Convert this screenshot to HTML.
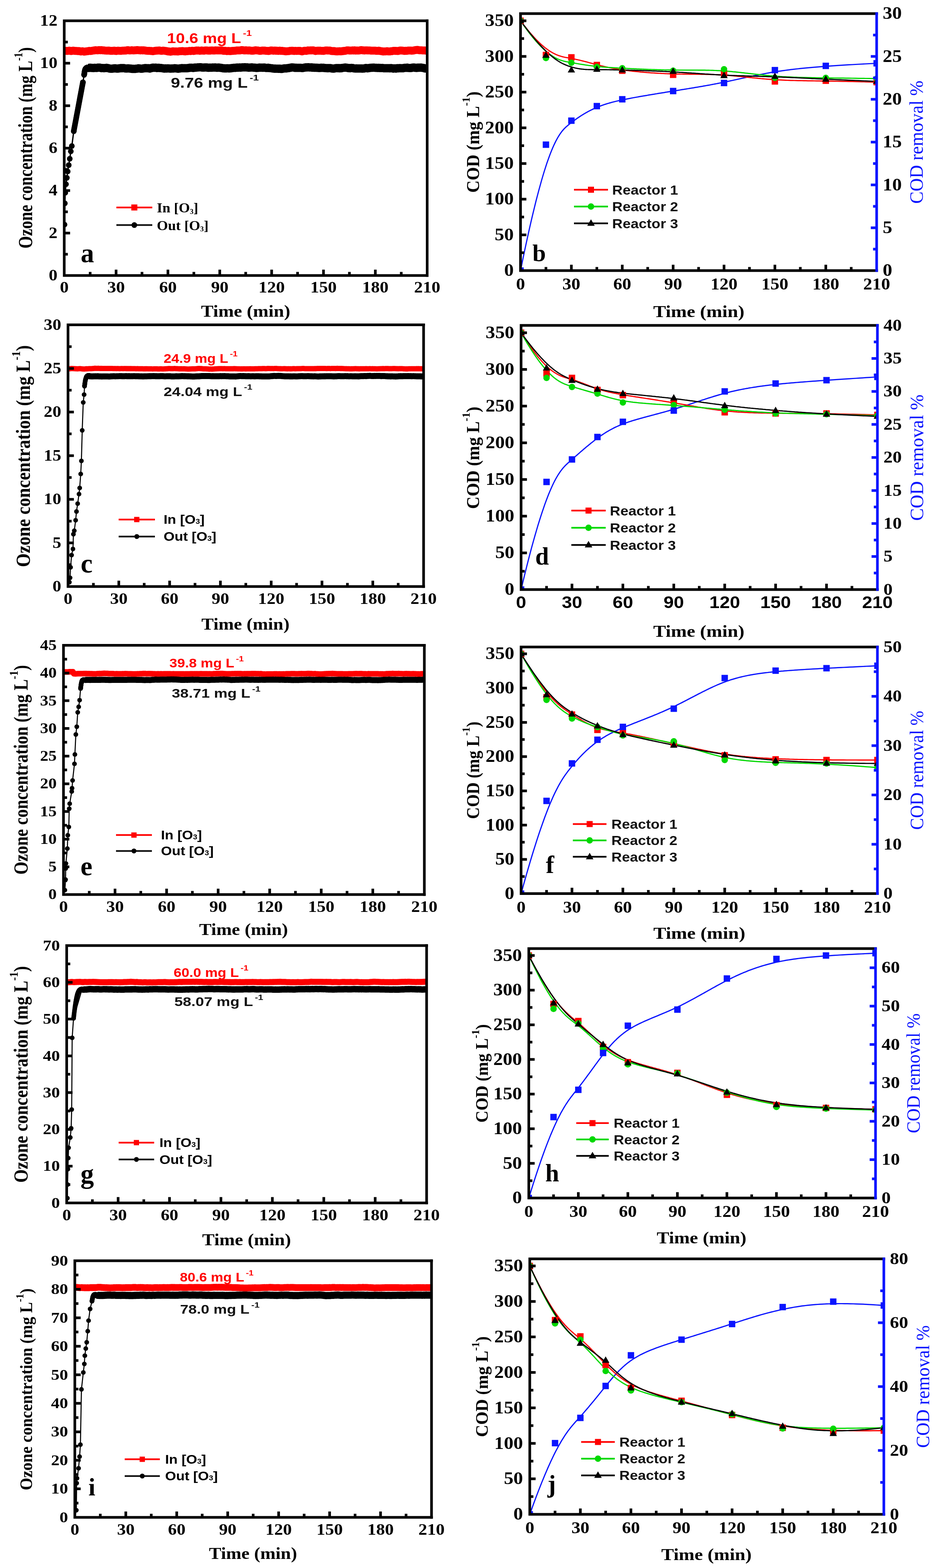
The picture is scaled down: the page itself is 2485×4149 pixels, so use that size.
<!DOCTYPE html>
<html><head><meta charset="utf-8"><title>Ozone concentration and COD removal</title>
<style>html,body{margin:0;padding:0;background:#fff;}svg{display:block;}</style></head>
<body><svg xmlns="http://www.w3.org/2000/svg" width="2485" height="4149" viewBox="0 0 2485 4149">
<rect x="0" y="0" width="2485" height="4149" fill="#fff"/>
<clipPath id="cpa"><rect x="170" y="55" width="960.5" height="674"/></clipPath><g clip-path="url(#cpa)">
<polyline points="170,134.2 172.3,134.3 174.6,134.6 176.9,134.7 179.1,134.7 181.4,134.3 183.7,133.9 186,134.4 188.3,135.1 190.6,134.7 192.9,133.9 195.2,134.3 197.4,134.5 199.7,134.8 202,134.8 204.3,135 206.6,135.2 208.9,135 211.2,135.6 213.5,136.2 215.7,136 218,135.6 220.3,135.9 222.6,136.7 224.9,136.3 227.2,136 229.5,135.8 231.7,135.6 234,135 236.3,134.6 238.6,134.9 240.9,134.8 243.2,134.4 245.5,134 247.8,133.6 250,133.5 252.3,132.8 254.6,132.9 256.9,133.1 259.2,133.2 261.5,132.6 263.8,132.7 266.1,133 268.3,132.6 270.6,132.9 272.9,133.3 275.2,133.2 277.5,133.7 279.8,133.9 282.1,134.1 284.3,134.1 286.6,133.8 288.9,133.9 291.2,134.3 293.5,134.6 295.8,134.4 298.1,134.4 300.4,134.1 302.6,133.9 304.9,134.6 307.2,134.9 309.5,134.4 311.8,134.1 314.1,134.2 316.4,134.4 318.6,134.6 320.9,134.5 323.2,134.1 325.5,134.1 327.8,134.1 330.1,133.7 332.4,133.9 334.7,133.5 336.9,132.7 339.2,132.8 341.5,133.3 343.8,133.6 346.1,133.4 348.4,132.8 350.7,133.2 353,133.4 355.2,133.3 357.5,133 359.8,133.1 362.1,132.6 364.4,132.6 366.7,133 369,133.1 371.2,133.4 373.5,132.9 375.8,132.9 378.1,133.5 380.4,133.1 382.7,133.4 385,133.8 387.3,134.2 389.5,134.4 391.8,134.6 394.1,134.5 396.4,134.6 398.7,134.9 401,134.8 403.3,135.4 405.6,135.4 407.8,134.8 410.1,134.5 412.4,134.3 414.7,133.9 417,134 419.3,133.7 421.6,133.6 423.8,134.1 426.1,134.5 428.4,134.5 430.7,134 433,134 435.3,134.4 437.6,134.6 439.9,135 442.1,135.6 444.4,136.2 446.7,135.9 449,136.5 451.3,136.9 453.6,136.3 455.9,136 458.1,135.7 460.4,135.9 462.7,136.1 465,135.9 467.3,136.1 469.6,136.2 471.9,136.2 474.2,135.5 476.4,135.5 478.7,135.5 481,135.2 483.3,135.1 485.6,135.5 487.9,135.8 490.2,136 492.5,135.4 494.7,135.6 497,135.4 499.3,135 501.6,134.6 503.9,135.2 506.2,134.8 508.5,134.3 510.7,134.4 513,134.9 515.3,134.3 517.6,134 519.9,133.6 522.2,134 524.5,133.6 526.8,134.1 529,134.4 531.3,134.1 533.6,133.5 535.9,134.1 538.2,134 540.5,134.2 542.8,133.6 545.1,133.5 547.3,133.5 549.6,133.8 551.9,134.1 554.2,133.8 556.5,133.9 558.8,133.4 561.1,133.4 563.3,133.7 565.6,133.8 567.9,133.8 570.2,133.2 572.5,133.4 574.8,133.6 577.1,133.6 579.4,133.6 581.6,133.4 583.9,133.6 586.2,133.2 588.5,133.8 590.8,134.5 593.1,134.4 595.4,134.3 597.7,134.6 599.9,135.2 602.2,135.1 604.5,134.7 606.8,135 609.1,135.2 611.4,135 613.7,134.8 615.9,134.5 618.2,134.4 620.5,134.3 622.8,134.3 625.1,133.8 627.4,133.4 629.7,133.4 632,133.4 634.2,133.6 636.5,133.2 638.8,132.5 641.1,132.6 643.4,132.8 645.7,133.4 648,133.5 650.2,132.9 652.5,133.3 654.8,133.4 657.1,133.7 659.4,133.3 661.7,133.7 664,134 666.3,134.2 668.5,134.3 670.8,134 673.1,133.8 675.4,133.1 677.7,133.1 680,133.4 682.3,133.5 684.6,134.1 686.8,134.6 689.1,134.6 691.4,134.2 693.7,133.8 696,133.7 698.3,133.9 700.6,133.8 702.8,134.3 705.1,134.6 707.4,134.5 709.7,134.9 712,134.8 714.3,134 716.6,133.6 718.9,133.5 721.1,133.8 723.4,134.3 725.7,133.9 728,133.7 730.3,134.4 732.6,134.1 734.9,134.6 737.2,134.7 739.4,134 741.7,134.2 744,134.7 746.3,134.4 748.6,134.8 750.9,135.1 753.2,135.2 755.4,135.7 757.7,135.7 760,135.6 762.3,135.4 764.6,135.2 766.9,134.5 769.2,134.4 771.5,134.2 773.7,134.2 776,134.6 778.3,134.9 780.6,134.5 782.9,134.6 785.2,134.8 787.5,134.6 789.8,134.4 792,134.7 794.3,134.6 796.6,135.2 798.9,135.9 801.2,135.4 803.5,134.7 805.8,134.3 808,134.3 810.3,134.7 812.6,134.2 814.9,133.3 817.2,133.7 819.5,133.4 821.8,133.3 824.1,133.5 826.3,133.3 828.6,133.1 830.9,133.7 833.2,134.4 835.5,135 837.8,134.3 840.1,134.1 842.4,134 844.6,134.3 846.9,134 849.2,134.3 851.5,134.6 853.8,134.5 856.1,134.7 858.4,134.2 860.6,133.7 862.9,133.5 865.2,133.4 867.5,133.8 869.8,133.7 872.1,133.7 874.4,134.1 876.7,134.9 878.9,135 881.2,135.2 883.5,135 885.8,135.2 888.1,135.9 890.4,136.1 892.7,136.1 894.9,135.7 897.2,135.8 899.5,135.5 901.8,135.9 904.1,135.7 906.4,135 908.7,135.2 911,134.4 913.2,134.7 915.5,134.1 917.8,133.3 920.1,133.2 922.4,133.2 924.7,133.7 927,133.7 929.3,133.7 931.5,133.6 933.8,133.2 936.1,133.8 938.4,133.1 940.7,133.9 943,133.7 945.3,133.6 947.5,133.8 949.8,133.7 952.1,133.3 954.4,132.7 956.7,132.6 959,133.2 961.3,133.1 963.6,133.7 965.8,133.2 968.1,133.4 970.4,133.2 972.7,133.5 975,133.4 977.3,133.4 979.6,133.7 981.9,134 984.1,133.9 986.4,134.1 988.7,133.9 991,134 993.3,133.9 995.6,134.5 997.9,134.5 1000.1,134.4 1002.4,133.9 1004.7,134.7 1007,135.1 1009.3,135.4 1011.6,135.8 1013.9,136.3 1016.2,136 1018.4,136 1020.7,135.9 1023,135.6 1025.3,135.5 1027.6,136 1029.9,135.9 1032.2,136 1034.5,135.5 1036.7,135.4 1039,134.9 1041.3,134.4 1043.6,134.4 1045.9,134.7 1048.2,134.6 1050.5,134.8 1052.7,135 1055,134.7 1057.3,133.9 1059.6,133.6 1061.9,133.8 1064.2,133.8 1066.5,134.1 1068.8,134.6 1071,134.8 1073.3,134.3 1075.6,134.5 1077.9,134.3 1080.2,133.7 1082.5,133.8 1084.8,133.7 1087,133.8 1089.3,134.2 1091.6,133.9 1093.9,133.8 1096.2,133.3 1098.5,132.6 1100.8,132.3 1103.1,132.2 1105.3,131.9 1107.6,132.4 1109.9,132.9 1112.2,133 1114.5,133.1 1116.8,133.2 1119.1,133.5 1121.4,133.5 1123.6,133.5 1125.9,133.7 1128.2,134 1130.5,134.6" fill="none" stroke="#ff0000" stroke-width="21" stroke-linejoin="round" stroke-linecap="butt"/>
<polyline points="170,729 170.7,594.2 171.6,538 172.7,510 174.6,487.5 176.9,470.6 179.1,453.8 181.9,436.9 184.6,420.1 187.4,400.4 190.1,386.4 195.2,347.1 219.4,217.9 223.1,195.4 232.2,178.6" fill="none" stroke="#000000" stroke-width="3.5" stroke-linejoin="round" stroke-linecap="round"/>
<circle cx="170.7" cy="594.2" r="7.5" fill="#000000"/>
<circle cx="171.6" cy="538" r="7.5" fill="#000000"/>
<circle cx="172.7" cy="510" r="7.5" fill="#000000"/>
<circle cx="174.6" cy="487.5" r="7.5" fill="#000000"/>
<circle cx="176.9" cy="470.6" r="7.5" fill="#000000"/>
<circle cx="179.1" cy="453.8" r="7.5" fill="#000000"/>
<circle cx="181.9" cy="436.9" r="7.5" fill="#000000"/>
<circle cx="184.6" cy="420.1" r="7.5" fill="#000000"/>
<circle cx="187.4" cy="400.4" r="7.5" fill="#000000"/>
<circle cx="190.1" cy="386.4" r="7.5" fill="#000000"/>
<circle cx="195.2" cy="347.1" r="7.5" fill="#000000"/>
<circle cx="219.4" cy="217.9" r="7.5" fill="#000000"/>
<circle cx="223.1" cy="195.4" r="7.5" fill="#000000"/>
<circle cx="195.2" cy="347.1" r="7.5" fill="#000000"/>
<circle cx="195.7" cy="344.1" r="7.5" fill="#000000"/>
<circle cx="196.3" cy="341.1" r="7.5" fill="#000000"/>
<circle cx="196.8" cy="338.1" r="7.5" fill="#000000"/>
<circle cx="197.4" cy="335" r="7.5" fill="#000000"/>
<circle cx="198" cy="332" r="7.5" fill="#000000"/>
<circle cx="198.5" cy="329" r="7.5" fill="#000000"/>
<circle cx="199.1" cy="326" r="7.5" fill="#000000"/>
<circle cx="199.7" cy="323" r="7.5" fill="#000000"/>
<circle cx="200.2" cy="320" r="7.5" fill="#000000"/>
<circle cx="200.8" cy="317" r="7.5" fill="#000000"/>
<circle cx="201.4" cy="314" r="7.5" fill="#000000"/>
<circle cx="201.9" cy="311" r="7.5" fill="#000000"/>
<circle cx="202.5" cy="308" r="7.5" fill="#000000"/>
<circle cx="203" cy="305" r="7.5" fill="#000000"/>
<circle cx="203.6" cy="302" r="7.5" fill="#000000"/>
<circle cx="204.2" cy="299" r="7.5" fill="#000000"/>
<circle cx="204.7" cy="296" r="7.5" fill="#000000"/>
<circle cx="205.3" cy="293" r="7.5" fill="#000000"/>
<circle cx="205.9" cy="290" r="7.5" fill="#000000"/>
<circle cx="206.4" cy="287" r="7.5" fill="#000000"/>
<circle cx="207" cy="284" r="7.5" fill="#000000"/>
<circle cx="207.6" cy="281" r="7.5" fill="#000000"/>
<circle cx="208.1" cy="278" r="7.5" fill="#000000"/>
<circle cx="208.7" cy="275" r="7.5" fill="#000000"/>
<circle cx="209.2" cy="272" r="7.5" fill="#000000"/>
<circle cx="209.8" cy="269" r="7.5" fill="#000000"/>
<circle cx="210.4" cy="266" r="7.5" fill="#000000"/>
<circle cx="210.9" cy="262.9" r="7.5" fill="#000000"/>
<circle cx="211.5" cy="259.9" r="7.5" fill="#000000"/>
<circle cx="212.1" cy="256.9" r="7.5" fill="#000000"/>
<circle cx="212.6" cy="253.9" r="7.5" fill="#000000"/>
<circle cx="213.2" cy="250.9" r="7.5" fill="#000000"/>
<circle cx="213.8" cy="247.9" r="7.5" fill="#000000"/>
<circle cx="214.3" cy="244.9" r="7.5" fill="#000000"/>
<circle cx="214.9" cy="241.9" r="7.5" fill="#000000"/>
<circle cx="215.5" cy="238.9" r="7.5" fill="#000000"/>
<circle cx="216" cy="235.9" r="7.5" fill="#000000"/>
<circle cx="216.6" cy="232.9" r="7.5" fill="#000000"/>
<circle cx="217.1" cy="229.9" r="7.5" fill="#000000"/>
<circle cx="217.7" cy="226.9" r="7.5" fill="#000000"/>
<circle cx="218.3" cy="223.9" r="7.5" fill="#000000"/>
<circle cx="218.8" cy="220.9" r="7.5" fill="#000000"/>
<circle cx="219.4" cy="217.9" r="7.5" fill="#000000"/>
<circle cx="222.6" cy="198.2" r="7.5" fill="#000000"/>
<circle cx="222.7" cy="197.4" r="7.5" fill="#000000"/>
<circle cx="222.9" cy="196.4" r="7.5" fill="#000000"/>
<circle cx="223.1" cy="195.1" r="7.5" fill="#000000"/>
<circle cx="223.3" cy="193.6" r="7.5" fill="#000000"/>
<circle cx="223.5" cy="192.1" r="7.5" fill="#000000"/>
<circle cx="223.8" cy="190.6" r="7.5" fill="#000000"/>
<circle cx="224" cy="189.1" r="7.5" fill="#000000"/>
<circle cx="224.3" cy="187.6" r="7.5" fill="#000000"/>
<circle cx="224.6" cy="186.4" r="7.5" fill="#000000"/>
<circle cx="224.9" cy="185.3" r="7.5" fill="#000000"/>
<circle cx="225.2" cy="184.4" r="7.5" fill="#000000"/>
<circle cx="225.5" cy="183.6" r="7.5" fill="#000000"/>
<circle cx="225.9" cy="182.9" r="7.5" fill="#000000"/>
<circle cx="226.3" cy="182.3" r="7.5" fill="#000000"/>
<circle cx="226.6" cy="181.8" r="7.5" fill="#000000"/>
<circle cx="227" cy="181.3" r="7.5" fill="#000000"/>
<circle cx="227.4" cy="180.8" r="7.5" fill="#000000"/>
<circle cx="227.8" cy="180.4" r="7.5" fill="#000000"/>
<circle cx="228.2" cy="180" r="7.5" fill="#000000"/>
<circle cx="228.5" cy="179.7" r="7.5" fill="#000000"/>
<circle cx="228.9" cy="179.4" r="7.5" fill="#000000"/>
<circle cx="229.3" cy="179.2" r="7.5" fill="#000000"/>
<circle cx="229.8" cy="179" r="7.5" fill="#000000"/>
<circle cx="230.2" cy="178.9" r="7.5" fill="#000000"/>
<circle cx="230.6" cy="178.8" r="7.5" fill="#000000"/>
<circle cx="231" cy="178.7" r="7.5" fill="#000000"/>
<circle cx="231.4" cy="178.7" r="7.5" fill="#000000"/>
<circle cx="231.7" cy="178.6" r="7.5" fill="#000000"/>
<circle cx="232" cy="178.6" r="7.5" fill="#000000"/>
<circle cx="232.2" cy="178.6" r="7.5" fill="#000000"/>
<polyline points="232.2,178.6 234,179.8 236.3,179.5 238.6,179.3 240.9,179.5 243.2,179.7 245.5,179.8 247.8,180.1 250,179.6 252.3,179.6 254.6,179.8 256.9,179.6 259.2,179 261.5,179 263.8,179.1 266.1,179.6 268.3,180.2 270.6,180 272.9,179.9 275.2,180.6 277.5,179.9 279.8,180.1 282.1,179.6 284.3,180 286.6,180.4 288.9,181.2 291.2,181.6 293.5,181.8 295.8,181.7 298.1,181.5 300.4,181.2 302.6,180.9 304.9,180.8 307.2,181.2 309.5,181.5 311.8,181.5 314.1,180.9 316.4,180.9 318.6,180.3 320.9,180.3 323.2,180.5 325.5,180.2 327.8,180.3 330.1,180.8 332.4,181.2 334.7,181.2 336.9,181.2 339.2,180.9 341.5,181.1 343.8,181.5 346.1,181.4 348.4,182 350.7,182.2 353,182.1 355.2,182.3 357.5,182.3 359.8,181.7 362.1,181.7 364.4,181.3 366.7,180.8 369,181.1 371.2,181.4 373.5,181.8 375.8,181.7 378.1,181.3 380.4,180.8 382.7,180.5 385,180.2 387.3,180.5 389.5,180.4 391.8,180.7 394.1,180.6 396.4,181.4 398.7,180.6 401,180 403.3,179.2 405.6,179.1 407.8,179.4 410.1,179.2 412.4,179.1 414.7,179.9 417,179.4 419.3,179.7 421.6,179.4 423.8,180.1 426.1,180 428.4,180.3 430.7,180.6 433,181.3 435.3,181.4 437.6,181 439.9,181.2 442.1,181.2 444.4,180.9 446.7,181.1 449,181.3 451.3,181.6 453.6,181.3 455.9,181.3 458.1,181.2 460.4,181 462.7,180.6 465,180.9 467.3,181.2 469.6,181.5 471.9,181.8 474.2,181.3 476.4,181 478.7,180.7 481,180.3 483.3,180.5 485.6,180.4 487.9,180.6 490.2,180.5 492.5,180.5 494.7,180.5 497,180.3 499.3,179.9 501.6,179.3 503.9,179.4 506.2,179.2 508.5,179.4 510.7,179.8 513,179.5 515.3,178.8 517.6,179 519.9,178.8 522.2,178.6 524.5,178.2 526.8,178.2 529,178.1 531.3,178.1 533.6,178.6 535.9,178.8 538.2,178.8 540.5,178.7 542.8,178.4 545.1,178.5 547.3,178.5 549.6,179.1 551.9,179.3 554.2,179 556.5,179 558.8,179 561.1,179 563.3,178.6 565.6,178.8 567.9,178.6 570.2,178.6 572.5,179 574.8,179.3 577.1,178.8 579.4,178.8 581.6,179.3 583.9,179.4 586.2,179.8 588.5,180.2 590.8,180.7 593.1,180.7 595.4,181 597.7,181.1 599.9,180.7 602.2,180.7 604.5,180.9 606.8,180.9 609.1,180.8 611.4,180.5 613.7,180.3 615.9,179.9 618.2,179.6 620.5,179.5 622.8,179.5 625.1,179.2 627.4,178.7 629.7,179.1 632,178.9 634.2,178.4 636.5,178.9 638.8,178.7 641.1,178.3 643.4,178.3 645.7,178.2 648,178.1 650.2,178.2 652.5,178.4 654.8,178.3 657.1,179 659.4,178.9 661.7,178.8 664,178.7 666.3,178.3 668.5,178.7 670.8,178.9 673.1,179 675.4,179.2 677.7,179.6 680,179.7 682.3,179.4 684.6,179.3 686.8,178.8 689.1,178.9 691.4,178.9 693.7,179 696,179.2 698.3,178.7 700.6,179 702.8,179.5 705.1,179.7 707.4,179.7 709.7,179.3 712,180 714.3,180.1 716.6,180.4 718.9,180.6 721.1,181.1 723.4,181.4 725.7,181.7 728,181.5 730.3,181.7 732.6,181.8 734.9,181.8 737.2,182 739.4,181.8 741.7,181.8 744,182.4 746.3,182.2 748.6,181.7 750.9,181.2 753.2,181 755.4,181.1 757.7,181 760,180.5 762.3,180.3 764.6,180 766.9,179.4 769.2,179.2 771.5,178.5 773.7,178.4 776,178.6 778.3,178.9 780.6,179.4 782.9,179.3 785.2,179.5 787.5,179.5 789.8,179.6 792,179.5 794.3,179.6 796.6,179.6 798.9,180 801.2,180 803.5,179.3 805.8,179 808,178.5 810.3,178.2 812.6,178.6 814.9,177.9 817.2,178.2 819.5,178.5 821.8,178.4 824.1,178.3 826.3,179 828.6,178.8 830.9,179.2 833.2,179.1 835.5,179.3 837.8,179.3 840.1,179.5 842.4,179.6 844.6,179.9 846.9,179.7 849.2,179.2 851.5,179.3 853.8,179.6 856.1,179.3 858.4,180 860.6,180.1 862.9,180.2 865.2,180.3 867.5,180.5 869.8,180.2 872.1,180.3 874.4,180.2 876.7,180.8 878.9,181.3 881.2,181.4 883.5,181.4 885.8,180.9 888.1,180.5 890.4,180.3 892.7,180.3 894.9,180.5 897.2,180.2 899.5,180.7 901.8,180.3 904.1,180.4 906.4,179.6 908.7,179.4 911,179.1 913.2,178.7 915.5,179.1 917.8,179.3 920.1,179.7 922.4,180.2 924.7,180 927,180.5 929.3,179.8 931.5,180 933.8,180.1 936.1,180.9 938.4,181.1 940.7,181.3 943,181.1 945.3,181.2 947.5,181.3 949.8,181.3 952.1,181.3 954.4,181.3 956.7,181.2 959,181.6 961.3,181.4 963.6,181.2 965.8,180.6 968.1,180.1 970.4,180.2 972.7,180.7 975,180.3 977.3,180 979.6,179.5 981.9,179.4 984.1,179.2 986.4,179.2 988.7,178.9 991,179.2 993.3,179.4 995.6,179.4 997.9,179.7 1000.1,179.7 1002.4,179.6 1004.7,179.9 1007,179.8 1009.3,180.1 1011.6,179.8 1013.9,180.2 1016.2,180.5 1018.4,180.4 1020.7,180.6 1023,180.4 1025.3,180.4 1027.6,180.5 1029.9,180.5 1032.2,180.7 1034.5,180.3 1036.7,180.5 1039,180.9 1041.3,181.4 1043.6,181 1045.9,180.9 1048.2,181.4 1050.5,180.6 1052.7,180.6 1055,180.7 1057.3,180.3 1059.6,180.3 1061.9,180.6 1064.2,180.6 1066.5,180.5 1068.8,179.9 1071,179.5 1073.3,179.4 1075.6,179.5 1077.9,179 1080.2,179.7 1082.5,179.9 1084.8,180.1 1087,179.8 1089.3,179.7 1091.6,178.9 1093.9,178.8 1096.2,178.7 1098.5,179.3 1100.8,179.6 1103.1,179.7 1105.3,178.9 1107.6,179.2 1109.9,179 1112.2,178.9 1114.5,178.8 1116.8,179.4 1119.1,179.4 1121.4,180.1 1123.6,180.8 1125.9,181.2 1128.2,180.9 1130.5,180.4" fill="none" stroke="#000000" stroke-width="22" stroke-linejoin="round" stroke-linecap="butt"/>
</g>
<path d="M1130.5 55 L170 55 L170 729 L1130.5 729" fill="none" stroke="#000" stroke-width="7" stroke-linecap="square" stroke-linejoin="miter"/>
<path d="M1130.5 55 L1130.5 729" fill="none" stroke="#000000" stroke-width="7" stroke-linecap="square"/>
<path d="M238.6 729 V719.5 M307.2 729 V713.5 M375.8 729 V719.5 M444.4 729 V713.5 M513 729 V719.5 M581.6 729 V713.5 M650.2 729 V719.5 M718.9 729 V713.5 M787.5 729 V719.5 M856.1 729 V713.5 M924.7 729 V719.5 M993.3 729 V713.5 M1061.9 729 V719.5" stroke="#000" stroke-width="7" fill="none"/>
<text transform="translate(170 774) scale(1.0800 1)" x="0" y="0" font-family="'Liberation Serif', 'Times New Roman', serif" font-size="43" font-weight="bold" text-anchor="middle" fill="#000000">0</text>
<text transform="translate(307.2 774) scale(1.0800 1)" x="0" y="0" font-family="'Liberation Serif', 'Times New Roman', serif" font-size="43" font-weight="bold" text-anchor="middle" fill="#000000">30</text>
<text transform="translate(444.4 774) scale(1.0800 1)" x="0" y="0" font-family="'Liberation Serif', 'Times New Roman', serif" font-size="43" font-weight="bold" text-anchor="middle" fill="#000000">60</text>
<text transform="translate(581.6 774) scale(1.0800 1)" x="0" y="0" font-family="'Liberation Serif', 'Times New Roman', serif" font-size="43" font-weight="bold" text-anchor="middle" fill="#000000">90</text>
<text transform="translate(718.9 774) scale(1.0800 1)" x="0" y="0" font-family="'Liberation Serif', 'Times New Roman', serif" font-size="43" font-weight="bold" text-anchor="middle" fill="#000000">120</text>
<text transform="translate(856.1 774) scale(1.0800 1)" x="0" y="0" font-family="'Liberation Serif', 'Times New Roman', serif" font-size="43" font-weight="bold" text-anchor="middle" fill="#000000">150</text>
<text transform="translate(993.3 774) scale(1.0800 1)" x="0" y="0" font-family="'Liberation Serif', 'Times New Roman', serif" font-size="43" font-weight="bold" text-anchor="middle" fill="#000000">180</text>
<text transform="translate(1130.5 774) scale(1.0800 1)" x="0" y="0" font-family="'Liberation Serif', 'Times New Roman', serif" font-size="43" font-weight="bold" text-anchor="middle" fill="#000000">210</text>
<path d="M170 672.8 H179.5 M170 616.7 H185.5 M170 560.5 H179.5 M170 504.3 H185.5 M170 448.2 H179.5 M170 392 H185.5 M170 335.8 H179.5 M170 279.7 H185.5 M170 223.5 H179.5 M170 167.3 H185.5 M170 111.2 H179.5" stroke="#000" stroke-width="7" fill="none"/>
<text transform="translate(152 742) scale(1.1000 1)" x="0" y="0" font-family="'Liberation Serif', 'Times New Roman', serif" font-size="42" font-weight="bold" text-anchor="end" fill="#000000">0</text>
<text transform="translate(152 629.7) scale(1.1000 1)" x="0" y="0" font-family="'Liberation Serif', 'Times New Roman', serif" font-size="42" font-weight="bold" text-anchor="end" fill="#000000">2</text>
<text transform="translate(152 517.4) scale(1.1000 1)" x="0" y="0" font-family="'Liberation Serif', 'Times New Roman', serif" font-size="42" font-weight="bold" text-anchor="end" fill="#000000">4</text>
<text transform="translate(152 405) scale(1.1000 1)" x="0" y="0" font-family="'Liberation Serif', 'Times New Roman', serif" font-size="42" font-weight="bold" text-anchor="end" fill="#000000">6</text>
<text transform="translate(152 292.7) scale(1.1000 1)" x="0" y="0" font-family="'Liberation Serif', 'Times New Roman', serif" font-size="42" font-weight="bold" text-anchor="end" fill="#000000">8</text>
<text transform="translate(152 180.4) scale(1.1000 1)" x="0" y="0" font-family="'Liberation Serif', 'Times New Roman', serif" font-size="42" font-weight="bold" text-anchor="end" fill="#000000">10</text>
<text transform="translate(152 68) scale(1.1000 1)" x="0" y="0" font-family="'Liberation Serif', 'Times New Roman', serif" font-size="42" font-weight="bold" text-anchor="end" fill="#000000">12</text>
<text transform="translate(85 391.2) rotate(-90) scale(0.8166 1)" x="0" y="0" font-family="'Liberation Serif', 'Times New Roman', serif" font-size="52" font-weight="bold" text-anchor="middle" fill="#000000">Ozone concentration (mg L<tspan font-size="32.2" dy="-26">-1</tspan><tspan dy="26">)</tspan></text>
<text transform="translate(650.1 837.5) scale(1.1089 1)" x="0" y="0" font-family="'Liberation Serif', 'Times New Roman', serif" font-size="44.5" font-weight="bold" text-anchor="middle" fill="#000000">Time (min)</text>
<text transform="translate(442 113.5) scale(1.1484 1)" x="0" y="0" font-family="'Liberation Sans', Arial, sans-serif" font-size="37" font-weight="bold" text-anchor="start" fill="#ff0000">10.6 mg L<tspan font-size="22.9" dx="4.4" dy="-18.5">-1</tspan></text>
<text transform="translate(452 231.5) scale(1.1923 1)" x="0" y="0" font-family="'Liberation Sans', Arial, sans-serif" font-size="37" font-weight="bold" text-anchor="start" fill="#111">9.76 mg L<tspan font-size="22.9" dx="4.4" dy="-18.5">-1</tspan></text>
<polyline points="308,549 403,549" fill="none" stroke="#ff0000" stroke-width="4.5" stroke-linejoin="round" stroke-linecap="butt"/>
<rect x="347.5" y="541" width="16" height="16" fill="#ff0000"/>
<polyline points="308,595.6 403,595.6" fill="none" stroke="#111" stroke-width="4.5" stroke-linejoin="round" stroke-linecap="butt"/>
<circle cx="355.5" cy="595.6" r="7.5" fill="#000000"/>
<text transform="translate(415 562) scale(1.0539 1)" x="0" y="0" font-family="'Liberation Serif', serif" font-size="36" font-weight="bold" text-anchor="start" fill="#000000">In [O<tspan font-size="18" dy="3.6">3</tspan><tspan dy="-3.6">]</tspan></text>
<text transform="translate(415 608.6) scale(1.0539 1)" x="0" y="0" font-family="'Liberation Serif', serif" font-size="36" font-weight="bold" text-anchor="start" fill="#000000">Out [O<tspan font-size="18" dy="3.6">3</tspan><tspan dy="-3.6">]</tspan></text>
<text x="213.5" y="694" font-family="'Liberation Serif', 'Times New Roman', serif" font-size="71" font-weight="bold" text-anchor="start" fill="#000000">a</text>
<clipPath id="cpc"><rect x="180" y="859.5" width="941" height="692.5"/></clipPath><g clip-path="url(#cpc)">
<polyline points="180,975.4 182.2,975.6 184.5,975.7 186.7,975.4 189,975.1 191.2,975.2 193.4,975.3 195.7,975.4 197.9,975.5 200.2,975.7 202.4,975.8 204.6,975.9 206.9,975.8 209.1,975.6 211.4,975.6 213.6,975.6 215.8,975.9 218.1,976.2 220.3,976.3 222.6,976.4 224.8,976.3 227.1,976 229.3,975.8 231.5,975.9 233.8,975.7 236,975.5 238.3,975.6 240.5,975.4 242.7,975.4 245,975.2 247.2,975.1 249.5,974.8 251.7,974.5 253.9,974.7 256.2,974.7 258.4,974.7 260.7,974.6 262.9,974.8 265.1,974.9 267.4,974.8 269.6,974.9 271.9,974.9 274.1,975.1 276.3,974.9 278.6,974.9 280.8,975.1 283.1,974.9 285.3,974.9 287.5,974.9 289.8,974.9 292,975 294.3,975 296.5,975.1 298.7,975.2 301,975.2 303.2,975.2 305.5,975.2 307.7,975.4 309.9,975.3 312.2,975.2 314.4,975.4 316.7,975.4 318.9,975.4 321.1,975.2 323.4,975.3 325.6,975.4 327.9,975.3 330.1,975.3 332.4,975.2 334.6,975.5 336.8,975.3 339.1,975.4 341.3,975.3 343.6,975.4 345.8,975.3 348,975.5 350.3,975.5 352.5,975.5 354.8,975.5 357,975.4 359.2,975.7 361.5,975.7 363.7,975.4 366,975.7 368.2,975.8 370.4,975.8 372.7,975.8 374.9,975.8 377.2,975.8 379.4,975.9 381.6,975.9 383.9,975.8 386.1,976 388.4,975.7 390.6,975.9 392.8,976 395.1,976 397.3,976 399.6,976 401.8,976.1 404,976.3 406.3,976.1 408.5,976.1 410.8,976.1 413,976 415.2,976 417.5,976.3 419.7,976.2 422,976.3 424.2,976 426.5,976 428.7,976.2 430.9,976.3 433.2,976.2 435.4,976.1 437.7,976 439.9,975.7 442.1,975.8 444.4,975.5 446.6,975.3 448.9,975.3 451.1,975.4 453.3,975.4 455.6,975.4 457.8,975.4 460.1,975.3 462.3,975.1 464.5,975.4 466.8,975.4 469,975.6 471.3,975.7 473.5,975.9 475.7,975.8 478,975.9 480.2,975.8 482.5,975.9 484.7,976 486.9,975.8 489.2,975.9 491.4,976.2 493.7,976.3 495.9,976.4 498.1,976.5 500.4,976.5 502.6,976.3 504.9,976.3 507.1,976.1 509.4,976 511.6,976 513.8,975.9 516.1,976 518.3,975.8 520.6,975.6 522.8,975.3 525,975.1 527.3,975.1 529.5,975.2 531.8,975.2 534,975.5 536.2,975.8 538.5,976 540.7,976.1 543,976 545.2,976 547.4,976.2 549.7,976.3 551.9,976.5 554.2,976.7 556.4,976.6 558.6,976.6 560.9,976.7 563.1,976.4 565.4,976.4 567.6,976.2 569.8,975.9 572.1,975.9 574.3,975.8 576.6,975.7 578.8,975.5 581,975.6 583.3,975.5 585.5,975.5 587.8,975.6 590,975.7 592.2,975.6 594.5,975.6 596.7,975.7 599,975.7 601.2,975.8 603.5,975.8 605.7,975.7 607.9,975.7 610.2,975.8 612.4,975.7 614.7,975.8 616.9,975.8 619.1,975.5 621.4,975.5 623.6,975.7 625.9,975.7 628.1,975.9 630.3,975.9 632.6,975.9 634.8,976.1 637.1,976.2 639.3,976.1 641.5,976.2 643.8,975.9 646,976 648.3,976 650.5,976.2 652.7,976 655,976 657.2,976 659.5,975.9 661.7,975.8 663.9,976 666.2,976 668.4,976.1 670.7,975.9 672.9,976 675.1,975.7 677.4,975.7 679.6,975.8 681.9,975.7 684.1,975.6 686.3,975.5 688.6,975.6 690.8,975.6 693.1,975.5 695.3,975.2 697.5,975.2 699.8,975.3 702,975.4 704.3,975.4 706.5,975.3 708.8,975 711,974.9 713.2,975.1 715.5,975.3 717.7,975.3 720,975.3 722.2,975.3 724.4,975.4 726.7,975.1 728.9,975.1 731.2,975 733.4,975.3 735.6,975.5 737.9,975.4 740.1,975.7 742.4,975.6 744.6,975.7 746.8,975.8 749.1,975.6 751.3,975.4 753.6,975.4 755.8,975.7 758,975.8 760.3,976 762.5,975.8 764.8,975.7 767,975.9 769.2,975.8 771.5,975.9 773.7,975.7 776,975.4 778.2,975.4 780.4,975.8 782.7,975.8 784.9,975.6 787.2,975.6 789.4,975.4 791.6,975.5 793.9,975.4 796.1,975.5 798.4,975.3 800.6,975.1 802.9,975 805.1,975.3 807.3,975.4 809.6,975.5 811.8,975.4 814.1,975.4 816.3,975.4 818.5,975.5 820.8,975.5 823,975.6 825.3,975.5 827.5,975.5 829.7,975.6 832,975.6 834.2,975.3 836.5,975.4 838.7,975.1 840.9,975.1 843.2,975.1 845.4,974.9 847.7,975 849.9,974.9 852.1,974.9 854.4,975 856.6,974.9 858.9,975 861.1,975.1 863.3,975.3 865.6,975.2 867.8,975.1 870.1,975.1 872.3,975.1 874.5,975.4 876.8,975.1 879,975.1 881.3,975 883.5,975 885.8,975 888,975.2 890.2,974.9 892.5,974.8 894.7,975 897,975 899.2,975 901.4,975.3 903.7,975 905.9,975.3 908.2,975.3 910.4,975.4 912.6,975.6 914.9,975.7 917.1,975.6 919.4,975.8 921.6,975.7 923.8,975.8 926.1,976 928.3,976.1 930.6,975.8 932.8,975.9 935,975.7 937.3,975.7 939.5,975.6 941.8,975.6 944,975.7 946.2,975.7 948.5,975.8 950.7,976.1 953,975.8 955.2,975.8 957.4,975.7 959.7,975.7 961.9,975.8 964.2,975.8 966.4,975.7 968.6,975.6 970.9,975.7 973.1,975.8 975.4,975.8 977.6,975.6 979.9,975.6 982.1,975.8 984.3,975.7 986.6,975.6 988.8,975.8 991.1,975.7 993.3,975.8 995.5,975.9 997.8,975.9 1000,975.9 1002.3,975.7 1004.5,975.7 1006.7,975.6 1009,975.4 1011.2,975.4 1013.5,975.3 1015.7,975.5 1017.9,975.4 1020.2,975.3 1022.4,975.3 1024.7,975.3 1026.9,975.3 1029.1,975.4 1031.4,975.4 1033.6,975.4 1035.9,975.4 1038.1,975.4 1040.3,975.2 1042.6,975.2 1044.8,975.2 1047.1,975.4 1049.3,975.5 1051.5,975.6 1053.8,975.7 1056,975.6 1058.3,975.6 1060.5,975.6 1062.7,975.6 1065,975.6 1067.2,975.8 1069.5,976.1 1071.7,976.1 1074,976.2 1076.2,976.1 1078.4,976.2 1080.7,975.9 1082.9,975.7 1085.2,975.9 1087.4,975.7 1089.6,975.7 1091.9,975.7 1094.1,975.8 1096.4,975.8 1098.6,975.8 1100.8,975.7 1103.1,975.6 1105.3,975.7 1107.6,975.5 1109.8,975.7 1112,975.7 1114.3,975.7 1116.5,975.8 1118.8,975.8 1121,975.8" fill="none" stroke="#ff0000" stroke-width="14" stroke-linejoin="round" stroke-linecap="butt"/>
<polyline points="180,1552 183.6,1540.5 185.4,1528.9 186.7,1501.2 189.4,1468.9 193,1452.7 194.3,1413.5 196.6,1404.3 200.2,1376.6 202.4,1353.5 205.5,1332.7 209.1,1307.3 210.9,1291.2 213.6,1254.2 215.4,1219.6 217.6,1138.8 220.3,1064.9 222.6,1044.2 223.7,1021.8 236.5,993.4" fill="none" stroke="#000000" stroke-width="2.8" stroke-linejoin="round" stroke-linecap="round"/>
<circle cx="183.6" cy="1540.5" r="6.2" fill="#000000"/>
<circle cx="185.4" cy="1528.9" r="6.2" fill="#000000"/>
<circle cx="186.7" cy="1501.2" r="6.2" fill="#000000"/>
<circle cx="189.4" cy="1468.9" r="6.2" fill="#000000"/>
<circle cx="193" cy="1452.7" r="6.2" fill="#000000"/>
<circle cx="194.3" cy="1413.5" r="6.2" fill="#000000"/>
<circle cx="196.6" cy="1404.3" r="6.2" fill="#000000"/>
<circle cx="200.2" cy="1376.6" r="6.2" fill="#000000"/>
<circle cx="202.4" cy="1353.5" r="6.2" fill="#000000"/>
<circle cx="205.5" cy="1332.7" r="6.2" fill="#000000"/>
<circle cx="209.1" cy="1307.3" r="6.2" fill="#000000"/>
<circle cx="210.9" cy="1291.2" r="6.2" fill="#000000"/>
<circle cx="213.6" cy="1254.2" r="6.2" fill="#000000"/>
<circle cx="215.4" cy="1219.6" r="6.2" fill="#000000"/>
<circle cx="217.6" cy="1138.8" r="6.2" fill="#000000"/>
<circle cx="220.3" cy="1064.9" r="6.2" fill="#000000"/>
<circle cx="222.6" cy="1044.2" r="6.2" fill="#000000"/>
<circle cx="223.7" cy="1021.8" r="6.2" fill="#000000"/>
<circle cx="223.7" cy="1021.8" r="6.2" fill="#000000"/>
<circle cx="223.8" cy="1020.9" r="6.2" fill="#000000"/>
<circle cx="224" cy="1019.7" r="6.2" fill="#000000"/>
<circle cx="224.1" cy="1018.4" r="6.2" fill="#000000"/>
<circle cx="224.3" cy="1016.8" r="6.2" fill="#000000"/>
<circle cx="224.5" cy="1015.2" r="6.2" fill="#000000"/>
<circle cx="224.7" cy="1013.4" r="6.2" fill="#000000"/>
<circle cx="225" cy="1011.7" r="6.2" fill="#000000"/>
<circle cx="225.2" cy="1010.1" r="6.2" fill="#000000"/>
<circle cx="225.5" cy="1008.6" r="6.2" fill="#000000"/>
<circle cx="225.7" cy="1007.2" r="6.2" fill="#000000"/>
<circle cx="226" cy="1006" r="6.2" fill="#000000"/>
<circle cx="226.2" cy="1004.8" r="6.2" fill="#000000"/>
<circle cx="226.5" cy="1003.6" r="6.2" fill="#000000"/>
<circle cx="226.8" cy="1002.4" r="6.2" fill="#000000"/>
<circle cx="227.1" cy="1001.3" r="6.2" fill="#000000"/>
<circle cx="227.5" cy="1000.3" r="6.2" fill="#000000"/>
<circle cx="227.8" cy="999.3" r="6.2" fill="#000000"/>
<circle cx="228.1" cy="998.4" r="6.2" fill="#000000"/>
<circle cx="228.5" cy="997.6" r="6.2" fill="#000000"/>
<circle cx="228.8" cy="996.8" r="6.2" fill="#000000"/>
<circle cx="229.2" cy="996.2" r="6.2" fill="#000000"/>
<circle cx="229.6" cy="995.7" r="6.2" fill="#000000"/>
<circle cx="230" cy="995.2" r="6.2" fill="#000000"/>
<circle cx="230.4" cy="994.8" r="6.2" fill="#000000"/>
<circle cx="230.8" cy="994.5" r="6.2" fill="#000000"/>
<circle cx="231.3" cy="994.2" r="6.2" fill="#000000"/>
<circle cx="231.7" cy="993.9" r="6.2" fill="#000000"/>
<circle cx="232.1" cy="993.7" r="6.2" fill="#000000"/>
<circle cx="232.5" cy="993.6" r="6.2" fill="#000000"/>
<circle cx="232.9" cy="993.4" r="6.2" fill="#000000"/>
<circle cx="233.3" cy="993.2" r="6.2" fill="#000000"/>
<circle cx="233.7" cy="993.2" r="6.2" fill="#000000"/>
<circle cx="234.1" cy="993.1" r="6.2" fill="#000000"/>
<circle cx="234.5" cy="993.1" r="6.2" fill="#000000"/>
<circle cx="234.9" cy="993.2" r="6.2" fill="#000000"/>
<circle cx="235.3" cy="993.2" r="6.2" fill="#000000"/>
<circle cx="235.7" cy="993.3" r="6.2" fill="#000000"/>
<circle cx="236" cy="993.3" r="6.2" fill="#000000"/>
<circle cx="236.2" cy="993.4" r="6.2" fill="#000000"/>
<circle cx="236.5" cy="993.4" r="6.2" fill="#000000"/>
<polyline points="236.5,993.4 238.3,995.7 240.5,995.7 242.7,996 245,996 247.2,995.7 249.5,995.8 251.7,995.6 253.9,995.7 256.2,995.8 258.4,995.5 260.7,995.8 262.9,996.1 265.1,996.1 267.4,996 269.6,996.2 271.9,996.1 274.1,996.1 276.3,996.1 278.6,996 280.8,996.1 283.1,995.9 285.3,996.1 287.5,996.2 289.8,996.2 292,996 294.3,995.7 296.5,995.8 298.7,995.6 301,995.5 303.2,995.6 305.5,995.8 307.7,995.6 309.9,995.4 312.2,995.6 314.4,995.4 316.7,995.2 318.9,995.2 321.1,995.2 323.4,995.5 325.6,995.4 327.9,995.4 330.1,995.4 332.4,995.2 334.6,995.2 336.8,995.5 339.1,995.5 341.3,995.3 343.6,995.4 345.8,995.6 348,995.4 350.3,995.4 352.5,995.4 354.8,995.2 357,995.4 359.2,995.4 361.5,995.6 363.7,995.5 366,995.5 368.2,995.8 370.4,995.7 372.7,995.9 374.9,995.7 377.2,996.1 379.4,996 381.6,995.7 383.9,995.8 386.1,995.7 388.4,995.8 390.6,995.6 392.8,995.6 395.1,995.6 397.3,995.3 399.6,995.4 401.8,995.3 404,995.3 406.3,995.1 408.5,995.2 410.8,995.4 413,995.3 415.2,995.4 417.5,995.5 419.7,995.4 422,995.5 424.2,995.3 426.5,995.3 428.7,995.2 430.9,995.3 433.2,995.6 435.4,995.7 437.7,995.8 439.9,995.6 442.1,995.6 444.4,995.5 446.6,995.5 448.9,995.6 451.1,995.6 453.3,996 455.6,996.1 457.8,996.1 460.1,996.1 462.3,995.9 464.5,995.7 466.8,995.6 469,995.7 471.3,995.7 473.5,995.8 475.7,995.6 478,995.5 480.2,995.2 482.5,995.1 484.7,995.3 486.9,995.5 489.2,995.3 491.4,995.4 493.7,995.4 495.9,995.7 498.1,995.5 500.4,995.8 502.6,995.8 504.9,996 507.1,996.1 509.4,996.3 511.6,996.3 513.8,996.3 516.1,996.1 518.3,996 520.6,995.8 522.8,995.7 525,995.7 527.3,995.7 529.5,995.4 531.8,995.2 534,995.1 536.2,995.1 538.5,995 540.7,995.1 543,994.9 545.2,994.9 547.4,995.1 549.7,995.1 551.9,995.1 554.2,995.1 556.4,995.2 558.6,995.4 560.9,995.4 563.1,995.3 565.4,995.5 567.6,995.6 569.8,995.5 572.1,995.4 574.3,995.5 576.6,995.4 578.8,995.4 581,995.4 583.3,995.1 585.5,995.4 587.8,995.3 590,995.3 592.2,995.2 594.5,995.1 596.7,995.3 599,995.4 601.2,995.5 603.5,995.5 605.7,995.8 607.9,995.9 610.2,995.9 612.4,996.1 614.7,996.1 616.9,996 619.1,996.1 621.4,996.1 623.6,996.2 625.9,995.9 628.1,995.7 630.3,995.6 632.6,995.3 634.8,995.1 637.1,995.1 639.3,995.2 641.5,995.3 643.8,995 646,995.2 648.3,995.3 650.5,995.5 652.7,995.5 655,995.5 657.2,995.3 659.5,995.6 661.7,995.6 663.9,995.8 666.2,995.6 668.4,995.6 670.7,995.5 672.9,995.7 675.1,995.7 677.4,995.5 679.6,995.5 681.9,995.4 684.1,995.4 686.3,995.7 688.6,995.8 690.8,995.8 693.1,996 695.3,996.1 697.5,995.9 699.8,995.9 702,995.9 704.3,996 706.5,996.1 708.8,996 711,995.9 713.2,995.9 715.5,995.6 717.7,995.3 720,995.3 722.2,995 724.4,994.7 726.7,994.7 728.9,994.9 731.2,994.9 733.4,994.8 735.6,994.7 737.9,994.6 740.1,994.8 742.4,994.8 744.6,995 746.8,995.2 749.1,995.4 751.3,995.6 753.6,995.7 755.8,995.8 758,995.7 760.3,995.8 762.5,995.7 764.8,995.8 767,995.9 769.2,995.8 771.5,996.1 773.7,996 776,995.8 778.2,995.8 780.4,995.8 782.7,995.9 784.9,995.9 787.2,995.9 789.4,995.7 791.6,995.5 793.9,995.4 796.1,995.3 798.4,995.3 800.6,995.3 802.9,995.5 805.1,995.6 807.3,995.5 809.6,995.4 811.8,995.4 814.1,995.2 816.3,995.3 818.5,995.5 820.8,995.6 823,995.7 825.3,995.6 827.5,995.8 829.7,995.9 832,995.6 834.2,995.7 836.5,995.9 838.7,996.1 840.9,996.2 843.2,996.2 845.4,996 847.7,995.8 849.9,995.9 852.1,995.7 854.4,995.7 856.6,995.7 858.9,995.5 861.1,995.7 863.3,995.6 865.6,995.5 867.8,995.5 870.1,995.4 872.3,995.5 874.5,995.5 876.8,995.6 879,995.7 881.3,995.8 883.5,996 885.8,995.8 888,995.8 890.2,995.7 892.5,995.4 894.7,995.3 897,995.3 899.2,995.3 901.4,995.4 903.7,995.5 905.9,995.6 908.2,995.5 910.4,995.4 912.6,995.3 914.9,995.3 917.1,995.4 919.4,995.3 921.6,995.6 923.8,995.8 926.1,995.6 928.3,995.5 930.6,995.6 932.8,995.8 935,995.8 937.3,995.7 939.5,995.6 941.8,995.7 944,995.8 946.2,995.8 948.5,996 950.7,995.7 953,995.4 955.2,995.3 957.4,995.3 959.7,995.2 961.9,995.2 964.2,995 966.4,995 968.6,995.2 970.9,995 973.1,994.8 975.4,994.8 977.6,994.6 979.9,994.6 982.1,994.9 984.3,995.1 986.6,995.1 988.8,995 991.1,994.7 993.3,994.9 995.5,994.8 997.8,994.7 1000,994.7 1002.3,994.8 1004.5,994.7 1006.7,994.9 1009,995.2 1011.2,995 1013.5,994.9 1015.7,995.1 1017.9,995.1 1020.2,995.3 1022.4,995.4 1024.7,995.5 1026.9,995.8 1029.1,995.8 1031.4,995.8 1033.6,996 1035.9,995.7 1038.1,995.7 1040.3,995.9 1042.6,996.1 1044.8,996 1047.1,996.2 1049.3,996 1051.5,995.9 1053.8,995.8 1056,995.5 1058.3,995.4 1060.5,995.3 1062.7,995.4 1065,995.6 1067.2,995.3 1069.5,995.2 1071.7,995.2 1074,995.2 1076.2,995.2 1078.4,995.2 1080.7,995.1 1082.9,995.3 1085.2,995.3 1087.4,995.3 1089.6,995.6 1091.9,995.4 1094.1,995.2 1096.4,995.4 1098.6,995.6 1100.8,995.6 1103.1,995.8 1105.3,995.6 1107.6,995.8 1109.8,995.7 1112,995.7 1114.3,996 1116.5,996.1 1118.8,996.1 1121,996.2" fill="none" stroke="#000000" stroke-width="16" stroke-linejoin="round" stroke-linecap="butt"/>
</g>
<path d="M1121 859.5 L180 859.5 L180 1552 L1121 1552" fill="none" stroke="#000" stroke-width="7" stroke-linecap="square" stroke-linejoin="miter"/>
<path d="M1121 859.5 L1121 1552" fill="none" stroke="#000000" stroke-width="7" stroke-linecap="square"/>
<path d="M247.2 1552 V1542.5 M314.4 1552 V1536.5 M381.6 1552 V1542.5 M448.9 1552 V1536.5 M516.1 1552 V1542.5 M583.3 1552 V1536.5 M650.5 1552 V1542.5 M717.7 1552 V1536.5 M784.9 1552 V1542.5 M852.1 1552 V1536.5 M919.4 1552 V1542.5 M986.6 1552 V1536.5 M1053.8 1552 V1542.5" stroke="#000" stroke-width="7" fill="none"/>
<text transform="translate(180 1598) scale(1.0800 1)" x="0" y="0" font-family="'Liberation Serif', 'Times New Roman', serif" font-size="43" font-weight="bold" text-anchor="middle" fill="#000000">0</text>
<text transform="translate(314.4 1598) scale(1.0800 1)" x="0" y="0" font-family="'Liberation Serif', 'Times New Roman', serif" font-size="43" font-weight="bold" text-anchor="middle" fill="#000000">30</text>
<text transform="translate(448.9 1598) scale(1.0800 1)" x="0" y="0" font-family="'Liberation Serif', 'Times New Roman', serif" font-size="43" font-weight="bold" text-anchor="middle" fill="#000000">60</text>
<text transform="translate(583.3 1598) scale(1.0800 1)" x="0" y="0" font-family="'Liberation Serif', 'Times New Roman', serif" font-size="43" font-weight="bold" text-anchor="middle" fill="#000000">90</text>
<text transform="translate(717.7 1598) scale(1.0800 1)" x="0" y="0" font-family="'Liberation Serif', 'Times New Roman', serif" font-size="43" font-weight="bold" text-anchor="middle" fill="#000000">120</text>
<text transform="translate(852.1 1598) scale(1.0800 1)" x="0" y="0" font-family="'Liberation Serif', 'Times New Roman', serif" font-size="43" font-weight="bold" text-anchor="middle" fill="#000000">150</text>
<text transform="translate(986.6 1598) scale(1.0800 1)" x="0" y="0" font-family="'Liberation Serif', 'Times New Roman', serif" font-size="43" font-weight="bold" text-anchor="middle" fill="#000000">180</text>
<text transform="translate(1121 1598) scale(1.0800 1)" x="0" y="0" font-family="'Liberation Serif', 'Times New Roman', serif" font-size="43" font-weight="bold" text-anchor="middle" fill="#000000">210</text>
<path d="M180 1494.3 H189.5 M180 1436.6 H195.5 M180 1378.9 H189.5 M180 1321.2 H195.5 M180 1263.5 H189.5 M180 1205.8 H195.5 M180 1148 H189.5 M180 1090.3 H195.5 M180 1032.6 H189.5 M180 974.9 H195.5 M180 917.2 H189.5" stroke="#000" stroke-width="7" fill="none"/>
<text transform="translate(162 1565) scale(1.1000 1)" x="0" y="0" font-family="'Liberation Serif', 'Times New Roman', serif" font-size="42" font-weight="bold" text-anchor="end" fill="#000000">0</text>
<text transform="translate(162 1449.6) scale(1.1000 1)" x="0" y="0" font-family="'Liberation Serif', 'Times New Roman', serif" font-size="42" font-weight="bold" text-anchor="end" fill="#000000">5</text>
<text transform="translate(162 1334.2) scale(1.1000 1)" x="0" y="0" font-family="'Liberation Serif', 'Times New Roman', serif" font-size="42" font-weight="bold" text-anchor="end" fill="#000000">10</text>
<text transform="translate(162 1218.8) scale(1.1000 1)" x="0" y="0" font-family="'Liberation Serif', 'Times New Roman', serif" font-size="42" font-weight="bold" text-anchor="end" fill="#000000">15</text>
<text transform="translate(162 1103.4) scale(1.1000 1)" x="0" y="0" font-family="'Liberation Serif', 'Times New Roman', serif" font-size="42" font-weight="bold" text-anchor="end" fill="#000000">20</text>
<text transform="translate(162 987.9) scale(1.1000 1)" x="0" y="0" font-family="'Liberation Serif', 'Times New Roman', serif" font-size="42" font-weight="bold" text-anchor="end" fill="#000000">25</text>
<text transform="translate(162 872.5) scale(1.1000 1)" x="0" y="0" font-family="'Liberation Serif', 'Times New Roman', serif" font-size="42" font-weight="bold" text-anchor="end" fill="#000000">30</text>
<text transform="translate(79 1207) rotate(-90) scale(0.9002 1)" x="0" y="0" font-family="'Liberation Serif', 'Times New Roman', serif" font-size="52" font-weight="bold" text-anchor="middle" fill="#000000">Ozone concentration (mg L<tspan font-size="32.2" dy="-26">-1</tspan><tspan dy="26">)</tspan></text>
<text transform="translate(649.6 1665.5) scale(1.0946 1)" x="0" y="0" font-family="'Liberation Serif', 'Times New Roman', serif" font-size="44.5" font-weight="bold" text-anchor="middle" fill="#000000">Time (min)</text>
<text transform="translate(433 959.5) scale(1.1234 1)" x="0" y="0" font-family="'Liberation Sans', Arial, sans-serif" font-size="33" font-weight="bold" text-anchor="start" fill="#ff0000">24.9 mg L<tspan font-size="20.5" dx="4" dy="-16.5">-1</tspan></text>
<text transform="translate(433 1047.5) scale(1.2194 1)" x="0" y="0" font-family="'Liberation Sans', Arial, sans-serif" font-size="33" font-weight="bold" text-anchor="start" fill="#111">24.04 mg L<tspan font-size="20.5" dx="4" dy="-16.5">-1</tspan></text>
<polyline points="314,1374.7 410,1374.7" fill="none" stroke="#ff0000" stroke-width="4.5" stroke-linejoin="round" stroke-linecap="butt"/>
<rect x="355" y="1367.7" width="14" height="14" fill="#ff0000"/>
<polyline points="314,1419.7 410,1419.7" fill="none" stroke="#111" stroke-width="4.5" stroke-linejoin="round" stroke-linecap="butt"/>
<circle cx="362" cy="1419.7" r="6.5" fill="#000000"/>
<text transform="translate(433 1386.4) scale(1.1448 1)" x="0" y="0" font-family="'Liberation Sans', Arial, sans-serif" font-size="32.5" font-weight="bold" text-anchor="start" fill="#000000">In [O<tspan font-size="17.9" dy="0">3</tspan><tspan dy="-0">]</tspan></text>
<text transform="translate(433 1431.4) scale(1.1448 1)" x="0" y="0" font-family="'Liberation Sans', Arial, sans-serif" font-size="32.5" font-weight="bold" text-anchor="start" fill="#000000">Out [O<tspan font-size="17.9" dy="0">3</tspan><tspan dy="-0">]</tspan></text>
<text x="213.5" y="1515" font-family="'Liberation Serif', 'Times New Roman', serif" font-size="71" font-weight="bold" text-anchor="start" fill="#000000">c</text>
<clipPath id="cpe"><rect x="168" y="1707.6" width="955" height="659.4"/></clipPath><g clip-path="url(#cpe)">
<polyline points="168,1778.1 170.3,1778 172.5,1778 174.8,1778 177.1,1778 179.4,1777.9 181.6,1777.8 183.9,1777.5 186.2,1777.6 188.5,1777.7 190.7,1777.5 193,1777.6 195.3,1782.7 197.6,1782.9 199.8,1782.8 202.1,1782.9 204.4,1782.7 206.7,1782.6 208.9,1782.6 211.2,1782.5 213.5,1782.6 215.8,1782.6 218,1782.4 220.3,1782.4 222.6,1782.3 224.8,1782.4 227.1,1782.3 229.4,1782.5 231.7,1782.4 233.9,1782.5 236.2,1782.6 238.5,1782.7 240.8,1782.8 243,1782.8 245.3,1783 247.6,1782.9 249.9,1783.1 252.1,1783.1 254.4,1782.9 256.7,1782.6 259,1782.4 261.2,1782.4 263.5,1782.3 265.8,1782.4 268,1782.3 270.3,1782.1 272.6,1781.9 274.9,1781.8 277.1,1781.8 279.4,1781.9 281.7,1782 284,1782 286.2,1782.2 288.5,1782.5 290.8,1782.5 293.1,1782.4 295.3,1782.4 297.6,1782.5 299.9,1782.6 302.2,1782.9 304.4,1783 306.7,1783 309,1782.8 311.2,1783 313.5,1783 315.8,1783.1 318.1,1782.9 320.3,1783 322.6,1783.1 324.9,1782.8 327.2,1782.9 329.4,1782.7 331.7,1782.6 334,1782.7 336.3,1782.8 338.5,1783 340.8,1783 343.1,1783.1 345.4,1782.9 347.6,1783.1 349.9,1783.2 352.2,1783.2 354.5,1783.4 356.7,1783.2 359,1783.3 361.3,1783.2 363.5,1783.1 365.8,1783.1 368.1,1782.9 370.4,1782.8 372.6,1782.7 374.9,1782.7 377.2,1782.5 379.5,1782.3 381.7,1782.5 384,1782.3 386.3,1782.6 388.6,1782.8 390.8,1782.6 393.1,1782.6 395.4,1782.5 397.7,1782.8 399.9,1782.8 402.2,1782.8 404.5,1783 406.8,1783.1 409,1783.1 411.3,1783.2 413.6,1783.2 415.8,1783.2 418.1,1783 420.4,1783.2 422.7,1783.2 424.9,1783.1 427.2,1783.1 429.5,1783.2 431.8,1783.2 434,1782.9 436.3,1783 438.6,1783.1 440.9,1782.9 443.1,1783 445.4,1783 447.7,1783.1 450,1783.1 452.2,1783.2 454.5,1783.3 456.8,1783.2 459,1783 461.3,1783.2 463.6,1783.3 465.9,1783.2 468.1,1783.2 470.4,1783.3 472.7,1783.2 475,1783.2 477.2,1783.3 479.5,1783.2 481.8,1783.2 484.1,1783.3 486.3,1783.3 488.6,1783.4 490.9,1783.2 493.2,1783.2 495.4,1783.2 497.7,1783.2 500,1783.2 502.2,1783.2 504.5,1783 506.8,1782.9 509.1,1783 511.3,1783.2 513.6,1783 515.9,1783.1 518.2,1782.9 520.4,1782.9 522.7,1783 525,1783.2 527.3,1783 529.5,1782.9 531.8,1782.8 534.1,1783 536.4,1783.1 538.6,1783.1 540.9,1782.9 543.2,1783 545.5,1782.9 547.7,1783 550,1783.2 552.3,1783.1 554.5,1782.9 556.8,1783.1 559.1,1783.3 561.4,1783.3 563.6,1783.1 565.9,1782.8 568.2,1782.8 570.5,1782.7 572.7,1782.5 575,1782.5 577.3,1782.4 579.6,1782.3 581.8,1782.2 584.1,1782.3 586.4,1782.3 588.7,1782.2 590.9,1782.4 593.2,1782.7 595.5,1782.8 597.8,1782.9 600,1782.9 602.3,1783.2 604.6,1783 606.8,1783 609.1,1783 611.4,1782.9 613.7,1782.8 615.9,1782.7 618.2,1782.8 620.5,1782.6 622.8,1782.6 625,1782.7 627.3,1782.5 629.6,1782.6 631.9,1782.5 634.1,1782.5 636.4,1782.5 638.7,1782.7 641,1782.9 643.2,1782.9 645.5,1783 647.8,1782.7 650,1782.9 652.3,1782.8 654.6,1782.8 656.9,1782.7 659.1,1782.8 661.4,1782.7 663.7,1782.7 666,1782.6 668.2,1782.5 670.5,1782.6 672.8,1782.6 675.1,1782.5 677.3,1782.8 679.6,1782.8 681.9,1782.8 684.2,1782.8 686.4,1782.9 688.7,1782.8 691,1782.8 693.2,1783.1 695.5,1783.4 697.8,1783.6 700.1,1783.6 702.3,1783.8 704.6,1783.7 706.9,1783.4 709.2,1783.5 711.4,1783.4 713.7,1783.5 716,1783.5 718.3,1783.6 720.5,1783.6 722.8,1783.4 725.1,1783.3 727.4,1783.3 729.6,1783.2 731.9,1783.2 734.2,1783.4 736.5,1783.4 738.7,1783.3 741,1783.4 743.3,1783.5 745.5,1783.5 747.8,1783.4 750.1,1783.3 752.4,1783.4 754.6,1783.3 756.9,1783.1 759.2,1783.1 761.5,1783 763.7,1783 766,1783 768.3,1783 770.6,1782.8 772.8,1782.7 775.1,1782.7 777.4,1782.8 779.7,1782.8 781.9,1782.9 784.2,1783 786.5,1783.1 788.8,1782.9 791,1782.8 793.3,1782.8 795.6,1782.7 797.8,1782.6 800.1,1782.7 802.4,1782.7 804.7,1782.8 806.9,1782.7 809.2,1782.7 811.5,1782.4 813.8,1782.3 816,1782.2 818.3,1782.3 820.6,1782.4 822.9,1782.5 825.1,1782.6 827.4,1782.9 829.7,1782.9 832,1782.8 834.2,1782.8 836.5,1783.1 838.8,1783.3 841,1783.3 843.3,1783.5 845.6,1783.7 847.9,1783.6 850.1,1783.8 852.4,1783.5 854.7,1783.5 857,1783.2 859.2,1783 861.5,1783 863.8,1782.8 866.1,1782.8 868.3,1782.6 870.6,1782.7 872.9,1782.5 875.2,1782.5 877.4,1782.5 879.7,1782.2 882,1782.5 884.2,1782.6 886.5,1782.7 888.8,1782.8 891.1,1782.9 893.3,1783.1 895.6,1783 897.9,1783.1 900.2,1783 902.4,1783.1 904.7,1783 907,1783.1 909.3,1783.3 911.5,1783.2 913.8,1783.3 916.1,1783.3 918.4,1783.2 920.6,1783.2 922.9,1783 925.2,1783 927.5,1783 929.7,1783 932,1782.9 934.3,1782.9 936.5,1782.8 938.8,1782.7 941.1,1782.6 943.4,1782.5 945.6,1782.7 947.9,1782.8 950.2,1782.6 952.5,1782.7 954.7,1782.6 957,1782.6 959.3,1782.8 961.6,1782.9 963.8,1783 966.1,1783 968.4,1783.1 970.7,1783.3 972.9,1783.1 975.2,1782.8 977.5,1783 979.8,1783 982,1783.1 984.3,1782.9 986.6,1783 988.8,1783 991.1,1783 993.4,1783 995.7,1783.1 997.9,1783.1 1000.2,1783.1 1002.5,1783.2 1004.8,1783.4 1007,1783.2 1009.3,1783.4 1011.6,1783.2 1013.9,1783.4 1016.1,1783.4 1018.4,1783.3 1020.7,1783.1 1023,1782.8 1025.2,1782.8 1027.5,1782.7 1029.8,1782.6 1032,1782.4 1034.3,1782.4 1036.6,1782.4 1038.9,1782.1 1041.1,1782.3 1043.4,1782.4 1045.7,1782.5 1048,1782.4 1050.2,1782.5 1052.5,1782.4 1054.8,1782.3 1057.1,1782.4 1059.3,1782.6 1061.6,1782.8 1063.9,1782.8 1066.2,1782.9 1068.4,1782.9 1070.7,1782.7 1073,1782.7 1075.2,1782.5 1077.5,1782.7 1079.8,1782.7 1082.1,1782.8 1084.3,1783.1 1086.6,1783.1 1088.9,1782.9 1091.2,1782.9 1093.4,1782.8 1095.7,1782.9 1098,1783 1100.3,1783.3 1102.5,1783.2 1104.8,1783.4 1107.1,1783.3 1109.4,1783.4 1111.6,1783.4 1113.9,1783.1 1116.2,1783 1118.5,1783.1 1120.7,1783.2 1123,1783.2" fill="none" stroke="#ff0000" stroke-width="15" stroke-linejoin="round" stroke-linecap="butt"/>
<polyline points="168,2367 171.6,2355.3 173.5,2327.4 173.9,2298.1 174.4,2284.9 178.2,2245.4 179.4,2210.2 182.1,2188.2 183.2,2139.9 184.4,2126.7 189.8,2094.4 190.7,2085.7 192.1,2065.1 197.1,2021.2 198.2,1996.3 200.7,1943.5 203.2,1923 205.7,1884.9 208.2,1870.3 210.7,1852.7 213.2,1821.9 223.5,1798.5" fill="none" stroke="#000000" stroke-width="2.8" stroke-linejoin="round" stroke-linecap="round"/>
<circle cx="171.6" cy="2355.3" r="6.2" fill="#000000"/>
<circle cx="173.5" cy="2327.4" r="6.2" fill="#000000"/>
<circle cx="173.9" cy="2298.1" r="6.2" fill="#000000"/>
<circle cx="174.4" cy="2284.9" r="6.2" fill="#000000"/>
<circle cx="178.2" cy="2245.4" r="6.2" fill="#000000"/>
<circle cx="179.4" cy="2210.2" r="6.2" fill="#000000"/>
<circle cx="182.1" cy="2188.2" r="6.2" fill="#000000"/>
<circle cx="183.2" cy="2139.9" r="6.2" fill="#000000"/>
<circle cx="184.4" cy="2126.7" r="6.2" fill="#000000"/>
<circle cx="189.8" cy="2094.4" r="6.2" fill="#000000"/>
<circle cx="190.7" cy="2085.7" r="6.2" fill="#000000"/>
<circle cx="192.1" cy="2065.1" r="6.2" fill="#000000"/>
<circle cx="197.1" cy="2021.2" r="6.2" fill="#000000"/>
<circle cx="198.2" cy="1996.3" r="6.2" fill="#000000"/>
<circle cx="200.7" cy="1943.5" r="6.2" fill="#000000"/>
<circle cx="203.2" cy="1923" r="6.2" fill="#000000"/>
<circle cx="205.7" cy="1884.9" r="6.2" fill="#000000"/>
<circle cx="208.2" cy="1870.3" r="6.2" fill="#000000"/>
<circle cx="210.7" cy="1852.7" r="6.2" fill="#000000"/>
<circle cx="213.2" cy="1821.9" r="6.2" fill="#000000"/>
<circle cx="213.2" cy="1821.9" r="6.2" fill="#000000"/>
<circle cx="213.3" cy="1821.2" r="6.2" fill="#000000"/>
<circle cx="213.5" cy="1820.3" r="6.2" fill="#000000"/>
<circle cx="213.6" cy="1819.1" r="6.2" fill="#000000"/>
<circle cx="213.7" cy="1817.9" r="6.2" fill="#000000"/>
<circle cx="213.9" cy="1816.6" r="6.2" fill="#000000"/>
<circle cx="214.1" cy="1815.2" r="6.2" fill="#000000"/>
<circle cx="214.3" cy="1813.8" r="6.2" fill="#000000"/>
<circle cx="214.5" cy="1812.5" r="6.2" fill="#000000"/>
<circle cx="214.6" cy="1811.3" r="6.2" fill="#000000"/>
<circle cx="214.8" cy="1810.2" r="6.2" fill="#000000"/>
<circle cx="215" cy="1809.1" r="6.2" fill="#000000"/>
<circle cx="215.2" cy="1808.1" r="6.2" fill="#000000"/>
<circle cx="215.4" cy="1807.1" r="6.2" fill="#000000"/>
<circle cx="215.7" cy="1806.2" r="6.2" fill="#000000"/>
<circle cx="215.9" cy="1805.2" r="6.2" fill="#000000"/>
<circle cx="216.1" cy="1804.3" r="6.2" fill="#000000"/>
<circle cx="216.3" cy="1803.5" r="6.2" fill="#000000"/>
<circle cx="216.6" cy="1802.7" r="6.2" fill="#000000"/>
<circle cx="216.8" cy="1802" r="6.2" fill="#000000"/>
<circle cx="217.1" cy="1801.4" r="6.2" fill="#000000"/>
<circle cx="217.4" cy="1800.8" r="6.2" fill="#000000"/>
<circle cx="217.7" cy="1800.4" r="6.2" fill="#000000"/>
<circle cx="218" cy="1800" r="6.2" fill="#000000"/>
<circle cx="218.3" cy="1799.6" r="6.2" fill="#000000"/>
<circle cx="218.6" cy="1799.4" r="6.2" fill="#000000"/>
<circle cx="219" cy="1799.1" r="6.2" fill="#000000"/>
<circle cx="219.3" cy="1798.9" r="6.2" fill="#000000"/>
<circle cx="219.6" cy="1798.8" r="6.2" fill="#000000"/>
<circle cx="220" cy="1798.6" r="6.2" fill="#000000"/>
<circle cx="220.3" cy="1798.5" r="6.2" fill="#000000"/>
<circle cx="220.6" cy="1798.3" r="6.2" fill="#000000"/>
<circle cx="221" cy="1798.3" r="6.2" fill="#000000"/>
<circle cx="221.4" cy="1798.2" r="6.2" fill="#000000"/>
<circle cx="221.7" cy="1798.2" r="6.2" fill="#000000"/>
<circle cx="222.1" cy="1798.3" r="6.2" fill="#000000"/>
<circle cx="222.4" cy="1798.3" r="6.2" fill="#000000"/>
<circle cx="222.8" cy="1798.4" r="6.2" fill="#000000"/>
<circle cx="223" cy="1798.4" r="6.2" fill="#000000"/>
<circle cx="223.3" cy="1798.4" r="6.2" fill="#000000"/>
<circle cx="223.5" cy="1798.5" r="6.2" fill="#000000"/>
<polyline points="223.5,1798.5 224.8,1799 227.1,1799.2 229.4,1799.1 231.7,1799 233.9,1799 236.2,1798.9 238.5,1799.2 240.8,1799.1 243,1799 245.3,1799 247.6,1799 249.9,1798.9 252.1,1799 254.4,1798.8 256.7,1798.9 259,1799 261.2,1799 263.5,1798.8 265.8,1798.9 268,1798.8 270.3,1798.7 272.6,1798.7 274.9,1798.8 277.1,1798.8 279.4,1799 281.7,1799 284,1799 286.2,1799 288.5,1799.2 290.8,1799.1 293.1,1799.3 295.3,1799.1 297.6,1798.9 299.9,1798.9 302.2,1799 304.4,1799.1 306.7,1799.1 309,1799.1 311.2,1799 313.5,1799.1 315.8,1799 318.1,1799.1 320.3,1799.1 322.6,1798.9 324.9,1799 327.2,1799 329.4,1799 331.7,1799.1 334,1799 336.3,1798.9 338.5,1798.7 340.8,1798.7 343.1,1798.8 345.4,1798.8 347.6,1798.6 349.9,1798.7 352.2,1798.7 354.5,1798.7 356.7,1798.8 359,1798.8 361.3,1798.9 363.5,1798.9 365.8,1798.9 368.1,1798.9 370.4,1799.1 372.6,1799.1 374.9,1799.1 377.2,1799.2 379.5,1799.3 381.7,1799.4 384,1799.5 386.3,1799.3 388.6,1799.3 390.8,1799.2 393.1,1799.2 395.4,1799.4 397.7,1799.4 399.9,1799.2 402.2,1798.8 404.5,1798.8 406.8,1798.7 409,1798.5 411.3,1798.2 413.6,1798.3 415.8,1798.6 418.1,1798.5 420.4,1798.4 422.7,1798.4 424.9,1798.3 427.2,1798.2 429.5,1798.3 431.8,1798.3 434,1798.2 436.3,1798.2 438.6,1798.2 440.9,1798.2 443.1,1798 445.4,1798 447.7,1797.9 450,1797.9 452.2,1797.8 454.5,1797.7 456.8,1797.9 459,1797.8 461.3,1798 463.6,1798.1 465.9,1798 468.1,1798.2 470.4,1798.3 472.7,1798.6 475,1798.6 477.2,1798.8 479.5,1799 481.8,1799 484.1,1799 486.3,1799 488.6,1799 490.9,1798.8 493.2,1798.8 495.4,1799 497.7,1798.8 500,1798.7 502.2,1798.7 504.5,1798.6 506.8,1798.5 509.1,1798.3 511.3,1798.6 513.6,1798.7 515.9,1798.5 518.2,1798.5 520.4,1798.5 522.7,1798.6 525,1798.6 527.3,1798.8 529.5,1799 531.8,1799 534.1,1799 536.4,1798.9 538.6,1798.9 540.9,1798.9 543.2,1798.9 545.5,1799 547.7,1799.1 550,1799.3 552.3,1799.1 554.5,1799.2 556.8,1798.9 559.1,1798.8 561.4,1798.7 563.6,1798.7 565.9,1798.8 568.2,1798.8 570.5,1798.6 572.7,1798.6 575,1798.6 577.3,1798.6 579.6,1798.3 581.8,1798.1 584.1,1798 586.4,1798.2 588.7,1798.1 590.9,1798 593.2,1798.1 595.5,1798.2 597.8,1798.3 600,1798.3 602.3,1798.4 604.6,1798.4 606.8,1798.6 609.1,1798.9 611.4,1799.2 613.7,1799.2 615.9,1798.9 618.2,1799.1 620.5,1799.1 622.8,1798.8 625,1798.8 627.3,1798.7 629.6,1798.8 631.9,1798.7 634.1,1798.5 636.4,1798.6 638.7,1798.6 641,1798.3 643.2,1798.4 645.5,1798.5 647.8,1798.3 650,1798.3 652.3,1798.3 654.6,1798.3 656.9,1798.5 659.1,1798.4 661.4,1798.7 663.7,1798.8 666,1798.5 668.2,1798.4 670.5,1798.5 672.8,1798.7 675.1,1798.8 677.3,1798.8 679.6,1798.8 681.9,1798.8 684.2,1798.9 686.4,1798.6 688.7,1798.7 691,1798.6 693.2,1798.6 695.5,1798.7 697.8,1798.7 700.1,1798.9 702.3,1798.7 704.6,1798.5 706.9,1798.5 709.2,1798.5 711.4,1798.5 713.7,1798.5 716,1798.5 718.3,1798.4 720.5,1798.4 722.8,1798.3 725.1,1798.4 727.4,1798.4 729.6,1798.3 731.9,1798.6 734.2,1798.5 736.5,1798.6 738.7,1798.7 741,1798.8 743.3,1798.5 745.5,1798.6 747.8,1798.7 750.1,1798.7 752.4,1798.9 754.6,1799 756.9,1799 759.2,1798.8 761.5,1798.8 763.7,1799.1 766,1798.9 768.3,1799 770.6,1799.2 772.8,1799.2 775.1,1799.4 777.4,1799.3 779.7,1799.3 781.9,1799.2 784.2,1799.2 786.5,1799.2 788.8,1799.4 791,1799.2 793.3,1799.1 795.6,1799 797.8,1798.8 800.1,1798.9 802.4,1798.9 804.7,1798.7 806.9,1798.8 809.2,1798.7 811.5,1798.5 813.8,1798.5 816,1798.5 818.3,1798.3 820.6,1798.5 822.9,1798.6 825.1,1798.7 827.4,1798.9 829.7,1798.8 832,1798.9 834.2,1798.8 836.5,1798.8 838.8,1798.7 841,1798.8 843.3,1798.7 845.6,1798.6 847.9,1798.9 850.1,1798.9 852.4,1798.7 854.7,1798.7 857,1798.7 859.2,1798.6 861.5,1798.7 863.8,1798.8 866.1,1798.8 868.3,1799 870.6,1799.1 872.9,1799 875.2,1799.1 877.4,1798.8 879.7,1798.7 882,1798.9 884.2,1798.8 886.5,1798.9 888.8,1798.8 891.1,1798.9 893.3,1798.7 895.6,1798.6 897.9,1798.6 900.2,1798.5 902.4,1798.5 904.7,1798.5 907,1798.7 909.3,1798.8 911.5,1798.5 913.8,1798.7 916.1,1798.7 918.4,1798.7 920.6,1798.6 922.9,1798.8 925.2,1798.9 927.5,1799 929.7,1799.2 932,1799.5 934.3,1799.6 936.5,1799.4 938.8,1799.1 941.1,1799.4 943.4,1799.3 945.6,1799.4 947.9,1799.5 950.2,1799.4 952.5,1799.4 954.7,1799.2 957,1799.1 959.3,1799.1 961.6,1798.9 963.8,1798.8 966.1,1798.9 968.4,1799.3 970.7,1799.1 972.9,1799.1 975.2,1798.8 977.5,1798.8 979.8,1799 982,1799.2 984.3,1799.4 986.6,1799.4 988.8,1799.4 991.1,1799.5 993.4,1799.5 995.7,1799.6 997.9,1799.5 1000.2,1799.7 1002.5,1799.6 1004.8,1799.6 1007,1799.4 1009.3,1799.3 1011.6,1799.2 1013.9,1799 1016.1,1799 1018.4,1798.8 1020.7,1798.6 1023,1798.6 1025.2,1798.4 1027.5,1798.3 1029.8,1798.1 1032,1798.3 1034.3,1798.4 1036.6,1798.5 1038.9,1798.5 1041.1,1798.5 1043.4,1798.6 1045.7,1798.5 1048,1798.6 1050.2,1798.8 1052.5,1798.7 1054.8,1798.9 1057.1,1798.9 1059.3,1799 1061.6,1798.9 1063.9,1798.9 1066.2,1798.8 1068.4,1798.6 1070.7,1798.7 1073,1798.7 1075.2,1798.7 1077.5,1798.7 1079.8,1798.6 1082.1,1798.8 1084.3,1798.7 1086.6,1798.8 1088.9,1798.7 1091.2,1798.8 1093.4,1798.7 1095.7,1798.8 1098,1798.8 1100.3,1798.8 1102.5,1798.9 1104.8,1798.9 1107.1,1798.8 1109.4,1798.7 1111.6,1798.8 1113.9,1798.8 1116.2,1798.7 1118.5,1798.4 1120.7,1798.4 1123,1798.5" fill="none" stroke="#000000" stroke-width="16" stroke-linejoin="round" stroke-linecap="butt"/>
</g>
<path d="M1123 1707.6 L168 1707.6 L168 2367 L1123 2367" fill="none" stroke="#000" stroke-width="7" stroke-linecap="square" stroke-linejoin="miter"/>
<path d="M1123 1707.6 L1123 2367" fill="none" stroke="#000000" stroke-width="7" stroke-linecap="square"/>
<path d="M236.2 2367 V2357.5 M304.4 2367 V2351.5 M372.6 2367 V2357.5 M440.9 2367 V2351.5 M509.1 2367 V2357.5 M577.3 2367 V2351.5 M645.5 2367 V2357.5 M713.7 2367 V2351.5 M781.9 2367 V2357.5 M850.1 2367 V2351.5 M918.4 2367 V2357.5 M986.6 2367 V2351.5 M1054.8 2367 V2357.5" stroke="#000" stroke-width="7" fill="none"/>
<text transform="translate(168 2413) scale(1.0800 1)" x="0" y="0" font-family="'Liberation Serif', 'Times New Roman', serif" font-size="43" font-weight="bold" text-anchor="middle" fill="#000000">0</text>
<text transform="translate(304.4 2413) scale(1.0800 1)" x="0" y="0" font-family="'Liberation Serif', 'Times New Roman', serif" font-size="43" font-weight="bold" text-anchor="middle" fill="#000000">30</text>
<text transform="translate(440.9 2413) scale(1.0800 1)" x="0" y="0" font-family="'Liberation Serif', 'Times New Roman', serif" font-size="43" font-weight="bold" text-anchor="middle" fill="#000000">60</text>
<text transform="translate(577.3 2413) scale(1.0800 1)" x="0" y="0" font-family="'Liberation Serif', 'Times New Roman', serif" font-size="43" font-weight="bold" text-anchor="middle" fill="#000000">90</text>
<text transform="translate(713.7 2413) scale(1.0800 1)" x="0" y="0" font-family="'Liberation Serif', 'Times New Roman', serif" font-size="43" font-weight="bold" text-anchor="middle" fill="#000000">120</text>
<text transform="translate(850.1 2413) scale(1.0800 1)" x="0" y="0" font-family="'Liberation Serif', 'Times New Roman', serif" font-size="43" font-weight="bold" text-anchor="middle" fill="#000000">150</text>
<text transform="translate(986.6 2413) scale(1.0800 1)" x="0" y="0" font-family="'Liberation Serif', 'Times New Roman', serif" font-size="43" font-weight="bold" text-anchor="middle" fill="#000000">180</text>
<text transform="translate(1123 2413) scale(1.0800 1)" x="0" y="0" font-family="'Liberation Serif', 'Times New Roman', serif" font-size="43" font-weight="bold" text-anchor="middle" fill="#000000">210</text>
<path d="M168 2330.4 H177.5 M168 2293.7 H183.5 M168 2257.1 H177.5 M168 2220.5 H183.5 M168 2183.8 H177.5 M168 2147.2 H183.5 M168 2110.6 H177.5 M168 2073.9 H183.5 M168 2037.3 H177.5 M168 2000.7 H183.5 M168 1964 H177.5 M168 1927.4 H183.5 M168 1890.8 H177.5 M168 1854.1 H183.5 M168 1817.5 H177.5 M168 1780.9 H183.5 M168 1744.2 H177.5" stroke="#000" stroke-width="7" fill="none"/>
<text transform="translate(150 2379.4) scale(1.1000 1)" x="0" y="0" font-family="'Liberation Serif', 'Times New Roman', serif" font-size="40" font-weight="bold" text-anchor="end" fill="#000000">0</text>
<text transform="translate(150 2306.1) scale(1.1000 1)" x="0" y="0" font-family="'Liberation Serif', 'Times New Roman', serif" font-size="40" font-weight="bold" text-anchor="end" fill="#000000">5</text>
<text transform="translate(150 2232.9) scale(1.1000 1)" x="0" y="0" font-family="'Liberation Serif', 'Times New Roman', serif" font-size="40" font-weight="bold" text-anchor="end" fill="#000000">10</text>
<text transform="translate(150 2159.6) scale(1.1000 1)" x="0" y="0" font-family="'Liberation Serif', 'Times New Roman', serif" font-size="40" font-weight="bold" text-anchor="end" fill="#000000">15</text>
<text transform="translate(150 2086.3) scale(1.1000 1)" x="0" y="0" font-family="'Liberation Serif', 'Times New Roman', serif" font-size="40" font-weight="bold" text-anchor="end" fill="#000000">20</text>
<text transform="translate(150 2013.1) scale(1.1000 1)" x="0" y="0" font-family="'Liberation Serif', 'Times New Roman', serif" font-size="40" font-weight="bold" text-anchor="end" fill="#000000">25</text>
<text transform="translate(150 1939.8) scale(1.1000 1)" x="0" y="0" font-family="'Liberation Serif', 'Times New Roman', serif" font-size="40" font-weight="bold" text-anchor="end" fill="#000000">30</text>
<text transform="translate(150 1866.5) scale(1.1000 1)" x="0" y="0" font-family="'Liberation Serif', 'Times New Roman', serif" font-size="40" font-weight="bold" text-anchor="end" fill="#000000">35</text>
<text transform="translate(150 1793.3) scale(1.1000 1)" x="0" y="0" font-family="'Liberation Serif', 'Times New Roman', serif" font-size="40" font-weight="bold" text-anchor="end" fill="#000000">40</text>
<text transform="translate(150 1720) scale(1.1000 1)" x="0" y="0" font-family="'Liberation Serif', 'Times New Roman', serif" font-size="40" font-weight="bold" text-anchor="end" fill="#000000">45</text>
<text transform="translate(73 2037) rotate(-90) scale(0.8501 1)" x="0" y="0" font-family="'Liberation Serif', 'Times New Roman', serif" font-size="52" font-weight="bold" text-anchor="middle" fill="#000000">Ozone concentration (mg L<tspan font-size="32.2" dy="-26">-1</tspan><tspan dy="26">)</tspan></text>
<text transform="translate(644.5 2473.5) scale(1.1046 1)" x="0" y="0" font-family="'Liberation Serif', 'Times New Roman', serif" font-size="44.5" font-weight="bold" text-anchor="middle" fill="#000000">Time (min)</text>
<text transform="translate(448.3 1766.4) scale(1.1286 1)" x="0" y="0" font-family="'Liberation Sans', Arial, sans-serif" font-size="33" font-weight="bold" text-anchor="start" fill="#ff0000">39.8 mg L<tspan font-size="20.5" dx="4" dy="-16.5">-1</tspan></text>
<text transform="translate(454.4 1846.2) scale(1.2194 1)" x="0" y="0" font-family="'Liberation Sans', Arial, sans-serif" font-size="33" font-weight="bold" text-anchor="start" fill="#111">38.71 mg L<tspan font-size="20.5" dx="4" dy="-16.5">-1</tspan></text>
<polyline points="307,2209.6 402,2209.6" fill="none" stroke="#ff0000" stroke-width="4.5" stroke-linejoin="round" stroke-linecap="butt"/>
<rect x="347.5" y="2202.6" width="14" height="14" fill="#ff0000"/>
<polyline points="307,2251.7 402,2251.7" fill="none" stroke="#111" stroke-width="4.5" stroke-linejoin="round" stroke-linecap="butt"/>
<circle cx="354.5" cy="2251.7" r="6.5" fill="#000000"/>
<text transform="translate(426 2221.3) scale(1.1448 1)" x="0" y="0" font-family="'Liberation Sans', Arial, sans-serif" font-size="32.5" font-weight="bold" text-anchor="start" fill="#000000">In [O<tspan font-size="17.9" dy="0">3</tspan><tspan dy="-0">]</tspan></text>
<text transform="translate(426 2263.4) scale(1.1448 1)" x="0" y="0" font-family="'Liberation Sans', Arial, sans-serif" font-size="32.5" font-weight="bold" text-anchor="start" fill="#000000">Out [O<tspan font-size="17.9" dy="0">3</tspan><tspan dy="-0">]</tspan></text>
<text x="213" y="2315.5" font-family="'Liberation Serif', 'Times New Roman', serif" font-size="71" font-weight="bold" text-anchor="start" fill="#000000">e</text>
<clipPath id="cpg"><rect x="176.5" y="2502" width="952.5" height="681"/></clipPath><g clip-path="url(#cpg)">
<polyline points="176.5,2599.1 178.8,2599.1 181,2599.1 183.3,2598.9 185.6,2598.7 187.8,2598.4 190.1,2598.3 192.4,2598.6 194.6,2598.7 196.9,2598.8 199.2,2598.6 201.4,2598.5 203.7,2598.3 206,2598.3 208.2,2598.2 210.5,2598 212.8,2598.1 215.1,2598.4 217.3,2598.5 219.6,2598.7 221.9,2598.5 224.1,2598.3 226.4,2598.3 228.7,2598.4 230.9,2598.4 233.2,2598.5 235.5,2598.3 237.7,2598.2 240,2598.2 242.3,2598.3 244.5,2598.1 246.8,2598.1 249.1,2598.1 251.3,2598.3 253.6,2598.3 255.9,2598.5 258.1,2598.6 260.4,2598.7 262.7,2598.8 264.9,2598.9 267.2,2599 269.5,2599.1 271.8,2598.9 274,2599 276.3,2599 278.6,2599 280.8,2598.9 283.1,2599.1 285.4,2599 287.6,2598.7 289.9,2598.8 292.2,2598.8 294.4,2598.6 296.7,2598.8 299,2598.8 301.2,2599.1 303.5,2598.9 305.8,2598.8 308,2598.8 310.3,2598.9 312.6,2599 314.8,2598.9 317.1,2599.2 319.4,2599 321.6,2598.9 323.9,2598.9 326.2,2598.7 328.4,2598.4 330.7,2598.5 333,2598.6 335.2,2598.5 337.5,2598.3 339.8,2598.3 342.1,2598.1 344.3,2598 346.6,2597.8 348.9,2597.9 351.1,2598.1 353.4,2598.3 355.7,2598.5 357.9,2598.7 360.2,2598.4 362.5,2598.3 364.7,2598.7 367,2598.9 369.3,2599 371.5,2599 373.8,2599.1 376.1,2599.3 378.3,2599.4 380.6,2599.1 382.9,2599.1 385.1,2599.1 387.4,2599.2 389.7,2599.5 391.9,2599.5 394.2,2599.3 396.5,2599.3 398.8,2599.3 401,2599.4 403.3,2599.5 405.6,2599.2 407.8,2599.2 410.1,2599.4 412.4,2599.3 414.6,2599.2 416.9,2598.9 419.2,2598.7 421.4,2598.7 423.7,2598.8 426,2598.8 428.2,2598.7 430.5,2598.8 432.8,2598.6 435,2598.6 437.3,2598.5 439.6,2598.7 441.8,2598.9 444.1,2598.9 446.4,2599.2 448.6,2599.2 450.9,2599 453.2,2599.1 455.4,2599.1 457.7,2599 460,2598.9 462.2,2598.8 464.5,2599 466.8,2598.8 469.1,2598.6 471.3,2598.4 473.6,2598.3 475.9,2598.2 478.1,2598.2 480.4,2598.5 482.7,2598.2 484.9,2597.9 487.2,2597.9 489.5,2598 491.7,2598.1 494,2598 496.3,2598.1 498.5,2598 500.8,2598.1 503.1,2598.1 505.3,2598.1 507.6,2598 509.9,2597.8 512.1,2597.8 514.4,2598 516.7,2598 518.9,2597.8 521.2,2597.8 523.5,2598 525.8,2598 528,2598.2 530.3,2598 532.6,2598 534.8,2598.2 537.1,2598.3 539.4,2598.4 541.6,2598.5 543.9,2598.3 546.2,2598.3 548.4,2598.5 550.7,2598.8 553,2598.5 555.2,2598.8 557.5,2598.5 559.8,2598.8 562,2598.7 564.3,2598.5 566.6,2598.3 568.8,2598.3 571.1,2598.2 573.4,2598.4 575.6,2598.5 577.9,2598.4 580.2,2598.1 582.4,2598.2 584.7,2598 587,2598.1 589.2,2598.2 591.5,2598.4 593.8,2598.5 596.1,2598.6 598.3,2598.5 600.6,2598.6 602.9,2598.6 605.1,2598.7 607.4,2598.6 609.7,2598.7 611.9,2599 614.2,2598.8 616.5,2598.7 618.7,2598.7 621,2598.6 623.3,2598.6 625.5,2598.5 627.8,2598.7 630.1,2598.8 632.3,2598.7 634.6,2598.5 636.9,2598.7 639.1,2598.9 641.4,2598.7 643.7,2598.7 645.9,2598.8 648.2,2598.6 650.5,2598.5 652.8,2598.4 655,2598.7 657.3,2598.5 659.6,2598.5 661.8,2598.5 664.1,2598.6 666.4,2598.5 668.6,2598.2 670.9,2598.4 673.2,2598.4 675.4,2598.5 677.7,2598.6 680,2598.7 682.2,2598.9 684.5,2598.7 686.8,2598.7 689,2598.5 691.3,2598.6 693.6,2598.8 695.8,2598.8 698.1,2598.9 700.4,2598.7 702.6,2598.8 704.9,2598.8 707.2,2598.8 709.4,2598.7 711.7,2598.7 714,2598.6 716.2,2598.6 718.5,2598.6 720.8,2598.4 723.1,2598.3 725.3,2598.4 727.6,2598.2 729.9,2598.3 732.1,2598.2 734.4,2598.1 736.7,2597.9 738.9,2597.9 741.2,2597.8 743.5,2597.9 745.7,2598.2 748,2598.2 750.3,2598.3 752.5,2598.3 754.8,2598.3 757.1,2598.6 759.3,2598.7 761.6,2598.7 763.9,2598.8 766.1,2598.8 768.4,2598.9 770.7,2598.9 772.9,2598.9 775.2,2598.8 777.5,2599 779.8,2599 782,2598.9 784.3,2598.9 786.6,2598.7 788.8,2598.6 791.1,2598.8 793.4,2598.9 795.6,2599.1 797.9,2599 800.2,2598.9 802.4,2598.7 804.7,2598.7 807,2598.4 809.2,2598.5 811.5,2598.6 813.8,2598.5 816,2598.5 818.3,2598.3 820.6,2598.1 822.8,2597.8 825.1,2597.8 827.4,2597.9 829.6,2598 831.9,2598 834.2,2598 836.4,2598.1 838.7,2598 841,2597.9 843.2,2597.9 845.5,2597.9 847.8,2597.9 850.1,2598 852.3,2598.2 854.6,2598.1 856.9,2598.3 859.1,2598.3 861.4,2598.2 863.7,2598.1 865.9,2598.2 868.2,2598.2 870.5,2598.2 872.7,2598.3 875,2598.3 877.3,2598.6 879.5,2598.8 881.8,2598.7 884.1,2598.6 886.3,2598.5 888.6,2598.6 890.9,2598.6 893.1,2598.7 895.4,2598.8 897.7,2598.9 899.9,2598.8 902.2,2598.6 904.5,2598.4 906.8,2598.2 909,2598.2 911.3,2598.3 913.6,2598.5 915.8,2598.6 918.1,2598.4 920.4,2598.4 922.6,2598.4 924.9,2598.4 927.2,2598.3 929.4,2598.5 931.7,2598.6 934,2598.8 936.2,2598.7 938.5,2598.6 940.8,2598.5 943,2598.2 945.3,2598.2 947.6,2598.4 949.8,2598.6 952.1,2598.8 954.4,2598.9 956.6,2598.8 958.9,2598.9 961.2,2599.2 963.4,2598.9 965.7,2599.1 968,2599 970.2,2599 972.5,2599 974.8,2598.9 977.1,2598.8 979.3,2598.5 981.6,2598.3 983.9,2598.2 986.1,2598 988.4,2597.8 990.7,2597.7 992.9,2597.8 995.2,2597.9 997.5,2597.9 999.7,2598 1002,2598.2 1004.3,2598.3 1006.5,2598.4 1008.8,2598.6 1011.1,2598.7 1013.3,2598.6 1015.6,2598.6 1017.9,2598.7 1020.1,2598.8 1022.4,2598.8 1024.7,2598.8 1026.9,2598.8 1029.2,2599 1031.5,2598.7 1033.8,2598.7 1036,2598.9 1038.3,2598.7 1040.6,2598.6 1042.8,2598.7 1045.1,2598.8 1047.4,2598.8 1049.6,2598.7 1051.9,2598.8 1054.2,2598.5 1056.4,2598.5 1058.7,2598.2 1061,2598.2 1063.2,2598 1065.5,2597.9 1067.8,2597.9 1070,2597.9 1072.3,2597.8 1074.6,2597.9 1076.8,2597.9 1079.1,2597.8 1081.4,2597.8 1083.6,2597.8 1085.9,2597.9 1088.2,2597.9 1090.4,2598.2 1092.7,2598.3 1095,2598.3 1097.2,2598.3 1099.5,2598.4 1101.8,2598.5 1104.1,2598.2 1106.3,2598.2 1108.6,2598.4 1110.9,2598.2 1113.1,2598.2 1115.4,2598.2 1117.7,2598.1 1119.9,2597.9 1122.2,2597.8 1124.5,2597.7 1126.7,2597.8 1129,2597.7" fill="none" stroke="#ff0000" stroke-width="16" stroke-linejoin="round" stroke-linecap="butt"/>
<polyline points="176.5,3183 178.3,3170.4 178.8,3134.4 179.7,3093.5 180.6,3064.3 181.5,3037.1 186,3009.8 188.3,2985.5 189.7,2935.9 191,2746.2 194.6,2694.6 217.3,2616.8" fill="none" stroke="#000000" stroke-width="2.8" stroke-linejoin="round" stroke-linecap="round"/>
<circle cx="178.3" cy="3170.4" r="6.2" fill="#000000"/>
<circle cx="178.8" cy="3134.4" r="6.2" fill="#000000"/>
<circle cx="179.7" cy="3093.5" r="6.2" fill="#000000"/>
<circle cx="180.6" cy="3064.3" r="6.2" fill="#000000"/>
<circle cx="181.5" cy="3037.1" r="6.2" fill="#000000"/>
<circle cx="186" cy="3009.8" r="6.2" fill="#000000"/>
<circle cx="188.3" cy="2985.5" r="6.2" fill="#000000"/>
<circle cx="189.7" cy="2935.9" r="6.2" fill="#000000"/>
<circle cx="191" cy="2746.2" r="6.2" fill="#000000"/>
<circle cx="194.6" cy="2694.6" r="6.2" fill="#000000"/>
<circle cx="194.6" cy="2694.6" r="6.2" fill="#000000"/>
<circle cx="194.9" cy="2692.5" r="6.2" fill="#000000"/>
<circle cx="195.3" cy="2689.7" r="6.2" fill="#000000"/>
<circle cx="195.7" cy="2686.4" r="6.2" fill="#000000"/>
<circle cx="196.1" cy="2682.6" r="6.2" fill="#000000"/>
<circle cx="196.6" cy="2678.6" r="6.2" fill="#000000"/>
<circle cx="197.1" cy="2674.5" r="6.2" fill="#000000"/>
<circle cx="197.7" cy="2670.4" r="6.2" fill="#000000"/>
<circle cx="198.2" cy="2666.5" r="6.2" fill="#000000"/>
<circle cx="198.7" cy="2662.8" r="6.2" fill="#000000"/>
<circle cx="199.2" cy="2659.6" r="6.2" fill="#000000"/>
<circle cx="199.6" cy="2656.7" r="6.2" fill="#000000"/>
<circle cx="200.1" cy="2653.9" r="6.2" fill="#000000"/>
<circle cx="200.5" cy="2651.2" r="6.2" fill="#000000"/>
<circle cx="201" cy="2648.5" r="6.2" fill="#000000"/>
<circle cx="201.4" cy="2646" r="6.2" fill="#000000"/>
<circle cx="201.9" cy="2643.7" r="6.2" fill="#000000"/>
<circle cx="202.4" cy="2641.4" r="6.2" fill="#000000"/>
<circle cx="202.8" cy="2639.2" r="6.2" fill="#000000"/>
<circle cx="203.3" cy="2637.2" r="6.2" fill="#000000"/>
<circle cx="203.7" cy="2635.3" r="6.2" fill="#000000"/>
<circle cx="204.2" cy="2633.5" r="6.2" fill="#000000"/>
<circle cx="204.6" cy="2631.9" r="6.2" fill="#000000"/>
<circle cx="205.1" cy="2630.4" r="6.2" fill="#000000"/>
<circle cx="205.5" cy="2629" r="6.2" fill="#000000"/>
<circle cx="206" cy="2627.7" r="6.2" fill="#000000"/>
<circle cx="206.4" cy="2626.6" r="6.2" fill="#000000"/>
<circle cx="206.9" cy="2625.5" r="6.2" fill="#000000"/>
<circle cx="207.3" cy="2624.5" r="6.2" fill="#000000"/>
<circle cx="207.8" cy="2623.5" r="6.2" fill="#000000"/>
<circle cx="208.2" cy="2622.6" r="6.2" fill="#000000"/>
<circle cx="208.7" cy="2621.8" r="6.2" fill="#000000"/>
<circle cx="209.2" cy="2621.1" r="6.2" fill="#000000"/>
<circle cx="209.6" cy="2620.5" r="6.2" fill="#000000"/>
<circle cx="210.1" cy="2619.9" r="6.2" fill="#000000"/>
<circle cx="210.5" cy="2619.5" r="6.2" fill="#000000"/>
<circle cx="211" cy="2619.1" r="6.2" fill="#000000"/>
<circle cx="211.4" cy="2618.7" r="6.2" fill="#000000"/>
<circle cx="211.9" cy="2618.4" r="6.2" fill="#000000"/>
<circle cx="212.3" cy="2618.1" r="6.2" fill="#000000"/>
<circle cx="212.8" cy="2617.8" r="6.2" fill="#000000"/>
<circle cx="213.3" cy="2617.5" r="6.2" fill="#000000"/>
<circle cx="213.8" cy="2617.3" r="6.2" fill="#000000"/>
<circle cx="214.3" cy="2617.2" r="6.2" fill="#000000"/>
<circle cx="214.8" cy="2617.1" r="6.2" fill="#000000"/>
<circle cx="215.3" cy="2617" r="6.2" fill="#000000"/>
<circle cx="215.8" cy="2616.9" r="6.2" fill="#000000"/>
<circle cx="216.3" cy="2616.9" r="6.2" fill="#000000"/>
<circle cx="216.7" cy="2616.9" r="6.2" fill="#000000"/>
<circle cx="217.1" cy="2616.8" r="6.2" fill="#000000"/>
<circle cx="217.3" cy="2616.8" r="6.2" fill="#000000"/>
<polyline points="217.3,2616.8 219.6,2618.4 221.9,2618.5 224.1,2618.3 226.4,2618.2 228.7,2618.3 230.9,2617.9 233.2,2617.7 235.5,2617.5 237.7,2617.3 240,2617.3 242.3,2617.4 244.5,2617.6 246.8,2617.7 249.1,2617.7 251.3,2617.7 253.6,2617.6 255.9,2617.7 258.1,2617.4 260.4,2617.5 262.7,2617.8 264.9,2618 267.2,2618 269.5,2617.9 271.8,2617.7 274,2617.6 276.3,2617.6 278.6,2617.7 280.8,2617.5 283.1,2617.7 285.4,2617.8 287.6,2618 289.9,2618 292.2,2617.7 294.4,2617.8 296.7,2618 299,2618.1 301.2,2618.4 303.5,2618.3 305.8,2618.3 308,2618.3 310.3,2618.4 312.6,2618.4 314.8,2618.2 317.1,2618.3 319.4,2618.4 321.6,2618.6 323.9,2618.5 326.2,2618.5 328.4,2618.4 330.7,2618.1 333,2618.1 335.2,2618.1 337.5,2618 339.8,2618.1 342.1,2618 344.3,2618 346.6,2617.8 348.9,2618 351.1,2617.7 353.4,2617.8 355.7,2617.7 357.9,2617.6 360.2,2617.8 362.5,2617.9 364.7,2618 367,2618.3 369.3,2618.2 371.5,2618.2 373.8,2618.3 376.1,2618.4 378.3,2618.3 380.6,2618.3 382.9,2618.2 385.1,2618.1 387.4,2618.1 389.7,2618.1 391.9,2618.2 394.2,2617.9 396.5,2617.6 398.8,2617.7 401,2617.8 403.3,2617.7 405.6,2617.5 407.8,2617.6 410.1,2617.6 412.4,2617.5 414.6,2617.5 416.9,2617.6 419.2,2617.7 421.4,2617.7 423.7,2617.7 426,2617.9 428.2,2617.7 430.5,2617.7 432.8,2617.7 435,2617.8 437.3,2617.7 439.6,2618 441.8,2618.1 444.1,2618.2 446.4,2618.3 448.6,2618.1 450.9,2617.9 453.2,2618 455.4,2618 457.7,2617.9 460,2617.9 462.2,2618.2 464.5,2618.3 466.8,2618.2 469.1,2618.3 471.3,2618.5 473.6,2618.4 475.9,2618.3 478.1,2618.4 480.4,2618.6 482.7,2618.5 484.9,2618.2 487.2,2618.3 489.5,2618.2 491.7,2618 494,2618 496.3,2618.1 498.5,2618.2 500.8,2617.9 503.1,2617.8 505.3,2617.7 507.6,2617.7 509.9,2617.6 512.1,2617.8 514.4,2617.8 516.7,2618 518.9,2617.9 521.2,2618 523.5,2617.9 525.8,2617.7 528,2617.4 530.3,2617.4 532.6,2617.4 534.8,2617.5 537.1,2617.2 539.4,2617.3 541.6,2617.2 543.9,2617.2 546.2,2617 548.4,2617.2 550.7,2616.9 553,2616.8 555.2,2616.9 557.5,2617 559.8,2617.1 562,2617.1 564.3,2617.2 566.6,2617.5 568.8,2617.4 571.1,2617.3 573.4,2617.3 575.6,2617.3 577.9,2617.3 580.2,2617.3 582.4,2617.4 584.7,2617.5 587,2617.4 589.2,2617.5 591.5,2617.5 593.8,2617.6 596.1,2617.5 598.3,2617.5 600.6,2617.8 602.9,2617.8 605.1,2617.9 607.4,2617.8 609.7,2617.8 611.9,2617.9 614.2,2618 616.5,2618.2 618.7,2618 621,2618.2 623.3,2618.1 625.5,2618 627.8,2618 630.1,2617.9 632.3,2617.9 634.6,2617.9 636.9,2617.9 639.1,2618.1 641.4,2618.1 643.7,2617.8 645.9,2617.6 648.2,2617.5 650.5,2617.5 652.8,2617.3 655,2617.5 657.3,2617.7 659.6,2617.7 661.8,2617.7 664.1,2617.5 666.4,2617.5 668.6,2617.3 670.9,2617.3 673.2,2617.5 675.4,2617.7 677.7,2617.9 680,2617.9 682.2,2618 684.5,2617.9 686.8,2617.8 689,2617.8 691.3,2617.8 693.6,2617.8 695.8,2617.9 698.1,2618.2 700.4,2618.2 702.6,2618 704.9,2618.2 707.2,2618 709.4,2617.9 711.7,2617.9 714,2617.9 716.2,2618 718.5,2618.1 720.8,2618.2 723.1,2618.5 725.3,2618.4 727.6,2618.4 729.9,2618.3 732.1,2618.6 734.4,2618.4 736.7,2618.5 738.9,2618.5 741.2,2618.3 743.5,2618.3 745.7,2618 748,2617.9 750.3,2617.9 752.5,2617.8 754.8,2618 757.1,2618.1 759.3,2618 761.6,2617.7 763.9,2617.9 766.1,2618 768.4,2618 770.7,2618 772.9,2618.1 775.2,2618.2 777.5,2618.2 779.8,2618.2 782,2618 784.3,2617.8 786.6,2617.8 788.8,2617.6 791.1,2617.6 793.4,2617.6 795.6,2617.6 797.9,2617.5 800.2,2617.4 802.4,2617.5 804.7,2617.5 807,2617.4 809.2,2617.3 811.5,2617.3 813.8,2617.4 816,2617.2 818.3,2617.5 820.6,2617.5 822.8,2617.2 825.1,2617.2 827.4,2617.1 829.6,2617.4 831.9,2617.2 834.2,2617.1 836.4,2617 838.7,2617.1 841,2617.2 843.2,2617.2 845.5,2617.1 847.8,2616.9 850.1,2617 852.3,2617.3 854.6,2617.3 856.9,2617.4 859.1,2617.2 861.4,2617.4 863.7,2617.7 865.9,2617.7 868.2,2617.9 870.5,2617.9 872.7,2617.9 875,2618.1 877.3,2618.1 879.5,2618.2 881.8,2618.2 884.1,2618.2 886.3,2618.1 888.6,2618.1 890.9,2618 893.1,2617.7 895.4,2617.8 897.7,2617.5 899.9,2617.8 902.2,2617.7 904.5,2617.7 906.8,2617.8 909,2617.7 911.3,2617.5 913.6,2617.5 915.8,2617.4 918.1,2617.5 920.4,2617.7 922.6,2617.8 924.9,2617.7 927.2,2617.7 929.4,2617.7 931.7,2617.5 934,2617.4 936.2,2617.3 938.5,2617.3 940.8,2617.5 943,2617.5 945.3,2617.6 947.6,2617.6 949.8,2617.7 952.1,2617.5 954.4,2617.6 956.6,2617.7 958.9,2617.5 961.2,2617.6 963.4,2617.8 965.7,2617.7 968,2617.9 970.2,2617.8 972.5,2617.8 974.8,2617.7 977.1,2617.6 979.3,2617.5 981.6,2617.7 983.9,2617.8 986.1,2617.8 988.4,2617.8 990.7,2617.7 992.9,2617.7 995.2,2617.8 997.5,2617.8 999.7,2617.7 1002,2617.6 1004.3,2617.8 1006.5,2617.9 1008.8,2618 1011.1,2618.1 1013.3,2618 1015.6,2617.9 1017.9,2618.1 1020.1,2618.3 1022.4,2618.2 1024.7,2618.3 1026.9,2618.1 1029.2,2618.3 1031.5,2618.4 1033.8,2618.4 1036,2618.6 1038.3,2618.4 1040.6,2618.3 1042.8,2618.3 1045.1,2618.4 1047.4,2618.3 1049.6,2618.4 1051.9,2618.5 1054.2,2618.3 1056.4,2618.4 1058.7,2618.2 1061,2618.1 1063.2,2618 1065.5,2617.8 1067.8,2617.9 1070,2617.8 1072.3,2617.6 1074.6,2617.5 1076.8,2617.5 1079.1,2617.5 1081.4,2617.3 1083.6,2617.4 1085.9,2617.3 1088.2,2617.2 1090.4,2617.4 1092.7,2617.5 1095,2617.6 1097.2,2617.5 1099.5,2617.8 1101.8,2617.8 1104.1,2617.9 1106.3,2617.8 1108.6,2617.8 1110.9,2618 1113.1,2617.8 1115.4,2618.2 1117.7,2618.4 1119.9,2618.2 1122.2,2618 1124.5,2617.9 1126.7,2617.9 1129,2617.8" fill="none" stroke="#000000" stroke-width="17" stroke-linejoin="round" stroke-linecap="butt"/>
</g>
<path d="M1129 2502 L176.5 2502 L176.5 3183 L1129 3183" fill="none" stroke="#000" stroke-width="7" stroke-linecap="square" stroke-linejoin="miter"/>
<path d="M1129 2502 L1129 3183" fill="none" stroke="#000000" stroke-width="7" stroke-linecap="square"/>
<path d="M244.5 3183 V3173.5 M312.6 3183 V3167.5 M380.6 3183 V3173.5 M448.6 3183 V3167.5 M516.7 3183 V3173.5 M584.7 3183 V3167.5 M652.8 3183 V3173.5 M720.8 3183 V3167.5 M788.8 3183 V3173.5 M856.9 3183 V3167.5 M924.9 3183 V3173.5 M992.9 3183 V3167.5 M1061 3183 V3173.5" stroke="#000" stroke-width="7" fill="none"/>
<text transform="translate(176.5 3229) scale(1.0800 1)" x="0" y="0" font-family="'Liberation Serif', 'Times New Roman', serif" font-size="43" font-weight="bold" text-anchor="middle" fill="#000000">0</text>
<text transform="translate(312.6 3229) scale(1.0800 1)" x="0" y="0" font-family="'Liberation Serif', 'Times New Roman', serif" font-size="43" font-weight="bold" text-anchor="middle" fill="#000000">30</text>
<text transform="translate(448.6 3229) scale(1.0800 1)" x="0" y="0" font-family="'Liberation Serif', 'Times New Roman', serif" font-size="43" font-weight="bold" text-anchor="middle" fill="#000000">60</text>
<text transform="translate(584.7 3229) scale(1.0800 1)" x="0" y="0" font-family="'Liberation Serif', 'Times New Roman', serif" font-size="43" font-weight="bold" text-anchor="middle" fill="#000000">90</text>
<text transform="translate(720.8 3229) scale(1.0800 1)" x="0" y="0" font-family="'Liberation Serif', 'Times New Roman', serif" font-size="43" font-weight="bold" text-anchor="middle" fill="#000000">120</text>
<text transform="translate(856.9 3229) scale(1.0800 1)" x="0" y="0" font-family="'Liberation Serif', 'Times New Roman', serif" font-size="43" font-weight="bold" text-anchor="middle" fill="#000000">150</text>
<text transform="translate(992.9 3229) scale(1.0800 1)" x="0" y="0" font-family="'Liberation Serif', 'Times New Roman', serif" font-size="43" font-weight="bold" text-anchor="middle" fill="#000000">180</text>
<text transform="translate(1129 3229) scale(1.0800 1)" x="0" y="0" font-family="'Liberation Serif', 'Times New Roman', serif" font-size="43" font-weight="bold" text-anchor="middle" fill="#000000">210</text>
<path d="M176.5 3134.4 H186 M176.5 3085.7 H192 M176.5 3037.1 H186 M176.5 2988.4 H192 M176.5 2939.8 H186 M176.5 2891.1 H192 M176.5 2842.5 H186 M176.5 2793.9 H192 M176.5 2745.2 H186 M176.5 2696.6 H192 M176.5 2647.9 H186 M176.5 2599.3 H192 M176.5 2550.6 H186" stroke="#000" stroke-width="7" fill="none"/>
<text transform="translate(158.5 3195.7) scale(1.1000 1)" x="0" y="0" font-family="'Liberation Serif', 'Times New Roman', serif" font-size="41" font-weight="bold" text-anchor="end" fill="#000000">0</text>
<text transform="translate(158.5 3098.4) scale(1.1000 1)" x="0" y="0" font-family="'Liberation Serif', 'Times New Roman', serif" font-size="41" font-weight="bold" text-anchor="end" fill="#000000">10</text>
<text transform="translate(158.5 3001.1) scale(1.1000 1)" x="0" y="0" font-family="'Liberation Serif', 'Times New Roman', serif" font-size="41" font-weight="bold" text-anchor="end" fill="#000000">20</text>
<text transform="translate(158.5 2903.9) scale(1.1000 1)" x="0" y="0" font-family="'Liberation Serif', 'Times New Roman', serif" font-size="41" font-weight="bold" text-anchor="end" fill="#000000">30</text>
<text transform="translate(158.5 2806.6) scale(1.1000 1)" x="0" y="0" font-family="'Liberation Serif', 'Times New Roman', serif" font-size="41" font-weight="bold" text-anchor="end" fill="#000000">40</text>
<text transform="translate(158.5 2709.3) scale(1.1000 1)" x="0" y="0" font-family="'Liberation Serif', 'Times New Roman', serif" font-size="41" font-weight="bold" text-anchor="end" fill="#000000">50</text>
<text transform="translate(158.5 2612) scale(1.1000 1)" x="0" y="0" font-family="'Liberation Serif', 'Times New Roman', serif" font-size="41" font-weight="bold" text-anchor="end" fill="#000000">60</text>
<text transform="translate(158.5 2514.7) scale(1.1000 1)" x="0" y="0" font-family="'Liberation Serif', 'Times New Roman', serif" font-size="41" font-weight="bold" text-anchor="end" fill="#000000">70</text>
<text transform="translate(73 2842.9) rotate(-90) scale(0.8792 1)" x="0" y="0" font-family="'Liberation Serif', 'Times New Roman', serif" font-size="52" font-weight="bold" text-anchor="middle" fill="#000000">Ozone concentration (mg L<tspan font-size="32.2" dy="-26">-1</tspan><tspan dy="26">)</tspan></text>
<text transform="translate(652.6 3294.5) scale(1.1041 1)" x="0" y="0" font-family="'Liberation Serif', 'Times New Roman', serif" font-size="44.5" font-weight="bold" text-anchor="middle" fill="#000000">Time (min)</text>
<text transform="translate(459.4 2584.5) scale(1.1358 1)" x="0" y="0" font-family="'Liberation Sans', Arial, sans-serif" font-size="33" font-weight="bold" text-anchor="start" fill="#ff0000">60.0 mg L<tspan font-size="20.5" dx="4" dy="-16.5">-1</tspan></text>
<text transform="translate(461.4 2662.3) scale(1.2206 1)" x="0" y="0" font-family="'Liberation Sans', Arial, sans-serif" font-size="33" font-weight="bold" text-anchor="start" fill="#111">58.07 mg L<tspan font-size="20.5" dx="4" dy="-16.5">-1</tspan></text>
<polyline points="314,3023.4 408,3023.4" fill="none" stroke="#ff0000" stroke-width="4.5" stroke-linejoin="round" stroke-linecap="butt"/>
<rect x="354" y="3016.4" width="14" height="14" fill="#ff0000"/>
<polyline points="314,3067.9 408,3067.9" fill="none" stroke="#111" stroke-width="4.5" stroke-linejoin="round" stroke-linecap="butt"/>
<circle cx="361" cy="3067.9" r="6.5" fill="#000000"/>
<text transform="translate(422 3035.1) scale(1.1448 1)" x="0" y="0" font-family="'Liberation Sans', Arial, sans-serif" font-size="32.5" font-weight="bold" text-anchor="start" fill="#000000">In [O<tspan font-size="17.9" dy="0">3</tspan><tspan dy="-0">]</tspan></text>
<text transform="translate(422 3079.6) scale(1.1448 1)" x="0" y="0" font-family="'Liberation Sans', Arial, sans-serif" font-size="32.5" font-weight="bold" text-anchor="start" fill="#000000">Out [O<tspan font-size="17.9" dy="0">3</tspan><tspan dy="-0">]</tspan></text>
<text x="213" y="3130.5" font-family="'Liberation Serif', 'Times New Roman', serif" font-size="71" font-weight="bold" text-anchor="start" fill="#000000">g</text>
<clipPath id="cpi"><rect x="198" y="3336" width="944" height="679"/></clipPath><g clip-path="url(#cpi)">
<polyline points="198,3406.4 200.2,3406.5 202.5,3406.6 204.7,3406.6 207,3407 209.2,3407.1 211.5,3407.4 213.7,3407.1 216,3406.9 218.2,3407.2 220.5,3407.2 222.7,3407.4 225,3407.3 227.2,3407.4 229.5,3407.5 231.7,3407.3 234,3407.5 236.2,3407.4 238.5,3407.1 240.7,3406.9 243,3407.2 245.2,3407.1 247.4,3407 249.7,3407 251.9,3407 254.2,3406.9 256.4,3406.7 258.7,3406.3 260.9,3406.3 263.2,3406.3 265.4,3406.2 267.7,3406.5 269.9,3406.8 272.2,3406.8 274.4,3407.1 276.7,3407.1 278.9,3407.3 281.2,3407.1 283.4,3407.3 285.7,3407.5 287.9,3407.5 290.2,3407.7 292.4,3407.7 294.6,3407.6 296.9,3407.4 299.1,3407.5 301.4,3407.1 303.6,3407.2 305.9,3407.2 308.1,3406.9 310.4,3407.1 312.6,3407 314.9,3407 317.1,3407 319.4,3407.2 321.6,3407.3 323.9,3407.4 326.1,3407.3 328.4,3407.3 330.6,3407.3 332.9,3407 335.1,3407 337.4,3407.1 339.6,3407 341.8,3407.1 344.1,3407 346.3,3407.1 348.6,3406.9 350.8,3406.6 353.1,3406.4 355.3,3406.7 357.6,3406.4 359.8,3406.7 362.1,3406.9 364.3,3407 366.6,3406.8 368.8,3406.8 371.1,3406.6 373.3,3406.7 375.6,3406.7 377.8,3406.8 380.1,3407 382.3,3407.3 384.6,3407.3 386.8,3407.3 389,3407 391.3,3407.1 393.5,3407.3 395.8,3407.3 398,3407.2 400.3,3407.4 402.5,3407.5 404.8,3407.4 407,3407.2 409.3,3407.1 411.5,3407 413.8,3407 416,3406.9 418.3,3407.3 420.5,3407.2 422.8,3406.9 425,3407.2 427.3,3407.1 429.5,3406.9 431.8,3406.8 434,3406.7 436.2,3407 438.5,3407 440.7,3407.1 443,3406.8 445.2,3407 447.5,3406.9 449.7,3406.7 452,3406.7 454.2,3406.4 456.5,3406.5 458.7,3406.7 461,3406.6 463.2,3406.7 465.5,3406.7 467.7,3406.7 470,3406.7 472.2,3406.8 474.5,3406.6 476.7,3406.4 479,3406.6 481.2,3406.7 483.4,3406.9 485.7,3407 487.9,3407.1 490.2,3407.1 492.4,3406.9 494.7,3406.9 496.9,3406.8 499.2,3406.6 501.4,3406.5 503.7,3406.6 505.9,3406.6 508.2,3406.7 510.4,3406.7 512.7,3406.7 514.9,3406.5 517.2,3406.4 519.4,3406.4 521.7,3406.6 523.9,3406.4 526.2,3406.4 528.4,3406.5 530.6,3406.7 532.9,3406.8 535.1,3407 537.4,3406.9 539.6,3406.9 541.9,3406.8 544.1,3406.7 546.4,3406.7 548.6,3406.8 550.9,3406.7 553.1,3406.8 555.4,3406.7 557.6,3406.8 559.9,3406.5 562.1,3406.4 564.4,3406.2 566.6,3406.1 568.9,3405.9 571.1,3406.1 573.4,3406.1 575.6,3406.3 577.8,3406.1 580.1,3406 582.3,3406.1 584.6,3406.2 586.8,3406 589.1,3406.1 591.3,3406.3 593.6,3406.3 595.8,3406.4 598.1,3406.5 600.3,3406.6 602.6,3406.5 604.8,3406.3 607.1,3406.4 609.3,3406.5 611.6,3406.6 613.8,3406.8 616.1,3406.9 618.3,3406.9 620.6,3406.9 622.8,3407 625,3406.9 627.3,3407.2 629.5,3407.1 631.8,3407.3 634,3407.5 636.3,3407.7 638.5,3407.8 640.8,3407.8 643,3407.8 645.3,3407.9 647.5,3408 649.8,3407.9 652,3408 654.3,3408 656.5,3407.9 658.8,3407.7 661,3407.8 663.3,3407.7 665.5,3407.7 667.8,3407.6 670,3407.6 672.2,3407.4 674.5,3407.3 676.7,3407.5 679,3407.4 681.2,3407.6 683.5,3407.6 685.7,3407.5 688,3407.6 690.2,3407.3 692.5,3407.2 694.7,3407.1 697,3407 699.2,3406.8 701.5,3407 703.7,3407 706,3406.8 708.2,3406.9 710.5,3406.6 712.7,3406.4 715,3406.3 717.2,3406.4 719.4,3406.4 721.7,3406.7 723.9,3406.8 726.2,3406.9 728.4,3406.9 730.7,3407 732.9,3406.8 735.2,3406.7 737.4,3406.8 739.7,3407 741.9,3407.2 744.2,3407.3 746.4,3407.1 748.7,3407.3 750.9,3407 753.2,3406.7 755.4,3406.7 757.7,3406.8 759.9,3406.5 762.2,3406.5 764.4,3406.7 766.6,3406.7 768.9,3406.5 771.1,3406.4 773.4,3406.5 775.6,3406.6 777.9,3406.7 780.1,3406.8 782.4,3407 784.6,3407.1 786.9,3406.9 789.1,3407 791.4,3407.1 793.6,3407.1 795.9,3407.1 798.1,3407.1 800.4,3407 802.6,3407 804.9,3407.1 807.1,3407.1 809.4,3407 811.6,3407 813.8,3406.9 816.1,3407 818.3,3407.1 820.6,3406.9 822.8,3406.8 825.1,3406.9 827.3,3406.9 829.6,3407.1 831.8,3407 834.1,3407 836.3,3406.9 838.6,3407.1 840.8,3407 843.1,3407.1 845.3,3407 847.6,3407 849.8,3407.2 852.1,3407.4 854.3,3407.3 856.6,3407.2 858.8,3407 861,3407 863.3,3407.1 865.5,3407 867.8,3407 870,3407 872.3,3406.8 874.5,3406.9 876.8,3406.9 879,3406.6 881.3,3406.6 883.5,3406.6 885.8,3406.6 888,3406.9 890.3,3406.9 892.5,3406.7 894.8,3406.9 897,3406.8 899.3,3406.7 901.5,3406.8 903.8,3406.9 906,3406.8 908.2,3406.8 910.5,3406.9 912.7,3406.9 915,3407 917.2,3406.9 919.5,3406.9 921.7,3407.1 924,3406.9 926.2,3406.9 928.5,3407.2 930.7,3407.2 933,3407 935.2,3407 937.5,3407.1 939.7,3407.2 942,3407.1 944.2,3406.9 946.5,3406.8 948.7,3406.6 951,3406.7 953.2,3406.6 955.4,3406.8 957.7,3406.6 959.9,3406.3 962.2,3406.4 964.4,3406.6 966.7,3406.7 968.9,3406.4 971.2,3406.6 973.4,3406.7 975.7,3406.9 977.9,3407.1 980.2,3406.9 982.4,3407.2 984.7,3407.2 986.9,3407.3 989.2,3407.6 991.4,3407.9 993.7,3407.7 995.9,3407.6 998.2,3407.6 1000.4,3407.6 1002.6,3407.6 1004.9,3407.7 1007.1,3407.5 1009.4,3407.6 1011.6,3407.3 1013.9,3407.2 1016.1,3407.3 1018.4,3407.1 1020.6,3407 1022.9,3407 1025.1,3407.1 1027.4,3407.1 1029.6,3406.9 1031.9,3406.9 1034.1,3406.9 1036.4,3406.9 1038.6,3407 1040.9,3407.1 1043.1,3407 1045.4,3407 1047.6,3407.1 1049.8,3407.1 1052.1,3407 1054.3,3407.1 1056.6,3407.2 1058.8,3407.2 1061.1,3407.4 1063.3,3407.2 1065.6,3407.4 1067.8,3407.4 1070.1,3407.5 1072.3,3407.6 1074.6,3407.3 1076.8,3407.2 1079.1,3407.2 1081.3,3407.2 1083.6,3407.3 1085.8,3407.3 1088.1,3407.5 1090.3,3407.5 1092.6,3407.4 1094.8,3407.2 1097,3407.1 1099.3,3407.3 1101.5,3407 1103.8,3407.1 1106,3407 1108.3,3407.1 1110.5,3407.1 1112.8,3407 1115,3407.2 1117.3,3407.1 1119.5,3406.9 1121.8,3407.1 1124,3407.2 1126.3,3407.3 1128.5,3407 1130.8,3407.1 1133,3407.1 1135.3,3407.2 1137.5,3407 1139.8,3407 1142,3406.9" fill="none" stroke="#ff0000" stroke-width="18" stroke-linejoin="round" stroke-linecap="butt"/>
<polyline points="198,4015 202,3996.1 202.9,3924.5 203.8,3911.6 207.9,3885.2 210.6,3854.3 212.8,3822.6 215.5,3676.3 220.5,3631.7 223.2,3609.1 224.5,3587.2 227,3568.4 229.5,3551.8 232.2,3522.3 234.4,3494.4 238.5,3463.5 243.4,3443.1 256.4,3425.8" fill="none" stroke="#000000" stroke-width="2.8" stroke-linejoin="round" stroke-linecap="round"/>
<circle cx="202" cy="3996.1" r="6.2" fill="#000000"/>
<circle cx="202.9" cy="3924.5" r="6.2" fill="#000000"/>
<circle cx="203.8" cy="3911.6" r="6.2" fill="#000000"/>
<circle cx="207.9" cy="3885.2" r="6.2" fill="#000000"/>
<circle cx="210.6" cy="3854.3" r="6.2" fill="#000000"/>
<circle cx="212.8" cy="3822.6" r="6.2" fill="#000000"/>
<circle cx="215.5" cy="3676.3" r="6.2" fill="#000000"/>
<circle cx="220.5" cy="3631.7" r="6.2" fill="#000000"/>
<circle cx="223.2" cy="3609.1" r="6.2" fill="#000000"/>
<circle cx="224.5" cy="3587.2" r="6.2" fill="#000000"/>
<circle cx="227" cy="3568.4" r="6.2" fill="#000000"/>
<circle cx="229.5" cy="3551.8" r="6.2" fill="#000000"/>
<circle cx="232.2" cy="3522.3" r="6.2" fill="#000000"/>
<circle cx="234.4" cy="3494.4" r="6.2" fill="#000000"/>
<circle cx="238.5" cy="3463.5" r="6.2" fill="#000000"/>
<circle cx="243.4" cy="3443.1" r="6.2" fill="#000000"/>
<circle cx="243.4" cy="3443.1" r="6.2" fill="#000000"/>
<circle cx="243.5" cy="3442.4" r="6.2" fill="#000000"/>
<circle cx="243.7" cy="3441.5" r="6.2" fill="#000000"/>
<circle cx="243.9" cy="3440.4" r="6.2" fill="#000000"/>
<circle cx="244.1" cy="3439.2" r="6.2" fill="#000000"/>
<circle cx="244.3" cy="3437.8" r="6.2" fill="#000000"/>
<circle cx="244.6" cy="3436.5" r="6.2" fill="#000000"/>
<circle cx="244.8" cy="3435.2" r="6.2" fill="#000000"/>
<circle cx="245.1" cy="3433.9" r="6.2" fill="#000000"/>
<circle cx="245.4" cy="3432.8" r="6.2" fill="#000000"/>
<circle cx="245.6" cy="3431.8" r="6.2" fill="#000000"/>
<circle cx="245.9" cy="3431" r="6.2" fill="#000000"/>
<circle cx="246.2" cy="3430.2" r="6.2" fill="#000000"/>
<circle cx="246.5" cy="3429.4" r="6.2" fill="#000000"/>
<circle cx="246.8" cy="3428.8" r="6.2" fill="#000000"/>
<circle cx="247.1" cy="3428.1" r="6.2" fill="#000000"/>
<circle cx="247.4" cy="3427.6" r="6.2" fill="#000000"/>
<circle cx="247.8" cy="3427" r="6.2" fill="#000000"/>
<circle cx="248.1" cy="3426.6" r="6.2" fill="#000000"/>
<circle cx="248.4" cy="3426.1" r="6.2" fill="#000000"/>
<circle cx="248.8" cy="3425.8" r="6.2" fill="#000000"/>
<circle cx="249.2" cy="3425.5" r="6.2" fill="#000000"/>
<circle cx="249.6" cy="3425.3" r="6.2" fill="#000000"/>
<circle cx="250" cy="3425.1" r="6.2" fill="#000000"/>
<circle cx="250.4" cy="3425" r="6.2" fill="#000000"/>
<circle cx="250.8" cy="3425" r="6.2" fill="#000000"/>
<circle cx="251.2" cy="3425" r="6.2" fill="#000000"/>
<circle cx="251.6" cy="3425" r="6.2" fill="#000000"/>
<circle cx="252" cy="3425" r="6.2" fill="#000000"/>
<circle cx="252.5" cy="3425" r="6.2" fill="#000000"/>
<circle cx="252.8" cy="3425" r="6.2" fill="#000000"/>
<circle cx="253.2" cy="3425" r="6.2" fill="#000000"/>
<circle cx="253.6" cy="3425.1" r="6.2" fill="#000000"/>
<circle cx="254.1" cy="3425.2" r="6.2" fill="#000000"/>
<circle cx="254.5" cy="3425.3" r="6.2" fill="#000000"/>
<circle cx="254.9" cy="3425.4" r="6.2" fill="#000000"/>
<circle cx="255.3" cy="3425.5" r="6.2" fill="#000000"/>
<circle cx="255.6" cy="3425.6" r="6.2" fill="#000000"/>
<circle cx="256" cy="3425.7" r="6.2" fill="#000000"/>
<circle cx="256.2" cy="3425.7" r="6.2" fill="#000000"/>
<circle cx="256.4" cy="3425.8" r="6.2" fill="#000000"/>
<polyline points="256.4,3425.8 258.7,3427.6 260.9,3427.5 263.2,3427.7 265.4,3427.8 267.7,3427.7 269.9,3427.7 272.2,3427.8 274.4,3427.6 276.7,3427.5 278.9,3427.2 281.2,3427.2 283.4,3427.1 285.7,3427.1 287.9,3427.1 290.2,3427 292.4,3427.1 294.6,3427.2 296.9,3427.3 299.1,3427.2 301.4,3427 303.6,3427 305.9,3427.4 308.1,3427.4 310.4,3427.5 312.6,3427.4 314.9,3427.5 317.1,3427.6 319.4,3427.7 321.6,3427.5 323.9,3427.5 326.1,3427.4 328.4,3427.5 330.6,3427.6 332.9,3427.7 335.1,3427.7 337.4,3427.8 339.6,3427.8 341.8,3427.9 344.1,3427.8 346.3,3427.9 348.6,3428 350.8,3428.1 353.1,3427.8 355.3,3427.8 357.6,3427.5 359.8,3427.7 362.1,3427.4 364.3,3427.4 366.6,3427.4 368.8,3427.4 371.1,3427.1 373.3,3427.2 375.6,3427.2 377.8,3427 380.1,3427.1 382.3,3427.3 384.6,3427.5 386.8,3427.8 389,3427.7 391.3,3427.6 393.5,3427.4 395.8,3427.3 398,3427.6 400.3,3427.8 402.5,3427.5 404.8,3427.3 407,3427.3 409.3,3427.4 411.5,3427.3 413.8,3427.1 416,3426.9 418.3,3427 420.5,3427.1 422.8,3427.1 425,3427.2 427.3,3427.1 429.5,3426.9 431.8,3427.1 434,3427.1 436.2,3427.1 438.5,3426.9 440.7,3426.9 443,3427 445.2,3427.1 447.5,3427.1 449.7,3427.2 452,3427.3 454.2,3427.3 456.5,3427.1 458.7,3427.2 461,3427.2 463.2,3427.4 465.5,3427.2 467.7,3427.3 470,3427.3 472.2,3427.1 474.5,3426.8 476.7,3426.7 479,3426.8 481.2,3426.8 483.4,3426.5 485.7,3426.6 487.9,3426.5 490.2,3426.5 492.4,3426.5 494.7,3426.6 496.9,3426.6 499.2,3426.8 501.4,3426.9 503.7,3426.9 505.9,3426.9 508.2,3426.7 510.4,3426.6 512.7,3426.7 514.9,3426.7 517.2,3426.8 519.4,3426.9 521.7,3426.9 523.9,3427 526.2,3426.9 528.4,3426.7 530.6,3426.7 532.9,3426.8 535.1,3427 537.4,3427.2 539.6,3427.2 541.9,3427.3 544.1,3427.5 546.4,3427.5 548.6,3427.4 550.9,3427.3 553.1,3427.3 555.4,3427.6 557.6,3427.8 559.9,3427.7 562.1,3427.7 564.4,3427.5 566.6,3427.3 568.9,3427.5 571.1,3427.6 573.4,3427.5 575.6,3427.5 577.8,3427.5 580.1,3427.5 582.3,3427.5 584.6,3427.4 586.8,3427.4 589.1,3427.3 591.3,3427.6 593.6,3427.7 595.8,3427.9 598.1,3428 600.3,3427.8 602.6,3427.9 604.8,3427.8 607.1,3427.7 609.3,3427.6 611.6,3427.7 613.8,3427.6 616.1,3427.5 618.3,3427.6 620.6,3427.5 622.8,3427.4 625,3427.2 627.3,3427 629.5,3427.1 631.8,3427 634,3427 636.3,3427.1 638.5,3427.1 640.8,3426.9 643,3426.7 645.3,3426.8 647.5,3426.8 649.8,3426.8 652,3426.7 654.3,3426.9 656.5,3427 658.8,3426.9 661,3427 663.3,3427.2 665.5,3427.3 667.8,3427.3 670,3427.5 672.2,3427.8 674.5,3427.7 676.7,3427.9 679,3427.7 681.2,3427.7 683.5,3427.7 685.7,3427.5 688,3427.4 690.2,3427.4 692.5,3427.4 694.7,3427.2 697,3427.1 699.2,3427 701.5,3426.7 703.7,3426.9 706,3426.7 708.2,3427 710.5,3427 712.7,3427.1 715,3427.2 717.2,3427.4 719.4,3427.2 721.7,3427.2 723.9,3427.4 726.2,3427.6 728.4,3427.4 730.7,3427.5 732.9,3427.7 735.2,3427.6 737.4,3427.4 739.7,3427.2 741.9,3427.2 744.2,3427.1 746.4,3427.1 748.7,3427.4 750.9,3427.1 753.2,3426.9 755.4,3426.9 757.7,3427 759.9,3427.1 762.2,3427 764.4,3427.3 766.6,3427.6 768.9,3427.8 771.1,3427.7 773.4,3427.8 775.6,3427.9 777.9,3427.9 780.1,3428.1 782.4,3428 784.6,3427.9 786.9,3428.2 789.1,3427.9 791.4,3427.9 793.6,3427.7 795.9,3427.6 798.1,3427.4 800.4,3427.4 802.6,3427.3 804.9,3427.2 807.1,3427.1 809.4,3427 811.6,3427.1 813.8,3427.2 816.1,3427 818.3,3427 820.6,3427.1 822.8,3427 825.1,3427 827.3,3426.9 829.6,3426.9 831.8,3426.8 834.1,3426.8 836.3,3426.8 838.6,3426.9 840.8,3426.8 843.1,3426.7 845.3,3426.5 847.6,3426.8 849.8,3426.8 852.1,3427.1 854.3,3427.3 856.6,3427.5 858.8,3427.8 861,3428 863.3,3428.2 865.5,3428.1 867.8,3428 870,3427.9 872.3,3427.9 874.5,3427.9 876.8,3427.6 879,3427.6 881.3,3427.6 883.5,3427.3 885.8,3427.1 888,3427.1 890.3,3426.9 892.5,3426.8 894.8,3426.8 897,3426.9 899.3,3427.2 901.5,3427.5 903.8,3427.5 906,3427.5 908.2,3427.2 910.5,3427 912.7,3427 915,3427.1 917.2,3427 919.5,3427 921.7,3426.9 924,3426.9 926.2,3427 928.5,3427 930.7,3426.8 933,3426.8 935.2,3426.8 937.5,3426.9 939.7,3427.1 942,3427.2 944.2,3427.1 946.5,3426.8 948.7,3427 951,3427.1 953.2,3427.1 955.4,3427 957.7,3426.9 959.9,3427 962.2,3427.1 964.4,3427.2 966.7,3427.4 968.9,3427.3 971.2,3427.1 973.4,3427.2 975.7,3427.4 977.9,3427.5 980.2,3427.5 982.4,3427.5 984.7,3427.4 986.9,3427.5 989.2,3427.4 991.4,3427.3 993.7,3427.3 995.9,3427.2 998.2,3427.3 1000.4,3427.5 1002.6,3427.4 1004.9,3427.4 1007.1,3427.4 1009.4,3427.3 1011.6,3427.5 1013.9,3427.5 1016.1,3427.5 1018.4,3427.6 1020.6,3427.7 1022.9,3427.8 1025.1,3427.6 1027.4,3427.6 1029.6,3427.6 1031.9,3427.7 1034.1,3427.7 1036.4,3427.7 1038.6,3427.6 1040.9,3427.6 1043.1,3427.5 1045.4,3427.6 1047.6,3427.6 1049.8,3427.4 1052.1,3427.2 1054.3,3427.3 1056.6,3427.4 1058.8,3427.3 1061.1,3427.5 1063.3,3427.3 1065.6,3427.4 1067.8,3427.6 1070.1,3427.4 1072.3,3427.4 1074.6,3427.2 1076.8,3427.1 1079.1,3427.1 1081.3,3427.3 1083.6,3427.2 1085.8,3427.1 1088.1,3427.1 1090.3,3427 1092.6,3427.1 1094.8,3426.9 1097,3426.9 1099.3,3426.9 1101.5,3426.9 1103.8,3426.9 1106,3426.9 1108.3,3427 1110.5,3426.9 1112.8,3427.1 1115,3427.1 1117.3,3427.3 1119.5,3427.1 1121.8,3427.1 1124,3427.2 1126.3,3426.9 1128.5,3426.8 1130.8,3427 1133,3426.9 1135.3,3427 1137.5,3427.1 1139.8,3427.2 1142,3427.2" fill="none" stroke="#000000" stroke-width="19" stroke-linejoin="round" stroke-linecap="butt"/>
</g>
<path d="M1142 3336 L198 3336 L198 4015 L1142 4015" fill="none" stroke="#000" stroke-width="7" stroke-linecap="square" stroke-linejoin="miter"/>
<path d="M1142 3336 L1142 4015" fill="none" stroke="#000000" stroke-width="7" stroke-linecap="square"/>
<path d="M265.4 4015 V4005.5 M332.9 4015 V3999.5 M400.3 4015 V4005.5 M467.7 4015 V3999.5 M535.1 4015 V4005.5 M602.6 4015 V3999.5 M670 4015 V4005.5 M737.4 4015 V3999.5 M804.9 4015 V4005.5 M872.3 4015 V3999.5 M939.7 4015 V4005.5 M1007.1 4015 V3999.5 M1074.6 4015 V4005.5" stroke="#000" stroke-width="7" fill="none"/>
<text transform="translate(198 4061) scale(1.0800 1)" x="0" y="0" font-family="'Liberation Serif', 'Times New Roman', serif" font-size="43" font-weight="bold" text-anchor="middle" fill="#000000">0</text>
<text transform="translate(332.9 4061) scale(1.0800 1)" x="0" y="0" font-family="'Liberation Serif', 'Times New Roman', serif" font-size="43" font-weight="bold" text-anchor="middle" fill="#000000">30</text>
<text transform="translate(467.7 4061) scale(1.0800 1)" x="0" y="0" font-family="'Liberation Serif', 'Times New Roman', serif" font-size="43" font-weight="bold" text-anchor="middle" fill="#000000">60</text>
<text transform="translate(602.6 4061) scale(1.0800 1)" x="0" y="0" font-family="'Liberation Serif', 'Times New Roman', serif" font-size="43" font-weight="bold" text-anchor="middle" fill="#000000">90</text>
<text transform="translate(737.4 4061) scale(1.0800 1)" x="0" y="0" font-family="'Liberation Serif', 'Times New Roman', serif" font-size="43" font-weight="bold" text-anchor="middle" fill="#000000">120</text>
<text transform="translate(872.3 4061) scale(1.0800 1)" x="0" y="0" font-family="'Liberation Serif', 'Times New Roman', serif" font-size="43" font-weight="bold" text-anchor="middle" fill="#000000">150</text>
<text transform="translate(1007.1 4061) scale(1.0800 1)" x="0" y="0" font-family="'Liberation Serif', 'Times New Roman', serif" font-size="43" font-weight="bold" text-anchor="middle" fill="#000000">180</text>
<text transform="translate(1142 4061) scale(1.0800 1)" x="0" y="0" font-family="'Liberation Serif', 'Times New Roman', serif" font-size="43" font-weight="bold" text-anchor="middle" fill="#000000">210</text>
<path d="M198 3977.3 H207.5 M198 3939.6 H213.5 M198 3901.8 H207.5 M198 3864.1 H213.5 M198 3826.4 H207.5 M198 3788.7 H213.5 M198 3750.9 H207.5 M198 3713.2 H213.5 M198 3675.5 H207.5 M198 3637.8 H213.5 M198 3600.1 H207.5 M198 3562.3 H213.5 M198 3524.6 H207.5 M198 3486.9 H213.5 M198 3449.2 H207.5 M198 3411.4 H213.5 M198 3373.7 H207.5" stroke="#000" stroke-width="7" fill="none"/>
<text transform="translate(180 4027.7) scale(1.1000 1)" x="0" y="0" font-family="'Liberation Serif', 'Times New Roman', serif" font-size="41" font-weight="bold" text-anchor="end" fill="#000000">0</text>
<text transform="translate(180 3952.3) scale(1.1000 1)" x="0" y="0" font-family="'Liberation Serif', 'Times New Roman', serif" font-size="41" font-weight="bold" text-anchor="end" fill="#000000">10</text>
<text transform="translate(180 3876.8) scale(1.1000 1)" x="0" y="0" font-family="'Liberation Serif', 'Times New Roman', serif" font-size="41" font-weight="bold" text-anchor="end" fill="#000000">20</text>
<text transform="translate(180 3801.4) scale(1.1000 1)" x="0" y="0" font-family="'Liberation Serif', 'Times New Roman', serif" font-size="41" font-weight="bold" text-anchor="end" fill="#000000">30</text>
<text transform="translate(180 3725.9) scale(1.1000 1)" x="0" y="0" font-family="'Liberation Serif', 'Times New Roman', serif" font-size="41" font-weight="bold" text-anchor="end" fill="#000000">40</text>
<text transform="translate(180 3650.5) scale(1.1000 1)" x="0" y="0" font-family="'Liberation Serif', 'Times New Roman', serif" font-size="41" font-weight="bold" text-anchor="end" fill="#000000">50</text>
<text transform="translate(180 3575) scale(1.1000 1)" x="0" y="0" font-family="'Liberation Serif', 'Times New Roman', serif" font-size="41" font-weight="bold" text-anchor="end" fill="#000000">60</text>
<text transform="translate(180 3499.6) scale(1.1000 1)" x="0" y="0" font-family="'Liberation Serif', 'Times New Roman', serif" font-size="41" font-weight="bold" text-anchor="end" fill="#000000">70</text>
<text transform="translate(180 3424.2) scale(1.1000 1)" x="0" y="0" font-family="'Liberation Serif', 'Times New Roman', serif" font-size="41" font-weight="bold" text-anchor="end" fill="#000000">80</text>
<text transform="translate(180 3348.7) scale(1.1000 1)" x="0" y="0" font-family="'Liberation Serif', 'Times New Roman', serif" font-size="41" font-weight="bold" text-anchor="end" fill="#000000">90</text>
<text transform="translate(85.2 3676.2) rotate(-90) scale(0.9119 1)" x="0" y="0" font-family="'Liberation Serif', 'Times New Roman', serif" font-size="46.7" font-weight="bold" text-anchor="middle" fill="#000000">Ozone concentration (mg L<tspan font-size="29" dy="-23.4">-1</tspan><tspan dy="23.4">)</tspan></text>
<text transform="translate(669.6 4124.5) scale(1.0946 1)" x="0" y="0" font-family="'Liberation Serif', 'Times New Roman', serif" font-size="44.5" font-weight="bold" text-anchor="middle" fill="#000000">Time (min)</text>
<text transform="translate(476 3391.4) scale(1.1181 1)" x="0" y="0" font-family="'Liberation Sans', Arial, sans-serif" font-size="33" font-weight="bold" text-anchor="start" fill="#ff0000">80.6 mg L<tspan font-size="20.5" dx="4" dy="-16.5">-1</tspan></text>
<text transform="translate(476.4 3476.3) scale(1.2081 1)" x="0" y="0" font-family="'Liberation Sans', Arial, sans-serif" font-size="33" font-weight="bold" text-anchor="start" fill="#111">78.0 mg L<tspan font-size="20.5" dx="4" dy="-16.5">-1</tspan></text>
<polyline points="330,3861.3 423,3861.3" fill="none" stroke="#ff0000" stroke-width="4.5" stroke-linejoin="round" stroke-linecap="butt"/>
<rect x="369.5" y="3854.3" width="14" height="14" fill="#ff0000"/>
<polyline points="330,3905.7 423,3905.7" fill="none" stroke="#111" stroke-width="4.5" stroke-linejoin="round" stroke-linecap="butt"/>
<circle cx="376.5" cy="3905.7" r="6.5" fill="#000000"/>
<text transform="translate(437 3873) scale(1.1448 1)" x="0" y="0" font-family="'Liberation Sans', Arial, sans-serif" font-size="32.5" font-weight="bold" text-anchor="start" fill="#000000">In [O<tspan font-size="17.9" dy="0">3</tspan><tspan dy="-0">]</tspan></text>
<text transform="translate(437 3917.4) scale(1.1448 1)" x="0" y="0" font-family="'Liberation Sans', Arial, sans-serif" font-size="32.5" font-weight="bold" text-anchor="start" fill="#000000">Out [O<tspan font-size="17.9" dy="0">3</tspan><tspan dy="-0">]</tspan></text>
<text x="234" y="3957" font-family="'Liberation Serif', 'Times New Roman', serif" font-size="66" font-weight="bold" text-anchor="start" fill="#000000">i</text>
<clipPath id="cpb"><rect x="1377.5" y="36" width="942.5" height="680"/></clipPath><g clip-path="url(#cpb)">
<polyline points="1377.5,716 1382.5,691.6 1387.3,668.2 1392.1,646 1396.7,624.8 1401.2,604.6 1405.6,585.4 1409.9,567.2 1414.1,549.9 1418.1,533.5 1422.1,518.1 1426,503.4 1429.8,489.6 1433.4,476.6 1437,464.4 1440.5,452.9 1443.9,442.2 1447.2,432.1 1450.5,422.7 1453.7,413.9 1456.7,405.8 1459.8,398.2 1462.7,391.2 1465.6,384.7 1468.4,378.7 1471.1,373.2 1473.8,368.2 1476.4,363.5 1479,359.3 1481.5,355.4 1484,351.8 1486.4,348.6 1488.8,345.6 1491.1,342.9 1493.4,340.4 1495.7,338.1 1497.9,336 1500.1,334.1 1502.3,332.2 1504.4,330.5 1506.5,328.8 1508.6,327.1 1510.7,325.5 1512.8,323.9 1514.8,322.4 1516.8,320.9 1518.8,319.4 1520.8,317.9 1522.7,316.5 1524.7,315.1 1526.6,313.7 1528.5,312.4 1530.4,311.1 1532.3,309.8 1534.2,308.6 1536,307.4 1537.9,306.2 1539.7,305 1541.5,303.9 1543.3,302.8 1545.1,301.7 1546.9,300.6 1548.7,299.6 1550.4,298.5 1552.2,297.6 1553.9,296.6 1555.7,295.6 1557.4,294.7 1559.1,293.8 1560.8,292.9 1562.5,292 1564.3,291.2 1566,290.3 1567.7,289.5 1569.3,288.7 1571,287.9 1572.7,287.1 1574.4,286.4 1576.1,285.6 1577.8,284.9 1579.5,284.2 1581.1,283.5 1582.8,282.8 1584.5,282.1 1586.2,281.5 1587.9,280.8 1589.6,280.2 1591.3,279.5 1593,278.9 1594.7,278.3 1596.5,277.7 1598.2,277.1 1600,276.5 1601.7,275.9 1603.5,275.4 1605.3,274.8 1607.1,274.2 1608.9,273.7 1610.8,273.2 1612.6,272.6 1614.5,272.1 1616.4,271.6 1618.4,271 1620.3,270.5 1622.3,270 1624.3,269.5 1626.3,269 1628.4,268.5 1630.4,268 1632.5,267.5 1634.7,267 1636.9,266.5 1639.1,266 1641.3,265.5 1643.6,265 1645.9,264.5 1648.2,264 1650.6,263.5 1653,263.1 1655.5,262.6 1658,262.1 1660.6,261.6 1663.1,261.1 1665.8,260.6 1668.4,260.1 1671.1,259.5 1673.9,259 1676.6,258.5 1679.5,258 1682.3,257.5 1685.2,257 1688.1,256.5 1691,255.9 1694,255.4 1697,254.9 1700,254.4 1703.1,253.8 1706.1,253.3 1709.2,252.8 1712.4,252.3 1715.5,251.7 1718.7,251.2 1721.9,250.7 1725.1,250.1 1728.3,249.6 1731.5,249.1 1734.8,248.5 1738.1,248 1741.3,247.4 1744.6,246.9 1747.9,246.4 1751.3,245.8 1754.6,245.3 1757.9,244.8 1761.3,244.2 1764.6,243.7 1768,243.1 1771.3,242.6 1774.7,242.1 1778.1,241.5 1781.4,241 1784.8,240.4 1788.2,239.9 1791.5,239.4 1794.9,238.8 1798.3,238.3 1801.6,237.7 1805,237.2 1808.4,236.7 1811.7,236.1 1815.1,235.6 1818.5,235 1821.8,234.5 1825.2,233.9 1828.6,233.4 1831.9,232.8 1835.3,232.3 1838.7,231.7 1842,231.1 1845.4,230.6 1848.8,230 1852.1,229.4 1855.5,228.8 1858.8,228.3 1862.2,227.7 1865.6,227.1 1868.9,226.5 1872.3,225.9 1875.7,225.3 1879,224.7 1882.4,224 1885.8,223.4 1889.1,222.8 1892.5,222.1 1895.9,221.5 1899.2,220.8 1902.6,220.2 1906,219.5 1909.3,218.9 1912.7,218.2 1916.1,217.5 1919.4,216.8 1922.8,216.1 1926.2,215.4 1929.5,214.7 1932.9,213.9 1936.3,213.2 1939.7,212.5 1943.1,211.7 1946.5,211 1949.9,210.3 1953.3,209.5 1956.8,208.8 1960.2,208 1963.7,207.2 1967.2,206.5 1970.6,205.7 1974.2,205 1977.7,204.2 1981.2,203.4 1984.8,202.7 1988.4,201.9 1992,201.2 1995.6,200.4 1999.3,199.7 2003,198.9 2006.7,198.2 2010.4,197.4 2014.2,196.7 2018,196 2021.8,195.3 2025.6,194.5 2029.5,193.8 2033.5,193.1 2037.4,192.4 2041.4,191.7 2045.4,191.1 2049.5,190.4 2053.6,189.7 2057.7,189.1 2061.9,188.4 2066.2,187.8 2070.4,187.2 2074.8,186.6 2079.2,186 2083.6,185.4 2088.1,184.8 2092.7,184.2 2097.4,183.6 2102.1,183.1 2107,182.5 2111.9,182 2117,181.4 2122.1,180.9 2127.4,180.4 2132.7,179.9 2138.2,179.3 2143.9,178.8 2149.6,178.3 2155.5,177.8 2161.5,177.3 2167.7,176.8 2174,176.3 2180.5,175.8 2187.2,175.3 2194,174.8 2201,174.4 2208.1,173.9 2215.5,173.4 2223,172.9 2230.8,172.4 2238.7,171.9 2246.8,171.4 2255.2,171 2263.8,170.5 2272.6,170 2281.6,169.5 2290.8,169 2300.3,168.5 2310,168 2320,167.5" fill="none" stroke="#0a14ff" stroke-width="3.2" stroke-linejoin="round" stroke-linecap="round"/>
<polyline points="1377.5,54.9 1382.5,61.5 1387.3,67.8 1392.1,73.8 1396.7,79.6 1401.2,85 1405.6,90.1 1409.9,94.9 1414.1,99.5 1418.1,103.8 1422.1,107.9 1426,111.7 1429.8,115.3 1433.4,118.6 1437,121.7 1440.5,124.7 1443.9,127.4 1447.2,129.9 1450.5,132.2 1453.7,134.4 1456.7,136.4 1459.8,138.2 1462.7,139.9 1465.6,141.4 1468.4,142.8 1471.1,144.1 1473.8,145.3 1476.4,146.3 1479,147.2 1481.5,148.1 1484,148.8 1486.4,149.5 1488.8,150.1 1491.1,150.7 1493.4,151.2 1495.7,151.7 1497.9,152.1 1500.1,152.5 1502.3,152.9 1504.4,153.2 1506.5,153.6 1508.6,154 1510.7,154.4 1512.8,154.7 1514.8,155.1 1516.8,155.5 1518.8,155.9 1520.8,156.3 1522.7,156.8 1524.7,157.2 1526.6,157.6 1528.5,158 1530.4,158.5 1532.3,158.9 1534.2,159.3 1536,159.8 1537.9,160.2 1539.7,160.7 1541.5,161.1 1543.3,161.6 1545.1,162 1546.9,162.5 1548.7,162.9 1550.4,163.4 1552.2,163.8 1553.9,164.3 1555.7,164.8 1557.4,165.2 1559.1,165.7 1560.8,166.2 1562.5,166.6 1564.3,167.1 1566,167.5 1567.7,168 1569.3,168.5 1571,168.9 1572.7,169.4 1574.4,169.8 1576.1,170.3 1577.8,170.7 1579.5,171.2 1581.1,171.6 1582.8,172 1584.5,172.5 1586.2,172.9 1587.9,173.3 1589.6,173.7 1591.3,174.2 1593,174.6 1594.7,175 1596.5,175.4 1598.2,175.8 1600,176.2 1601.7,176.6 1603.5,177 1605.3,177.4 1607.1,177.8 1608.9,178.2 1610.8,178.6 1612.6,179 1614.5,179.4 1616.4,179.7 1618.4,180.1 1620.3,180.5 1622.3,180.9 1624.3,181.2 1626.3,181.6 1628.4,181.9 1630.4,182.3 1632.5,182.7 1634.7,183 1636.9,183.4 1639.1,183.7 1641.3,184.1 1643.6,184.4 1645.9,184.7 1648.2,185.1 1650.6,185.4 1653,185.7 1655.5,186.1 1658,186.4 1660.6,186.7 1663.1,187 1665.8,187.3 1668.4,187.7 1671.1,188 1673.9,188.3 1676.6,188.6 1679.5,188.9 1682.3,189.2 1685.2,189.5 1688.1,189.7 1691,190 1694,190.3 1697,190.6 1700,190.8 1703.1,191.1 1706.1,191.4 1709.2,191.6 1712.4,191.9 1715.5,192.1 1718.7,192.3 1721.9,192.6 1725.1,192.8 1728.3,193 1731.5,193.2 1734.8,193.4 1738.1,193.6 1741.3,193.8 1744.6,194 1747.9,194.2 1751.3,194.4 1754.6,194.5 1757.9,194.7 1761.3,194.8 1764.6,195 1768,195.1 1771.3,195.2 1774.7,195.3 1778.1,195.4 1781.4,195.5 1784.8,195.6 1788.2,195.7 1791.5,195.8 1794.9,195.9 1798.3,195.9 1801.6,196 1805,196 1808.4,196.1 1811.7,196.1 1815.1,196.2 1818.5,196.2 1821.8,196.2 1825.2,196.3 1828.6,196.3 1831.9,196.3 1835.3,196.3 1838.7,196.4 1842,196.4 1845.4,196.4 1848.8,196.5 1852.1,196.5 1855.5,196.6 1858.8,196.6 1862.2,196.7 1865.6,196.7 1868.9,196.8 1872.3,196.9 1875.7,196.9 1879,197 1882.4,197.1 1885.8,197.2 1889.1,197.3 1892.5,197.5 1895.9,197.6 1899.2,197.7 1902.6,197.9 1906,198.1 1909.3,198.3 1912.7,198.5 1916.1,198.7 1919.4,198.9 1922.8,199.1 1926.2,199.4 1929.5,199.7 1932.9,199.9 1936.3,200.2 1939.7,200.5 1943.1,200.8 1946.5,201.2 1949.9,201.5 1953.3,201.8 1956.8,202.2 1960.2,202.5 1963.7,202.9 1967.2,203.2 1970.6,203.6 1974.2,204 1977.7,204.3 1981.2,204.7 1984.8,205.1 1988.4,205.4 1992,205.8 1995.6,206.2 1999.3,206.5 2003,206.9 2006.7,207.3 2010.4,207.6 2014.2,208 2018,208.3 2021.8,208.7 2025.6,209 2029.5,209.3 2033.5,209.6 2037.4,209.9 2041.4,210.2 2045.4,210.5 2049.5,210.8 2053.6,211 2057.7,211.3 2061.9,211.5 2066.2,211.7 2070.4,211.9 2074.8,212.1 2079.2,212.3 2083.6,212.5 2088.1,212.6 2092.7,212.8 2097.4,212.9 2102.1,213 2107,213.1 2111.9,213.3 2117,213.4 2122.1,213.5 2127.4,213.6 2132.7,213.7 2138.2,213.8 2143.9,213.9 2149.6,213.9 2155.5,214 2161.5,214.1 2167.7,214.2 2174,214.3 2180.5,214.4 2187.2,214.5 2194,214.6 2201,214.7 2208.1,214.8 2215.5,215 2223,215.1 2230.8,215.3 2238.7,215.4 2246.8,215.6 2255.2,215.7 2263.8,215.9 2272.6,216.1 2281.6,216.3 2290.8,216.6 2300.3,216.8 2310,217.1 2320,217.3" fill="none" stroke="#ff0000" stroke-width="3.2" stroke-linejoin="round" stroke-linecap="round"/>
<polyline points="1377.5,54.9 1382.5,62.1 1387.3,69 1392.1,75.6 1396.7,81.8 1401.2,87.7 1405.6,93.3 1409.9,98.7 1414.1,103.7 1418.1,108.5 1422.1,112.9 1426,117.2 1429.8,121.1 1433.4,124.9 1437,128.4 1440.5,131.7 1443.9,134.7 1447.2,137.5 1450.5,140.2 1453.7,142.6 1456.7,144.9 1459.8,147 1462.7,148.9 1465.6,150.7 1468.4,152.3 1471.1,153.8 1473.8,155.1 1476.4,156.3 1479,157.4 1481.5,158.4 1484,159.3 1486.4,160.1 1488.8,160.8 1491.1,161.5 1493.4,162.1 1495.7,162.6 1497.9,163.1 1500.1,163.5 1502.3,163.9 1504.4,164.3 1506.5,164.7 1508.6,165.1 1510.7,165.4 1512.8,165.8 1514.8,166.2 1516.8,166.5 1518.8,166.8 1520.8,167.2 1522.7,167.5 1524.7,167.9 1526.6,168.2 1528.5,168.5 1530.4,168.8 1532.3,169.1 1534.2,169.5 1536,169.8 1537.9,170.1 1539.7,170.4 1541.5,170.6 1543.3,170.9 1545.1,171.2 1546.9,171.5 1548.7,171.8 1550.4,172 1552.2,172.3 1553.9,172.5 1555.7,172.8 1557.4,173 1559.1,173.3 1560.8,173.5 1562.5,173.7 1564.3,174 1566,174.2 1567.7,174.4 1569.3,174.6 1571,174.8 1572.7,175 1574.4,175.2 1576.1,175.4 1577.8,175.6 1579.5,175.8 1581.1,176 1582.8,176.2 1584.5,176.3 1586.2,176.5 1587.9,176.7 1589.6,176.8 1591.3,177 1593,177.1 1594.7,177.3 1596.5,177.4 1598.2,177.6 1600,177.7 1601.7,177.8 1603.5,178 1605.3,178.1 1607.1,178.2 1608.9,178.3 1610.8,178.5 1612.6,178.6 1614.5,178.7 1616.4,178.8 1618.4,178.9 1620.3,179.1 1622.3,179.2 1624.3,179.3 1626.3,179.4 1628.4,179.5 1630.4,179.6 1632.5,179.7 1634.7,179.9 1636.9,180 1639.1,180.1 1641.3,180.2 1643.6,180.3 1645.9,180.4 1648.2,180.5 1650.6,180.7 1653,180.8 1655.5,180.9 1658,181 1660.6,181.2 1663.1,181.3 1665.8,181.4 1668.4,181.5 1671.1,181.7 1673.9,181.8 1676.6,181.9 1679.5,182.1 1682.3,182.2 1685.2,182.4 1688.1,182.5 1691,182.6 1694,182.8 1697,182.9 1700,183 1703.1,183.1 1706.1,183.3 1709.2,183.4 1712.4,183.5 1715.5,183.7 1718.7,183.8 1721.9,183.9 1725.1,184 1728.3,184.1 1731.5,184.2 1734.8,184.3 1738.1,184.4 1741.3,184.5 1744.6,184.6 1747.9,184.7 1751.3,184.8 1754.6,184.9 1757.9,185 1761.3,185.1 1764.6,185.1 1768,185.2 1771.3,185.2 1774.7,185.3 1778.1,185.3 1781.4,185.4 1784.8,185.4 1788.2,185.4 1791.5,185.5 1794.9,185.5 1798.3,185.5 1801.6,185.5 1805,185.5 1808.4,185.5 1811.7,185.5 1815.1,185.5 1818.5,185.5 1821.8,185.5 1825.2,185.5 1828.6,185.5 1831.9,185.5 1835.3,185.5 1838.7,185.5 1842,185.5 1845.4,185.5 1848.8,185.6 1852.1,185.6 1855.5,185.6 1858.8,185.6 1862.2,185.7 1865.6,185.7 1868.9,185.8 1872.3,185.9 1875.7,185.9 1879,186 1882.4,186.1 1885.8,186.2 1889.1,186.3 1892.5,186.5 1895.9,186.6 1899.2,186.8 1902.6,186.9 1906,187.1 1909.3,187.3 1912.7,187.5 1916.1,187.7 1919.4,188 1922.8,188.2 1926.2,188.5 1929.5,188.8 1932.9,189.1 1936.3,189.4 1939.7,189.8 1943.1,190.1 1946.5,190.4 1949.9,190.8 1953.3,191.2 1956.8,191.5 1960.2,191.9 1963.7,192.3 1967.2,192.7 1970.6,193.1 1974.2,193.5 1977.7,193.9 1981.2,194.3 1984.8,194.7 1988.4,195.2 1992,195.6 1995.6,196 1999.3,196.4 2003,196.8 2006.7,197.2 2010.4,197.6 2014.2,198 2018,198.4 2021.8,198.8 2025.6,199.2 2029.5,199.6 2033.5,199.9 2037.4,200.3 2041.4,200.6 2045.4,201 2049.5,201.3 2053.6,201.6 2057.7,201.9 2061.9,202.2 2066.2,202.5 2070.4,202.8 2074.8,203 2079.2,203.2 2083.6,203.5 2088.1,203.7 2092.7,203.9 2097.4,204.1 2102.1,204.3 2107,204.4 2111.9,204.6 2117,204.8 2122.1,204.9 2127.4,205 2132.7,205.2 2138.2,205.3 2143.9,205.4 2149.6,205.5 2155.5,205.7 2161.5,205.8 2167.7,205.9 2174,206 2180.5,206.1 2187.2,206.2 2194,206.3 2201,206.4 2208.1,206.5 2215.5,206.5 2223,206.6 2230.8,206.7 2238.7,206.8 2246.8,206.9 2255.2,207 2263.8,207.1 2272.6,207.3 2281.6,207.4 2290.8,207.5 2300.3,207.6 2310,207.8 2320,207.9" fill="none" stroke="#00d800" stroke-width="3.2" stroke-linejoin="round" stroke-linecap="round"/>
<polyline points="1377.5,54.9 1382.5,61.6 1387.3,68.1 1392.1,74.3 1396.7,80.3 1401.2,86 1405.6,91.5 1409.9,96.8 1414.1,101.8 1418.1,106.6 1422.1,111.1 1426,115.5 1429.8,119.6 1433.4,123.6 1437,127.3 1440.5,130.9 1443.9,134.3 1447.2,137.5 1450.5,140.5 1453.7,143.4 1456.7,146.1 1459.8,148.6 1462.7,151 1465.6,153.3 1468.4,155.4 1471.1,157.4 1473.8,159.2 1476.4,161 1479,162.6 1481.5,164.1 1484,165.6 1486.4,166.9 1488.8,168.1 1491.1,169.3 1493.4,170.3 1495.7,171.3 1497.9,172.3 1500.1,173.1 1502.3,174 1504.4,174.7 1506.5,175.4 1508.6,176.1 1510.7,176.8 1512.8,177.4 1514.8,178 1516.8,178.5 1518.8,179 1520.8,179.5 1522.7,180 1524.7,180.4 1526.6,180.8 1528.5,181.2 1530.4,181.5 1532.3,181.8 1534.2,182.1 1536,182.4 1537.9,182.6 1539.7,182.8 1541.5,183 1543.3,183.2 1545.1,183.4 1546.9,183.5 1548.7,183.7 1550.4,183.8 1552.2,183.9 1553.9,184 1555.7,184 1557.4,184.1 1559.1,184.1 1560.8,184.2 1562.5,184.2 1564.3,184.2 1566,184.2 1567.7,184.3 1569.3,184.3 1571,184.3 1572.7,184.3 1574.4,184.3 1576.1,184.3 1577.8,184.2 1579.5,184.2 1581.1,184.2 1582.8,184.2 1584.5,184.2 1586.2,184.3 1587.9,184.3 1589.6,184.3 1591.3,184.3 1593,184.3 1594.7,184.3 1596.5,184.3 1598.2,184.3 1600,184.4 1601.7,184.4 1603.5,184.4 1605.3,184.4 1607.1,184.5 1608.9,184.5 1610.8,184.5 1612.6,184.5 1614.5,184.6 1616.4,184.6 1618.4,184.7 1620.3,184.7 1622.3,184.7 1624.3,184.8 1626.3,184.8 1628.4,184.9 1630.4,184.9 1632.5,185 1634.7,185 1636.9,185.1 1639.1,185.1 1641.3,185.2 1643.6,185.2 1645.9,185.3 1648.2,185.3 1650.6,185.4 1653,185.5 1655.5,185.5 1658,185.6 1660.6,185.7 1663.1,185.7 1665.8,185.8 1668.4,185.9 1671.1,185.9 1673.9,186 1676.6,186.1 1679.5,186.2 1682.3,186.3 1685.2,186.3 1688.1,186.4 1691,186.5 1694,186.6 1697,186.7 1700,186.8 1703.1,186.9 1706.1,187 1709.2,187.1 1712.4,187.2 1715.5,187.3 1718.7,187.4 1721.9,187.5 1725.1,187.7 1728.3,187.8 1731.5,187.9 1734.8,188 1738.1,188.2 1741.3,188.3 1744.6,188.4 1747.9,188.6 1751.3,188.7 1754.6,188.9 1757.9,189 1761.3,189.2 1764.6,189.4 1768,189.5 1771.3,189.7 1774.7,189.9 1778.1,190.1 1781.4,190.3 1784.8,190.5 1788.2,190.6 1791.5,190.8 1794.9,191 1798.3,191.3 1801.6,191.5 1805,191.7 1808.4,191.9 1811.7,192.1 1815.1,192.3 1818.5,192.6 1821.8,192.8 1825.2,193 1828.6,193.2 1831.9,193.5 1835.3,193.7 1838.7,193.9 1842,194.2 1845.4,194.4 1848.8,194.6 1852.1,194.9 1855.5,195.1 1858.8,195.3 1862.2,195.5 1865.6,195.8 1868.9,196 1872.3,196.2 1875.7,196.4 1879,196.6 1882.4,196.9 1885.8,197.1 1889.1,197.3 1892.5,197.5 1895.9,197.7 1899.2,197.9 1902.6,198.1 1906,198.2 1909.3,198.4 1912.7,198.6 1916.1,198.8 1919.4,198.9 1922.8,199.1 1926.2,199.2 1929.5,199.4 1932.9,199.5 1936.3,199.7 1939.7,199.8 1943.1,199.9 1946.5,200 1949.9,200.2 1953.3,200.3 1956.8,200.4 1960.2,200.5 1963.7,200.6 1967.2,200.7 1970.6,200.8 1974.2,201 1977.7,201.1 1981.2,201.2 1984.8,201.3 1988.4,201.4 1992,201.5 1995.6,201.6 1999.3,201.7 2003,201.8 2006.7,201.9 2010.4,202 2014.2,202.2 2018,202.3 2021.8,202.4 2025.6,202.5 2029.5,202.6 2033.5,202.8 2037.4,202.9 2041.4,203 2045.4,203.2 2049.5,203.3 2053.6,203.5 2057.7,203.6 2061.9,203.8 2066.2,204 2070.4,204.1 2074.8,204.3 2079.2,204.5 2083.6,204.7 2088.1,204.9 2092.7,205.1 2097.4,205.3 2102.1,205.5 2107,205.7 2111.9,206 2117,206.2 2122.1,206.5 2127.4,206.7 2132.7,207 2138.2,207.2 2143.9,207.5 2149.6,207.8 2155.5,208 2161.5,208.3 2167.7,208.6 2174,208.9 2180.5,209.2 2187.2,209.5 2194,209.8 2201,210.2 2208.1,210.5 2215.5,210.8 2223,211.2 2230.8,211.5 2238.7,211.9 2246.8,212.3 2255.2,212.6 2263.8,213 2272.6,213.4 2281.6,213.8 2290.8,214.2 2300.3,214.6 2310,215 2320,215.4" fill="none" stroke="#000000" stroke-width="3.2" stroke-linejoin="round" stroke-linecap="round"/>
<rect x="1369" y="46.4" width="17" height="17" fill="#ff0000"/>
<rect x="1436.3" y="137.1" width="17" height="17" fill="#ff0000"/>
<rect x="1503.6" y="143.3" width="17" height="17" fill="#ff0000"/>
<rect x="1571" y="163.5" width="17" height="17" fill="#ff0000"/>
<rect x="1638.3" y="178.6" width="17" height="17" fill="#ff0000"/>
<rect x="1772.9" y="189.4" width="17" height="17" fill="#ff0000"/>
<rect x="1907.6" y="186.2" width="17" height="17" fill="#ff0000"/>
<rect x="2042.2" y="206.9" width="17" height="17" fill="#ff0000"/>
<rect x="2176.9" y="205.1" width="17" height="17" fill="#ff0000"/>
<rect x="2311.5" y="208.8" width="17" height="17" fill="#ff0000"/>
<circle cx="1377.5" cy="54.9" r="8.5" fill="#00d800"/>
<circle cx="1444.8" cy="153.5" r="8.5" fill="#00d800"/>
<circle cx="1512.1" cy="166" r="8.5" fill="#00d800"/>
<circle cx="1579.5" cy="177.1" r="8.5" fill="#00d800"/>
<circle cx="1646.8" cy="180.5" r="8.5" fill="#00d800"/>
<circle cx="1781.4" cy="187.1" r="8.5" fill="#00d800"/>
<circle cx="1916.1" cy="183.3" r="8.5" fill="#00d800"/>
<circle cx="2050.7" cy="206" r="8.5" fill="#00d800"/>
<circle cx="2185.4" cy="206" r="8.5" fill="#00d800"/>
<circle cx="2320" cy="207.9" r="8.5" fill="#00d800"/>
<path d="M1377.5 44.4 L1367.7 61.3 L1387.3 61.3 Z" fill="#000000"/>
<path d="M1444.8 136.2 L1435 153.1 L1454.6 153.1 Z" fill="#000000"/>
<path d="M1512.1 174.9 L1502.4 191.8 L1521.9 191.8 Z" fill="#000000"/>
<path d="M1579.5 173.2 L1569.7 190.1 L1589.2 190.1 Z" fill="#000000"/>
<path d="M1646.8 174.7 L1637 191.7 L1656.6 191.7 Z" fill="#000000"/>
<path d="M1781.4 178.5 L1771.7 195.4 L1791.2 195.4 Z" fill="#000000"/>
<path d="M1916.1 189.8 L1906.3 206.8 L1925.8 206.8 Z" fill="#000000"/>
<path d="M2050.7 191.7 L2040.9 208.7 L2060.5 208.7 Z" fill="#000000"/>
<path d="M2185.4 199.3 L2175.6 216.2 L2195.1 216.2 Z" fill="#000000"/>
<path d="M2320 204.9 L2310.2 221.9 L2329.8 221.9 Z" fill="#000000"/>
<rect x="1369" y="707.5" width="17" height="17" fill="#0a14ff"/>
<rect x="1436.3" y="374.3" width="17" height="17" fill="#0a14ff"/>
<rect x="1503.6" y="310.8" width="17" height="17" fill="#0a14ff"/>
<rect x="1571" y="272.3" width="17" height="17" fill="#0a14ff"/>
<rect x="1638.3" y="254.2" width="17" height="17" fill="#0a14ff"/>
<rect x="1772.9" y="232.4" width="17" height="17" fill="#0a14ff"/>
<rect x="1907.6" y="211.1" width="17" height="17" fill="#0a14ff"/>
<rect x="2042.2" y="177.1" width="17" height="17" fill="#0a14ff"/>
<rect x="2176.9" y="165.8" width="17" height="17" fill="#0a14ff"/>
<rect x="2311.5" y="159" width="17" height="17" fill="#0a14ff"/>
</g>
<path d="M2320 36 L1377.5 36 L1377.5 716 L2320 716" fill="none" stroke="#000" stroke-width="7" stroke-linecap="square" stroke-linejoin="miter"/>
<path d="M2320 36 L2320 716" fill="none" stroke="#0a14ff" stroke-width="7" stroke-linecap="square"/>
<path d="M1444.8 716 V706.5 M1512.1 716 V700.5 M1579.5 716 V706.5 M1646.8 716 V700.5 M1714.1 716 V706.5 M1781.4 716 V700.5 M1848.8 716 V706.5 M1916.1 716 V700.5 M1983.4 716 V706.5 M2050.7 716 V700.5 M2118 716 V706.5 M2185.4 716 V700.5 M2252.7 716 V706.5" stroke="#000" stroke-width="7" fill="none"/>
<text transform="translate(1377.5 766) scale(1.0800 1)" x="0" y="0" font-family="'Liberation Serif', 'Times New Roman', serif" font-size="44" font-weight="bold" text-anchor="middle" fill="#000000">0</text>
<text transform="translate(1512.1 766) scale(1.0800 1)" x="0" y="0" font-family="'Liberation Serif', 'Times New Roman', serif" font-size="44" font-weight="bold" text-anchor="middle" fill="#000000">30</text>
<text transform="translate(1646.8 766) scale(1.0800 1)" x="0" y="0" font-family="'Liberation Serif', 'Times New Roman', serif" font-size="44" font-weight="bold" text-anchor="middle" fill="#000000">60</text>
<text transform="translate(1781.4 766) scale(1.0800 1)" x="0" y="0" font-family="'Liberation Serif', 'Times New Roman', serif" font-size="44" font-weight="bold" text-anchor="middle" fill="#000000">90</text>
<text transform="translate(1916.1 766) scale(1.0800 1)" x="0" y="0" font-family="'Liberation Serif', 'Times New Roman', serif" font-size="44" font-weight="bold" text-anchor="middle" fill="#000000">120</text>
<text transform="translate(2050.7 766) scale(1.0800 1)" x="0" y="0" font-family="'Liberation Serif', 'Times New Roman', serif" font-size="44" font-weight="bold" text-anchor="middle" fill="#000000">150</text>
<text transform="translate(2185.4 766) scale(1.0800 1)" x="0" y="0" font-family="'Liberation Serif', 'Times New Roman', serif" font-size="44" font-weight="bold" text-anchor="middle" fill="#000000">180</text>
<text transform="translate(2320 766) scale(1.0800 1)" x="0" y="0" font-family="'Liberation Serif', 'Times New Roman', serif" font-size="44" font-weight="bold" text-anchor="middle" fill="#000000">210</text>
<path d="M1377.5 668.8 H1387 M1377.5 621.6 H1393 M1377.5 574.3 H1387 M1377.5 527.1 H1393 M1377.5 479.9 H1387 M1377.5 432.7 H1393 M1377.5 385.4 H1387 M1377.5 338.2 H1393 M1377.5 291 H1387 M1377.5 243.8 H1393 M1377.5 196.6 H1387 M1377.5 149.3 H1393 M1377.5 102.1 H1387 M1377.5 54.9 H1393" stroke="#000" stroke-width="7" fill="none"/>
<text transform="translate(1359.5 730.3) scale(1.1000 1)" x="0" y="0" font-family="'Liberation Serif', 'Times New Roman', serif" font-size="46" font-weight="bold" text-anchor="end" fill="#000000">0</text>
<text transform="translate(1359.5 635.8) scale(1.1000 1)" x="0" y="0" font-family="'Liberation Serif', 'Times New Roman', serif" font-size="46" font-weight="bold" text-anchor="end" fill="#000000">50</text>
<text transform="translate(1359.5 541.4) scale(1.1000 1)" x="0" y="0" font-family="'Liberation Serif', 'Times New Roman', serif" font-size="46" font-weight="bold" text-anchor="end" fill="#000000">100</text>
<text transform="translate(1359.5 446.9) scale(1.1000 1)" x="0" y="0" font-family="'Liberation Serif', 'Times New Roman', serif" font-size="46" font-weight="bold" text-anchor="end" fill="#000000">150</text>
<text transform="translate(1359.5 352.5) scale(1.1000 1)" x="0" y="0" font-family="'Liberation Serif', 'Times New Roman', serif" font-size="46" font-weight="bold" text-anchor="end" fill="#000000">200</text>
<text transform="translate(1359.5 258) scale(1.1000 1)" x="0" y="0" font-family="'Liberation Serif', 'Times New Roman', serif" font-size="46" font-weight="bold" text-anchor="end" fill="#000000">250</text>
<text transform="translate(1359.5 163.6) scale(1.1000 1)" x="0" y="0" font-family="'Liberation Serif', 'Times New Roman', serif" font-size="46" font-weight="bold" text-anchor="end" fill="#000000">300</text>
<text transform="translate(1359.5 69.1) scale(1.1000 1)" x="0" y="0" font-family="'Liberation Serif', 'Times New Roman', serif" font-size="46" font-weight="bold" text-anchor="end" fill="#000000">350</text>
<path d="M2320 659.3 H2310.5 M2320 602.7 H2304.5 M2320 546 H2310.5 M2320 489.3 H2304.5 M2320 432.7 H2310.5 M2320 376 H2304.5 M2320 319.3 H2310.5 M2320 262.7 H2304.5 M2320 206 H2310.5 M2320 149.3 H2304.5 M2320 92.7 H2310.5" stroke="#0a14ff" stroke-width="7" fill="none"/>
<text transform="translate(2336 730.3) scale(1.1000 1)" x="0" y="0" font-family="'Liberation Serif', 'Times New Roman', serif" font-size="46" font-weight="bold" text-anchor="start" fill="#000000">0</text>
<text transform="translate(2336 616.9) scale(1.1000 1)" x="0" y="0" font-family="'Liberation Serif', 'Times New Roman', serif" font-size="46" font-weight="bold" text-anchor="start" fill="#000000">5</text>
<text transform="translate(2336 503.6) scale(1.1000 1)" x="0" y="0" font-family="'Liberation Serif', 'Times New Roman', serif" font-size="46" font-weight="bold" text-anchor="start" fill="#000000">10</text>
<text transform="translate(2336 390.3) scale(1.1000 1)" x="0" y="0" font-family="'Liberation Serif', 'Times New Roman', serif" font-size="46" font-weight="bold" text-anchor="start" fill="#000000">15</text>
<text transform="translate(2336 276.9) scale(1.1000 1)" x="0" y="0" font-family="'Liberation Serif', 'Times New Roman', serif" font-size="46" font-weight="bold" text-anchor="start" fill="#000000">20</text>
<text transform="translate(2336 163.6) scale(1.1000 1)" x="0" y="0" font-family="'Liberation Serif', 'Times New Roman', serif" font-size="46" font-weight="bold" text-anchor="start" fill="#000000">25</text>
<text transform="translate(2336 50.3) scale(1.1000 1)" x="0" y="0" font-family="'Liberation Serif', 'Times New Roman', serif" font-size="46" font-weight="bold" text-anchor="start" fill="#000000">30</text>
<text transform="translate(1267.7 375.9) rotate(-90) scale(0.9266 1)" x="0" y="0" font-family="'Liberation Serif', 'Times New Roman', serif" font-size="49" font-weight="bold" text-anchor="middle" fill="#000000">COD (mg L<tspan font-size="30.4" dy="-24.5">-1</tspan><tspan dy="24.5">)</tspan></text>
<text transform="translate(2441.5 376) rotate(-90) scale(0.9698 1)" x="0" y="0" font-family="'Liberation Serif', 'Times New Roman', serif" font-size="50" font-weight="normal" text-anchor="middle" fill="#0a14ff">COD removal %</text>
<text transform="translate(1849.5 838.5) scale(1.1331 1)" x="0" y="0" font-family="'Liberation Serif', 'Times New Roman', serif" font-size="44.5" font-weight="bold" text-anchor="middle" fill="#000000">Time (min)</text>
<polyline points="1519,502 1609,502" fill="none" stroke="#ff0000" stroke-width="4.5" stroke-linejoin="round" stroke-linecap="butt"/>
<rect x="1556" y="494" width="16" height="16" fill="#ff0000"/>
<text transform="translate(1620 514.5) scale(1.1072 1)" x="0" y="0" font-family="'Liberation Sans', Arial, sans-serif" font-size="34.6" font-weight="bold" text-anchor="start" fill="#111">Reactor 1</text>
<polyline points="1519,546.5 1609,546.5" fill="none" stroke="#00d800" stroke-width="4.5" stroke-linejoin="round" stroke-linecap="butt"/>
<circle cx="1564" cy="546.5" r="8.5" fill="#00d800"/>
<text transform="translate(1620 559) scale(1.1072 1)" x="0" y="0" font-family="'Liberation Sans', Arial, sans-serif" font-size="34.6" font-weight="bold" text-anchor="start" fill="#111">Reactor 2</text>
<polyline points="1519,591 1609,591" fill="none" stroke="#000000" stroke-width="4.5" stroke-linejoin="round" stroke-linecap="butt"/>
<path d="M1564 580.3 L1554 597.6 L1574 597.6 Z" fill="#000000"/>
<text transform="translate(1620 603.5) scale(1.1072 1)" x="0" y="0" font-family="'Liberation Sans', Arial, sans-serif" font-size="34.6" font-weight="bold" text-anchor="start" fill="#111">Reactor 3</text>
<text x="1409" y="691" font-family="'Liberation Serif', 'Times New Roman', serif" font-size="64" font-weight="bold" text-anchor="start" fill="#000000">b</text>
<clipPath id="cpd"><rect x="1379" y="861" width="943" height="699"/></clipPath><g clip-path="url(#cpd)">
<polyline points="1379,1560 1384,1539.1 1388.9,1519.2 1393.6,1500.1 1398.2,1482 1402.7,1464.7 1407.1,1448.2 1411.4,1432.6 1415.6,1417.7 1419.7,1403.6 1423.6,1390.3 1427.5,1377.7 1431.3,1365.8 1435,1354.5 1438.6,1344 1442,1334 1445.5,1324.6 1448.8,1315.9 1452,1307.7 1455.2,1300 1458.3,1292.8 1461.3,1286.1 1464.2,1279.9 1467.1,1274.1 1469.9,1268.8 1472.7,1263.8 1475.4,1259.2 1478,1255 1480.6,1251.1 1483.1,1247.4 1485.6,1244.1 1488,1241 1490.4,1238.1 1492.7,1235.5 1495,1233 1497.3,1230.7 1499.5,1228.5 1501.7,1226.5 1503.8,1224.5 1506,1222.6 1508.1,1220.7 1510.2,1218.8 1512.3,1217 1514.3,1215.2 1516.4,1213.4 1518.4,1211.6 1520.4,1209.9 1522.3,1208.1 1524.3,1206.4 1526.3,1204.7 1528.2,1203 1530.1,1201.4 1532,1199.7 1533.9,1198.1 1535.7,1196.4 1537.6,1194.8 1539.4,1193.3 1541.3,1191.7 1543.1,1190.1 1544.9,1188.6 1546.7,1187.1 1548.5,1185.5 1550.2,1184 1552,1182.6 1553.8,1181.1 1555.5,1179.7 1557.3,1178.2 1559,1176.8 1560.7,1175.4 1562.4,1174 1564.1,1172.6 1565.9,1171.2 1567.6,1169.9 1569.3,1168.6 1570.9,1167.2 1572.6,1165.9 1574.3,1164.6 1576,1163.3 1577.7,1162 1579.4,1160.8 1581.1,1159.5 1582.8,1158.3 1584.4,1157.1 1586.1,1155.8 1587.8,1154.6 1589.5,1153.5 1591.2,1152.3 1592.9,1151.1 1594.6,1149.9 1596.4,1148.8 1598.1,1147.7 1599.8,1146.5 1601.6,1145.4 1603.3,1144.3 1605.1,1143.2 1606.9,1142.1 1608.7,1141.1 1610.6,1140 1612.4,1138.9 1614.3,1137.9 1616.2,1136.9 1618.1,1135.8 1620,1134.8 1621.9,1133.8 1623.9,1132.8 1625.9,1131.8 1627.9,1130.8 1630,1129.8 1632.1,1128.9 1634.2,1127.9 1636.3,1127 1638.5,1126 1640.7,1125.1 1642.9,1124.2 1645.2,1123.2 1647.5,1122.3 1649.9,1121.4 1652.3,1120.5 1654.7,1119.6 1657.1,1118.8 1659.7,1117.9 1662.2,1117 1664.8,1116.1 1667.4,1115.3 1670.1,1114.4 1672.8,1113.6 1675.5,1112.7 1678.3,1111.9 1681.1,1111.1 1684,1110.2 1686.8,1109.4 1689.8,1108.6 1692.7,1107.7 1695.7,1106.9 1698.7,1106.1 1701.7,1105.2 1704.7,1104.4 1707.8,1103.6 1710.9,1102.7 1714,1101.9 1717.2,1101.1 1720.4,1100.2 1723.5,1099.4 1726.8,1098.5 1730,1097.7 1733.2,1096.8 1736.5,1095.9 1739.7,1095.1 1743,1094.2 1746.3,1093.3 1749.6,1092.4 1753,1091.5 1756.3,1090.6 1759.6,1089.7 1763,1088.7 1766.3,1087.8 1769.7,1086.9 1773,1085.9 1776.4,1084.9 1779.8,1083.9 1783.1,1082.9 1786.5,1081.9 1789.9,1080.9 1793.2,1079.9 1796.6,1078.8 1800,1077.8 1803.4,1076.7 1806.7,1075.6 1810.1,1074.5 1813.5,1073.5 1816.8,1072.4 1820.2,1071.3 1823.6,1070.2 1826.9,1069.1 1830.3,1067.9 1833.7,1066.8 1837,1065.7 1840.4,1064.6 1843.8,1063.5 1847.1,1062.4 1850.5,1061.3 1853.9,1060.2 1857.2,1059.1 1860.6,1058 1864,1056.9 1867.3,1055.8 1870.7,1054.7 1874.1,1053.6 1877.4,1052.6 1880.8,1051.5 1884.2,1050.5 1887.5,1049.4 1890.9,1048.4 1894.3,1047.4 1897.6,1046.4 1901,1045.4 1904.4,1044.4 1907.8,1043.5 1911.1,1042.5 1914.5,1041.6 1917.9,1040.7 1921.2,1039.8 1924.6,1038.9 1928,1038.1 1931.3,1037.3 1934.7,1036.4 1938.1,1035.6 1941.5,1034.9 1944.9,1034.1 1948.3,1033.4 1951.7,1032.6 1955.1,1031.9 1958.6,1031.2 1962,1030.5 1965.5,1029.8 1969,1029.2 1972.5,1028.5 1976,1027.9 1979.5,1027.3 1983,1026.6 1986.6,1026 1990.2,1025.5 1993.8,1024.9 1997.5,1024.3 2001.1,1023.8 2004.8,1023.2 2008.5,1022.7 2012.2,1022.2 2016,1021.7 2019.8,1021.1 2023.6,1020.7 2027.5,1020.2 2031.4,1019.7 2035.3,1019.2 2039.3,1018.7 2043.3,1018.3 2047.3,1017.8 2051.4,1017.4 2055.5,1017 2059.6,1016.5 2063.8,1016.1 2068,1015.7 2072.3,1015.2 2076.6,1014.8 2081,1014.4 2085.5,1014 2090,1013.6 2094.6,1013.2 2099.3,1012.8 2104,1012.4 2108.9,1012 2113.8,1011.6 2118.9,1011.2 2124,1010.8 2129.3,1010.4 2134.6,1010 2140.1,1009.5 2145.8,1009.1 2151.5,1008.7 2157.4,1008.3 2163.4,1007.8 2169.6,1007.4 2175.9,1007 2182.4,1006.5 2189.1,1006.1 2195.9,1005.6 2202.9,1005.1 2210.1,1004.6 2217.4,1004.1 2225,1003.6 2232.7,1003.1 2240.7,1002.6 2248.8,1002.1 2257.2,1001.5 2265.7,1001 2274.5,1000.4 2283.6,999.8 2292.8,999.2 2302.3,998.6 2312,998 2322,997.3" fill="none" stroke="#0a14ff" stroke-width="3.2" stroke-linejoin="round" stroke-linecap="round"/>
<polyline points="1379,880.4 1384,888.4 1388.9,895.9 1393.6,903.1 1398.2,909.9 1402.7,916.4 1407.1,922.6 1411.4,928.4 1415.6,933.9 1419.7,939.1 1423.6,944.1 1427.5,948.7 1431.3,953 1435,957.1 1438.6,960.9 1442,964.5 1445.5,967.9 1448.8,971 1452,973.9 1455.2,976.6 1458.3,979 1461.3,981.4 1464.2,983.5 1467.1,985.4 1469.9,987.2 1472.7,988.9 1475.4,990.4 1478,991.8 1480.6,993 1483.1,994.2 1485.6,995.2 1488,996.2 1490.4,997.1 1492.7,997.9 1495,998.7 1497.3,999.4 1499.5,1000 1501.7,1000.7 1503.8,1001.3 1506,1001.9 1508.1,1002.5 1510.2,1003.1 1512.3,1003.8 1514.3,1004.4 1516.4,1005 1518.4,1005.7 1520.4,1006.3 1522.3,1007 1524.3,1007.6 1526.3,1008.3 1528.2,1009 1530.1,1009.7 1532,1010.3 1533.9,1011 1535.7,1011.7 1537.6,1012.4 1539.4,1013.1 1541.3,1013.8 1543.1,1014.5 1544.9,1015.2 1546.7,1015.9 1548.5,1016.6 1550.2,1017.3 1552,1017.9 1553.8,1018.6 1555.5,1019.3 1557.3,1020 1559,1020.7 1560.7,1021.3 1562.4,1022 1564.1,1022.7 1565.9,1023.3 1567.6,1024 1569.3,1024.6 1570.9,1025.2 1572.6,1025.9 1574.3,1026.5 1576,1027.1 1577.7,1027.7 1579.4,1028.3 1581.1,1028.8 1582.8,1029.4 1584.4,1029.9 1586.1,1030.5 1587.8,1031 1589.5,1031.5 1591.2,1032 1592.9,1032.5 1594.6,1033 1596.4,1033.5 1598.1,1034 1599.8,1034.5 1601.6,1034.9 1603.3,1035.4 1605.1,1035.8 1606.9,1036.3 1608.7,1036.7 1610.6,1037.1 1612.4,1037.6 1614.3,1038 1616.2,1038.4 1618.1,1038.8 1620,1039.2 1621.9,1039.6 1623.9,1040 1625.9,1040.4 1627.9,1040.8 1630,1041.2 1632.1,1041.6 1634.2,1042 1636.3,1042.4 1638.5,1042.8 1640.7,1043.2 1642.9,1043.6 1645.2,1044 1647.5,1044.4 1649.9,1044.8 1652.3,1045.2 1654.7,1045.6 1657.1,1046 1659.7,1046.4 1662.2,1046.8 1664.8,1047.3 1667.4,1047.7 1670.1,1048.1 1672.8,1048.5 1675.5,1049 1678.3,1049.4 1681.1,1049.8 1684,1050.3 1686.8,1050.7 1689.8,1051.2 1692.7,1051.6 1695.7,1052.1 1698.7,1052.6 1701.7,1053 1704.7,1053.5 1707.8,1054 1710.9,1054.5 1714,1054.9 1717.2,1055.4 1720.4,1055.9 1723.5,1056.4 1726.8,1056.9 1730,1057.4 1733.2,1057.9 1736.5,1058.4 1739.7,1058.9 1743,1059.5 1746.3,1060 1749.6,1060.5 1753,1061 1756.3,1061.6 1759.6,1062.1 1763,1062.6 1766.3,1063.2 1769.7,1063.7 1773,1064.3 1776.4,1064.8 1779.8,1065.4 1783.1,1066 1786.5,1066.5 1789.9,1067.1 1793.2,1067.7 1796.6,1068.3 1800,1068.9 1803.4,1069.4 1806.7,1070 1810.1,1070.6 1813.5,1071.2 1816.8,1071.8 1820.2,1072.4 1823.6,1073 1826.9,1073.5 1830.3,1074.1 1833.7,1074.7 1837,1075.3 1840.4,1075.8 1843.8,1076.4 1847.1,1077 1850.5,1077.5 1853.9,1078.1 1857.2,1078.7 1860.6,1079.2 1864,1079.7 1867.3,1080.3 1870.7,1080.8 1874.1,1081.3 1877.4,1081.8 1880.8,1082.3 1884.2,1082.8 1887.5,1083.3 1890.9,1083.7 1894.3,1084.2 1897.6,1084.6 1901,1085.1 1904.4,1085.5 1907.8,1085.9 1911.1,1086.3 1914.5,1086.7 1917.9,1087.1 1921.2,1087.4 1924.6,1087.8 1928,1088.1 1931.3,1088.4 1934.7,1088.7 1938.1,1089 1941.5,1089.3 1944.9,1089.6 1948.3,1089.8 1951.7,1090.1 1955.1,1090.3 1958.6,1090.5 1962,1090.7 1965.5,1090.9 1969,1091.1 1972.5,1091.3 1976,1091.4 1979.5,1091.6 1983,1091.8 1986.6,1091.9 1990.2,1092 1993.8,1092.2 1997.5,1092.3 2001.1,1092.4 2004.8,1092.5 2008.5,1092.6 2012.2,1092.7 2016,1092.8 2019.8,1092.9 2023.6,1092.9 2027.5,1093 2031.4,1093.1 2035.3,1093.1 2039.3,1093.2 2043.3,1093.3 2047.3,1093.3 2051.4,1093.4 2055.5,1093.4 2059.6,1093.4 2063.8,1093.5 2068,1093.5 2072.3,1093.6 2076.6,1093.6 2081,1093.6 2085.5,1093.7 2090,1093.7 2094.6,1093.7 2099.3,1093.8 2104,1093.8 2108.9,1093.8 2113.8,1093.9 2118.9,1093.9 2124,1094 2129.3,1094 2134.6,1094.1 2140.1,1094.1 2145.8,1094.2 2151.5,1094.3 2157.4,1094.3 2163.4,1094.4 2169.6,1094.5 2175.9,1094.6 2182.4,1094.7 2189.1,1094.8 2195.9,1094.9 2202.9,1095 2210.1,1095.2 2217.4,1095.3 2225,1095.5 2232.7,1095.6 2240.7,1095.8 2248.8,1096 2257.2,1096.2 2265.7,1096.4 2274.5,1096.6 2283.6,1096.8 2292.8,1097.1 2302.3,1097.3 2312,1097.6 2322,1097.9" fill="none" stroke="#ff0000" stroke-width="3.2" stroke-linejoin="round" stroke-linecap="round"/>
<polyline points="1379,880.4 1384,889.2 1388.9,897.6 1393.6,905.6 1398.2,913.2 1402.7,920.4 1407.1,927.3 1411.4,933.9 1415.6,940.1 1419.7,946 1423.6,951.6 1427.5,956.9 1431.3,961.8 1435,966.5 1438.6,971 1442,975.1 1445.5,979 1448.8,982.6 1452,986.1 1455.2,989.2 1458.3,992.2 1461.3,995 1464.2,997.5 1467.1,999.9 1469.9,1002.1 1472.7,1004.1 1475.4,1006 1478,1007.7 1480.6,1009.3 1483.1,1010.7 1485.6,1012.1 1488,1013.3 1490.4,1014.4 1492.7,1015.5 1495,1016.4 1497.3,1017.3 1499.5,1018.1 1501.7,1018.9 1503.8,1019.6 1506,1020.3 1508.1,1021 1510.2,1021.7 1512.3,1022.3 1514.3,1023 1516.4,1023.6 1518.4,1024.2 1520.4,1024.8 1522.3,1025.4 1524.3,1026 1526.3,1026.6 1528.2,1027.2 1530.1,1027.7 1532,1028.3 1533.9,1028.9 1535.7,1029.4 1537.6,1029.9 1539.4,1030.5 1541.3,1031 1543.1,1031.5 1544.9,1032.1 1546.7,1032.6 1548.5,1033.1 1550.2,1033.6 1552,1034.1 1553.8,1034.6 1555.5,1035.1 1557.3,1035.6 1559,1036.1 1560.7,1036.6 1562.4,1037.1 1564.1,1037.6 1565.9,1038.1 1567.6,1038.6 1569.3,1039 1570.9,1039.5 1572.6,1040 1574.3,1040.5 1576,1041 1577.7,1041.5 1579.4,1042 1581.1,1042.5 1582.8,1043.1 1584.4,1043.6 1586.1,1044.1 1587.8,1044.6 1589.5,1045.1 1591.2,1045.7 1592.9,1046.2 1594.6,1046.7 1596.4,1047.2 1598.1,1047.8 1599.8,1048.3 1601.6,1048.8 1603.3,1049.4 1605.1,1049.9 1606.9,1050.4 1608.7,1050.9 1610.6,1051.5 1612.4,1052 1614.3,1052.5 1616.2,1053 1618.1,1053.5 1620,1054 1621.9,1054.5 1623.9,1055 1625.9,1055.5 1627.9,1056 1630,1056.5 1632.1,1057 1634.2,1057.5 1636.3,1057.9 1638.5,1058.4 1640.7,1058.8 1642.9,1059.3 1645.2,1059.7 1647.5,1060.1 1649.9,1060.6 1652.3,1061 1654.7,1061.4 1657.1,1061.8 1659.7,1062.2 1662.2,1062.5 1664.8,1062.9 1667.4,1063.2 1670.1,1063.6 1672.8,1063.9 1675.5,1064.3 1678.3,1064.6 1681.1,1064.9 1684,1065.2 1686.8,1065.5 1689.8,1065.8 1692.7,1066.1 1695.7,1066.3 1698.7,1066.6 1701.7,1066.9 1704.7,1067.1 1707.8,1067.4 1710.9,1067.7 1714,1067.9 1717.2,1068.1 1720.4,1068.4 1723.5,1068.6 1726.8,1068.9 1730,1069.1 1733.2,1069.3 1736.5,1069.6 1739.7,1069.8 1743,1070 1746.3,1070.2 1749.6,1070.5 1753,1070.7 1756.3,1070.9 1759.6,1071.1 1763,1071.4 1766.3,1071.6 1769.7,1071.8 1773,1072.1 1776.4,1072.3 1779.8,1072.5 1783.1,1072.8 1786.5,1073 1789.9,1073.3 1793.2,1073.5 1796.6,1073.8 1800,1074 1803.4,1074.3 1806.7,1074.5 1810.1,1074.8 1813.5,1075.1 1816.8,1075.3 1820.2,1075.6 1823.6,1075.9 1826.9,1076.2 1830.3,1076.4 1833.7,1076.7 1837,1077 1840.4,1077.3 1843.8,1077.6 1847.1,1077.9 1850.5,1078.1 1853.9,1078.4 1857.2,1078.7 1860.6,1079 1864,1079.3 1867.3,1079.6 1870.7,1079.9 1874.1,1080.1 1877.4,1080.4 1880.8,1080.7 1884.2,1081 1887.5,1081.3 1890.9,1081.6 1894.3,1081.9 1897.6,1082.2 1901,1082.4 1904.4,1082.7 1907.8,1083 1911.1,1083.3 1914.5,1083.6 1917.9,1083.8 1921.2,1084.1 1924.6,1084.4 1928,1084.7 1931.3,1084.9 1934.7,1085.2 1938.1,1085.5 1941.5,1085.7 1944.9,1086 1948.3,1086.3 1951.7,1086.5 1955.1,1086.8 1958.6,1087 1962,1087.3 1965.5,1087.5 1969,1087.8 1972.5,1088 1976,1088.2 1979.5,1088.5 1983,1088.7 1986.6,1088.9 1990.2,1089.2 1993.8,1089.4 1997.5,1089.6 2001.1,1089.8 2004.8,1090.1 2008.5,1090.3 2012.2,1090.5 2016,1090.7 2019.8,1090.9 2023.6,1091.1 2027.5,1091.3 2031.4,1091.5 2035.3,1091.7 2039.3,1091.8 2043.3,1092 2047.3,1092.2 2051.4,1092.4 2055.5,1092.5 2059.6,1092.7 2063.8,1092.9 2068,1093 2072.3,1093.2 2076.6,1093.3 2081,1093.5 2085.5,1093.6 2090,1093.8 2094.6,1093.9 2099.3,1094 2104,1094.2 2108.9,1094.3 2113.8,1094.4 2118.9,1094.6 2124,1094.7 2129.3,1094.8 2134.6,1095 2140.1,1095.1 2145.8,1095.2 2151.5,1095.4 2157.4,1095.5 2163.4,1095.7 2169.6,1095.8 2175.9,1096 2182.4,1096.1 2189.1,1096.3 2195.9,1096.5 2202.9,1096.6 2210.1,1096.8 2217.4,1097 2225,1097.2 2232.7,1097.4 2240.7,1097.6 2248.8,1097.8 2257.2,1098 2265.7,1098.3 2274.5,1098.5 2283.6,1098.7 2292.8,1099 2302.3,1099.3 2312,1099.5 2322,1099.8" fill="none" stroke="#00d800" stroke-width="3.2" stroke-linejoin="round" stroke-linecap="round"/>
<polyline points="1379,880.4 1384,887.3 1388.9,893.9 1393.6,900.2 1398.2,906.3 1402.7,912 1407.1,917.6 1411.4,922.9 1415.6,927.9 1419.7,932.7 1423.6,937.3 1427.5,941.6 1431.3,945.8 1435,949.7 1438.6,953.4 1442,957 1445.5,960.3 1448.8,963.5 1452,966.5 1455.2,969.4 1458.3,972 1461.3,974.5 1464.2,976.9 1467.1,979.2 1469.9,981.3 1472.7,983.2 1475.4,985.1 1478,986.9 1480.6,988.5 1483.1,990 1485.6,991.5 1488,992.9 1490.4,994.2 1492.7,995.4 1495,996.5 1497.3,997.6 1499.5,998.7 1501.7,999.7 1503.8,1000.7 1506,1001.6 1508.1,1002.5 1510.2,1003.4 1512.3,1004.3 1514.3,1005.2 1516.4,1006 1518.4,1006.9 1520.4,1007.7 1522.3,1008.5 1524.3,1009.3 1526.3,1010.1 1528.2,1010.9 1530.1,1011.6 1532,1012.3 1533.9,1013.1 1535.7,1013.8 1537.6,1014.5 1539.4,1015.2 1541.3,1015.8 1543.1,1016.5 1544.9,1017.1 1546.7,1017.8 1548.5,1018.4 1550.2,1019 1552,1019.6 1553.8,1020.2 1555.5,1020.8 1557.3,1021.3 1559,1021.9 1560.7,1022.5 1562.4,1023 1564.1,1023.5 1565.9,1024 1567.6,1024.5 1569.3,1025 1570.9,1025.5 1572.6,1026 1574.3,1026.5 1576,1026.9 1577.7,1027.4 1579.4,1027.8 1581.1,1028.3 1582.8,1028.7 1584.4,1029.1 1586.1,1029.5 1587.8,1030 1589.5,1030.4 1591.2,1030.8 1592.9,1031.1 1594.6,1031.5 1596.4,1031.9 1598.1,1032.3 1599.8,1032.6 1601.6,1033 1603.3,1033.3 1605.1,1033.7 1606.9,1034 1608.7,1034.4 1610.6,1034.7 1612.4,1035 1614.3,1035.4 1616.2,1035.7 1618.1,1036 1620,1036.3 1621.9,1036.6 1623.9,1037 1625.9,1037.3 1627.9,1037.6 1630,1037.9 1632.1,1038.2 1634.2,1038.5 1636.3,1038.8 1638.5,1039 1640.7,1039.3 1642.9,1039.6 1645.2,1039.9 1647.5,1040.2 1649.9,1040.5 1652.3,1040.8 1654.7,1041.1 1657.1,1041.4 1659.7,1041.6 1662.2,1041.9 1664.8,1042.2 1667.4,1042.5 1670.1,1042.8 1672.8,1043.1 1675.5,1043.4 1678.3,1043.7 1681.1,1043.9 1684,1044.2 1686.8,1044.5 1689.8,1044.8 1692.7,1045.1 1695.7,1045.4 1698.7,1045.7 1701.7,1046 1704.7,1046.3 1707.8,1046.7 1710.9,1047 1714,1047.3 1717.2,1047.6 1720.4,1047.9 1723.5,1048.2 1726.8,1048.6 1730,1048.9 1733.2,1049.2 1736.5,1049.6 1739.7,1049.9 1743,1050.2 1746.3,1050.6 1749.6,1050.9 1753,1051.3 1756.3,1051.6 1759.6,1052 1763,1052.4 1766.3,1052.7 1769.7,1053.1 1773,1053.5 1776.4,1053.9 1779.8,1054.3 1783.1,1054.7 1786.5,1055.1 1789.9,1055.5 1793.2,1055.9 1796.6,1056.3 1800,1056.7 1803.4,1057.2 1806.7,1057.6 1810.1,1058 1813.5,1058.5 1816.8,1058.9 1820.2,1059.4 1823.6,1059.8 1826.9,1060.3 1830.3,1060.7 1833.7,1061.2 1837,1061.6 1840.4,1062.1 1843.8,1062.5 1847.1,1063 1850.5,1063.4 1853.9,1063.9 1857.2,1064.4 1860.6,1064.8 1864,1065.3 1867.3,1065.7 1870.7,1066.2 1874.1,1066.7 1877.4,1067.1 1880.8,1067.6 1884.2,1068 1887.5,1068.5 1890.9,1068.9 1894.3,1069.4 1897.6,1069.8 1901,1070.2 1904.4,1070.7 1907.8,1071.1 1911.1,1071.5 1914.5,1072 1917.9,1072.4 1921.2,1072.8 1924.6,1073.2 1928,1073.6 1931.3,1074 1934.7,1074.4 1938.1,1074.8 1941.5,1075.2 1944.9,1075.6 1948.3,1076 1951.7,1076.3 1955.1,1076.7 1958.6,1077.1 1962,1077.5 1965.5,1077.8 1969,1078.2 1972.5,1078.6 1976,1078.9 1979.5,1079.3 1983,1079.6 1986.6,1080 1990.2,1080.3 1993.8,1080.7 1997.5,1081 2001.1,1081.4 2004.8,1081.7 2008.5,1082.1 2012.2,1082.4 2016,1082.7 2019.8,1083.1 2023.6,1083.4 2027.5,1083.8 2031.4,1084.1 2035.3,1084.4 2039.3,1084.8 2043.3,1085.1 2047.3,1085.4 2051.4,1085.8 2055.5,1086.1 2059.6,1086.4 2063.8,1086.8 2068,1087.1 2072.3,1087.5 2076.6,1087.8 2081,1088.1 2085.5,1088.5 2090,1088.8 2094.6,1089.2 2099.3,1089.5 2104,1089.9 2108.9,1090.2 2113.8,1090.6 2118.9,1090.9 2124,1091.3 2129.3,1091.6 2134.6,1092 2140.1,1092.3 2145.8,1092.7 2151.5,1093 2157.4,1093.4 2163.4,1093.8 2169.6,1094.1 2175.9,1094.5 2182.4,1094.9 2189.1,1095.3 2195.9,1095.7 2202.9,1096 2210.1,1096.4 2217.4,1096.8 2225,1097.2 2232.7,1097.6 2240.7,1098 2248.8,1098.4 2257.2,1098.8 2265.7,1099.2 2274.5,1099.6 2283.6,1100.1 2292.8,1100.5 2302.3,1100.9 2312,1101.3 2322,1101.8" fill="none" stroke="#000000" stroke-width="3.2" stroke-linejoin="round" stroke-linecap="round"/>
<rect x="1370.5" y="871.9" width="17" height="17" fill="#ff0000"/>
<rect x="1437.9" y="980.3" width="17" height="17" fill="#ff0000"/>
<rect x="1505.2" y="991.5" width="17" height="17" fill="#ff0000"/>
<rect x="1572.6" y="1023.4" width="17" height="17" fill="#ff0000"/>
<rect x="1639.9" y="1037" width="17" height="17" fill="#ff0000"/>
<rect x="1774.6" y="1056.4" width="17" height="17" fill="#ff0000"/>
<rect x="1909.4" y="1082.4" width="17" height="17" fill="#ff0000"/>
<rect x="2044.1" y="1085.5" width="17" height="17" fill="#ff0000"/>
<rect x="2178.8" y="1085.5" width="17" height="17" fill="#ff0000"/>
<rect x="2313.5" y="1089.4" width="17" height="17" fill="#ff0000"/>
<circle cx="1379" cy="880.4" r="8.5" fill="#00d800"/>
<circle cx="1446.4" cy="1000" r="8.5" fill="#00d800"/>
<circle cx="1513.7" cy="1024.1" r="8.5" fill="#00d800"/>
<circle cx="1581.1" cy="1041.6" r="8.5" fill="#00d800"/>
<circle cx="1648.4" cy="1064.9" r="8.5" fill="#00d800"/>
<circle cx="1783.1" cy="1071.9" r="8.5" fill="#00d800"/>
<circle cx="1917.9" cy="1084.3" r="8.5" fill="#00d800"/>
<circle cx="2052.6" cy="1094" r="8.5" fill="#00d800"/>
<circle cx="2187.3" cy="1095.9" r="8.5" fill="#00d800"/>
<circle cx="2322" cy="1099.8" r="8.5" fill="#00d800"/>
<path d="M1379 869.9 L1369.2 886.9 L1388.8 886.9 Z" fill="#000000"/>
<path d="M1446.4 963.5 L1436.6 980.4 L1456.1 980.4 Z" fill="#000000"/>
<path d="M1513.7 996.3 L1503.9 1013.3 L1523.5 1013.3 Z" fill="#000000"/>
<path d="M1581.1 1019.8 L1571.3 1036.7 L1590.8 1036.7 Z" fill="#000000"/>
<path d="M1648.4 1031.1 L1638.7 1048 L1658.2 1048 Z" fill="#000000"/>
<path d="M1783.1 1042.7 L1773.4 1059.7 L1792.9 1059.7 Z" fill="#000000"/>
<path d="M1917.9 1063.1 L1908.1 1080 L1927.6 1080 Z" fill="#000000"/>
<path d="M2052.6 1076.1 L2042.8 1093.1 L2062.3 1093.1 Z" fill="#000000"/>
<path d="M2187.3 1085.4 L2177.5 1102.4 L2197.1 1102.4 Z" fill="#000000"/>
<path d="M2322 1091.3 L2312.2 1108.2 L2331.8 1108.2 Z" fill="#000000"/>
<rect x="1370.5" y="1551.5" width="17" height="17" fill="#0a14ff"/>
<rect x="1437.9" y="1266.7" width="17" height="17" fill="#0a14ff"/>
<rect x="1505.2" y="1207.2" width="17" height="17" fill="#0a14ff"/>
<rect x="1572.6" y="1147.8" width="17" height="17" fill="#0a14ff"/>
<rect x="1639.9" y="1107.6" width="17" height="17" fill="#0a14ff"/>
<rect x="1774.6" y="1077.9" width="17" height="17" fill="#0a14ff"/>
<rect x="1909.4" y="1027.2" width="17" height="17" fill="#0a14ff"/>
<rect x="2044.1" y="1006.3" width="17" height="17" fill="#0a14ff"/>
<rect x="2178.8" y="997.5" width="17" height="17" fill="#0a14ff"/>
<rect x="2313.5" y="988.8" width="17" height="17" fill="#0a14ff"/>
</g>
<path d="M2322 861 L1379 861 L1379 1560 L2322 1560" fill="none" stroke="#000" stroke-width="7" stroke-linecap="square" stroke-linejoin="miter"/>
<path d="M2322 861 L2322 1560" fill="none" stroke="#0a14ff" stroke-width="7" stroke-linecap="square"/>
<path d="M1446.4 1560 V1550.5 M1513.7 1560 V1544.5 M1581.1 1560 V1550.5 M1648.4 1560 V1544.5 M1715.8 1560 V1550.5 M1783.1 1560 V1544.5 M1850.5 1560 V1550.5 M1917.9 1560 V1544.5 M1985.2 1560 V1550.5 M2052.6 1560 V1544.5 M2119.9 1560 V1550.5 M2187.3 1560 V1544.5 M2254.6 1560 V1550.5" stroke="#000" stroke-width="7" fill="none"/>
<text transform="translate(1379 1609) scale(1.0800 1)" x="0" y="0" font-family="'Liberation Sans', Arial, sans-serif" font-size="45" font-weight="bold" text-anchor="middle" fill="#000000">0</text>
<text transform="translate(1513.7 1609) scale(1.0800 1)" x="0" y="0" font-family="'Liberation Sans', Arial, sans-serif" font-size="45" font-weight="bold" text-anchor="middle" fill="#000000">30</text>
<text transform="translate(1648.4 1609) scale(1.0800 1)" x="0" y="0" font-family="'Liberation Sans', Arial, sans-serif" font-size="45" font-weight="bold" text-anchor="middle" fill="#000000">60</text>
<text transform="translate(1783.1 1609) scale(1.0800 1)" x="0" y="0" font-family="'Liberation Sans', Arial, sans-serif" font-size="45" font-weight="bold" text-anchor="middle" fill="#000000">90</text>
<text transform="translate(1917.9 1609) scale(1.0800 1)" x="0" y="0" font-family="'Liberation Sans', Arial, sans-serif" font-size="45" font-weight="bold" text-anchor="middle" fill="#000000">120</text>
<text transform="translate(2052.6 1609) scale(1.0800 1)" x="0" y="0" font-family="'Liberation Sans', Arial, sans-serif" font-size="45" font-weight="bold" text-anchor="middle" fill="#000000">150</text>
<text transform="translate(2187.3 1609) scale(1.0800 1)" x="0" y="0" font-family="'Liberation Sans', Arial, sans-serif" font-size="45" font-weight="bold" text-anchor="middle" fill="#000000">180</text>
<text transform="translate(2322 1609) scale(1.0800 1)" x="0" y="0" font-family="'Liberation Sans', Arial, sans-serif" font-size="45" font-weight="bold" text-anchor="middle" fill="#000000">210</text>
<path d="M1379 1511.5 H1388.5 M1379 1462.9 H1394.5 M1379 1414.4 H1388.5 M1379 1365.8 H1394.5 M1379 1317.3 H1388.5 M1379 1268.8 H1394.5 M1379 1220.2 H1388.5 M1379 1171.7 H1394.5 M1379 1123.1 H1388.5 M1379 1074.6 H1394.5 M1379 1026 H1388.5 M1379 977.5 H1394.5 M1379 929 H1388.5 M1379 880.4 H1394.5" stroke="#000" stroke-width="7" fill="none"/>
<text transform="translate(1361 1574.3) scale(1.1000 1)" x="0" y="0" font-family="'Liberation Serif', 'Times New Roman', serif" font-size="46" font-weight="bold" text-anchor="end" fill="#000000">0</text>
<text transform="translate(1361 1477.2) scale(1.1000 1)" x="0" y="0" font-family="'Liberation Serif', 'Times New Roman', serif" font-size="46" font-weight="bold" text-anchor="end" fill="#000000">50</text>
<text transform="translate(1361 1380.1) scale(1.1000 1)" x="0" y="0" font-family="'Liberation Serif', 'Times New Roman', serif" font-size="46" font-weight="bold" text-anchor="end" fill="#000000">100</text>
<text transform="translate(1361 1283) scale(1.1000 1)" x="0" y="0" font-family="'Liberation Serif', 'Times New Roman', serif" font-size="46" font-weight="bold" text-anchor="end" fill="#000000">150</text>
<text transform="translate(1361 1185.9) scale(1.1000 1)" x="0" y="0" font-family="'Liberation Serif', 'Times New Roman', serif" font-size="46" font-weight="bold" text-anchor="end" fill="#000000">200</text>
<text transform="translate(1361 1088.8) scale(1.1000 1)" x="0" y="0" font-family="'Liberation Serif', 'Times New Roman', serif" font-size="46" font-weight="bold" text-anchor="end" fill="#000000">250</text>
<text transform="translate(1361 991.8) scale(1.1000 1)" x="0" y="0" font-family="'Liberation Serif', 'Times New Roman', serif" font-size="46" font-weight="bold" text-anchor="end" fill="#000000">300</text>
<text transform="translate(1361 894.7) scale(1.1000 1)" x="0" y="0" font-family="'Liberation Serif', 'Times New Roman', serif" font-size="46" font-weight="bold" text-anchor="end" fill="#000000">350</text>
<path d="M2322 1516.3 H2312.5 M2322 1472.6 H2306.5 M2322 1428.9 H2312.5 M2322 1385.2 H2306.5 M2322 1341.6 H2312.5 M2322 1297.9 H2306.5 M2322 1254.2 H2312.5 M2322 1210.5 H2306.5 M2322 1166.8 H2312.5 M2322 1123.1 H2306.5 M2322 1079.4 H2312.5 M2322 1035.8 H2306.5 M2322 992.1 H2312.5 M2322 948.4 H2306.5 M2322 904.7 H2312.5" stroke="#0a14ff" stroke-width="7" fill="none"/>
<text transform="translate(2338 1573.6) scale(1.1000 1)" x="0" y="0" font-family="'Liberation Serif', 'Times New Roman', serif" font-size="44" font-weight="bold" text-anchor="start" fill="#000000">0</text>
<text transform="translate(2338 1486.3) scale(1.1000 1)" x="0" y="0" font-family="'Liberation Serif', 'Times New Roman', serif" font-size="44" font-weight="bold" text-anchor="start" fill="#000000">5</text>
<text transform="translate(2338 1398.9) scale(1.1000 1)" x="0" y="0" font-family="'Liberation Serif', 'Times New Roman', serif" font-size="44" font-weight="bold" text-anchor="start" fill="#000000">10</text>
<text transform="translate(2338 1311.5) scale(1.1000 1)" x="0" y="0" font-family="'Liberation Serif', 'Times New Roman', serif" font-size="44" font-weight="bold" text-anchor="start" fill="#000000">15</text>
<text transform="translate(2338 1224.1) scale(1.1000 1)" x="0" y="0" font-family="'Liberation Serif', 'Times New Roman', serif" font-size="44" font-weight="bold" text-anchor="start" fill="#000000">20</text>
<text transform="translate(2338 1136.8) scale(1.1000 1)" x="0" y="0" font-family="'Liberation Serif', 'Times New Roman', serif" font-size="44" font-weight="bold" text-anchor="start" fill="#000000">25</text>
<text transform="translate(2338 1049.4) scale(1.1000 1)" x="0" y="0" font-family="'Liberation Serif', 'Times New Roman', serif" font-size="44" font-weight="bold" text-anchor="start" fill="#000000">30</text>
<text transform="translate(2338 962) scale(1.1000 1)" x="0" y="0" font-family="'Liberation Serif', 'Times New Roman', serif" font-size="44" font-weight="bold" text-anchor="start" fill="#000000">35</text>
<text transform="translate(2338 874.6) scale(1.1000 1)" x="0" y="0" font-family="'Liberation Serif', 'Times New Roman', serif" font-size="44" font-weight="bold" text-anchor="start" fill="#000000">40</text>
<text transform="translate(1267.7 1211.3) rotate(-90) scale(0.9361 1)" x="0" y="0" font-family="'Liberation Serif', 'Times New Roman', serif" font-size="49" font-weight="bold" text-anchor="middle" fill="#000000">COD (mg L<tspan font-size="30.4" dy="-24.5">-1</tspan><tspan dy="24.5">)</tspan></text>
<text transform="translate(2443 1210.9) rotate(-90) scale(0.9955 1)" x="0" y="0" font-family="'Liberation Serif', 'Times New Roman', serif" font-size="50" font-weight="normal" text-anchor="middle" fill="#0a14ff">COD removal %</text>
<text transform="translate(1849.5 1684.5) scale(1.1331 1)" x="0" y="0" font-family="'Liberation Serif', 'Times New Roman', serif" font-size="44.5" font-weight="bold" text-anchor="middle" fill="#000000">Time (min)</text>
<polyline points="1512,1351 1603,1351" fill="none" stroke="#ff0000" stroke-width="4.5" stroke-linejoin="round" stroke-linecap="butt"/>
<rect x="1549.5" y="1343" width="16" height="16" fill="#ff0000"/>
<text transform="translate(1614 1363.5) scale(1.1072 1)" x="0" y="0" font-family="'Liberation Sans', Arial, sans-serif" font-size="34.6" font-weight="bold" text-anchor="start" fill="#111">Reactor 1</text>
<polyline points="1512,1396.5 1603,1396.5" fill="none" stroke="#00d800" stroke-width="4.5" stroke-linejoin="round" stroke-linecap="butt"/>
<circle cx="1557.5" cy="1396.5" r="8.5" fill="#00d800"/>
<text transform="translate(1614 1409) scale(1.1072 1)" x="0" y="0" font-family="'Liberation Sans', Arial, sans-serif" font-size="34.6" font-weight="bold" text-anchor="start" fill="#111">Reactor 2</text>
<polyline points="1512,1442 1603,1442" fill="none" stroke="#000000" stroke-width="4.5" stroke-linejoin="round" stroke-linecap="butt"/>
<path d="M1557.5 1431.3 L1547.5 1448.6 L1567.5 1448.6 Z" fill="#000000"/>
<text transform="translate(1614 1454.5) scale(1.1072 1)" x="0" y="0" font-family="'Liberation Sans', Arial, sans-serif" font-size="34.6" font-weight="bold" text-anchor="start" fill="#111">Reactor 3</text>
<text x="1416.5" y="1494" font-family="'Liberation Serif', 'Times New Roman', serif" font-size="65" font-weight="bold" text-anchor="start" fill="#000000">d</text>
<clipPath id="cpf"><rect x="1379" y="1712" width="943" height="652.6"/></clipPath><g clip-path="url(#cpf)">
<polyline points="1379,2364.6 1384,2346.6 1388.9,2329.2 1393.6,2312.6 1398.2,2296.7 1402.7,2281.4 1407.1,2266.8 1411.4,2252.8 1415.6,2239.4 1419.7,2226.6 1423.6,2214.4 1427.5,2202.8 1431.3,2191.7 1435,2181.2 1438.6,2171.1 1442,2161.6 1445.5,2152.5 1448.8,2143.9 1452,2135.7 1455.2,2128 1458.3,2120.7 1461.3,2113.8 1464.2,2107.2 1467.1,2101 1469.9,2095.2 1472.7,2089.7 1475.4,2084.4 1478,2079.5 1480.6,2074.9 1483.1,2070.5 1485.6,2066.3 1488,2062.4 1490.4,2058.7 1492.7,2055.2 1495,2051.8 1497.3,2048.6 1499.5,2045.6 1501.7,2042.6 1503.8,2039.8 1506,2037.1 1508.1,2034.4 1510.2,2031.8 1512.3,2029.2 1514.3,2026.7 1516.4,2024.2 1518.4,2021.8 1520.4,2019.5 1522.3,2017.2 1524.3,2014.9 1526.3,2012.7 1528.2,2010.5 1530.1,2008.4 1532,2006.3 1533.9,2004.2 1535.7,2002.2 1537.6,2000.3 1539.4,1998.4 1541.3,1996.5 1543.1,1994.7 1544.9,1992.9 1546.7,1991.1 1548.5,1989.4 1550.2,1987.7 1552,1986 1553.8,1984.4 1555.5,1982.8 1557.3,1981.2 1559,1979.7 1560.7,1978.2 1562.4,1976.7 1564.1,1975.3 1565.9,1973.9 1567.6,1972.5 1569.3,1971.1 1570.9,1969.8 1572.6,1968.4 1574.3,1967.1 1576,1965.9 1577.7,1964.6 1579.4,1963.4 1581.1,1962.2 1582.8,1961 1584.4,1959.8 1586.1,1958.6 1587.8,1957.5 1589.5,1956.3 1591.2,1955.2 1592.9,1954.1 1594.6,1953 1596.4,1951.9 1598.1,1950.9 1599.8,1949.8 1601.6,1948.8 1603.3,1947.7 1605.1,1946.7 1606.9,1945.7 1608.7,1944.7 1610.6,1943.7 1612.4,1942.7 1614.3,1941.7 1616.2,1940.7 1618.1,1939.7 1620,1938.8 1621.9,1937.8 1623.9,1936.8 1625.9,1935.8 1627.9,1934.9 1630,1933.9 1632.1,1932.9 1634.2,1932 1636.3,1931 1638.5,1930 1640.7,1929 1642.9,1928.1 1645.2,1927.1 1647.5,1926.1 1649.9,1925.1 1652.3,1924.1 1654.7,1923.1 1657.1,1922.1 1659.7,1921 1662.2,1920 1664.8,1919 1667.4,1917.9 1670.1,1916.9 1672.8,1915.8 1675.5,1914.7 1678.3,1913.6 1681.1,1912.5 1684,1911.4 1686.8,1910.3 1689.8,1909.1 1692.7,1908 1695.7,1906.8 1698.7,1905.6 1701.7,1904.5 1704.7,1903.3 1707.8,1902 1710.9,1900.8 1714,1899.6 1717.2,1898.3 1720.4,1897 1723.5,1895.8 1726.8,1894.5 1730,1893.1 1733.2,1891.8 1736.5,1890.5 1739.7,1889.1 1743,1887.7 1746.3,1886.3 1749.6,1884.9 1753,1883.5 1756.3,1882 1759.6,1880.5 1763,1879 1766.3,1877.5 1769.7,1876 1773,1874.5 1776.4,1872.9 1779.8,1871.3 1783.1,1869.7 1786.5,1868.1 1789.9,1866.4 1793.2,1864.8 1796.6,1863.1 1800,1861.4 1803.4,1859.7 1806.7,1858 1810.1,1856.3 1813.5,1854.5 1816.8,1852.8 1820.2,1851 1823.6,1849.3 1826.9,1847.5 1830.3,1845.8 1833.7,1844 1837,1842.3 1840.4,1840.5 1843.8,1838.8 1847.1,1837 1850.5,1835.3 1853.9,1833.6 1857.2,1831.8 1860.6,1830.1 1864,1828.5 1867.3,1826.8 1870.7,1825.1 1874.1,1823.5 1877.4,1821.9 1880.8,1820.3 1884.2,1818.7 1887.5,1817.1 1890.9,1815.6 1894.3,1814.1 1897.6,1812.6 1901,1811.2 1904.4,1809.8 1907.8,1808.4 1911.1,1807 1914.5,1805.7 1917.9,1804.5 1921.2,1803.2 1924.6,1802 1928,1800.9 1931.3,1799.7 1934.7,1798.6 1938.1,1797.6 1941.5,1796.6 1944.9,1795.6 1948.3,1794.6 1951.7,1793.7 1955.1,1792.8 1958.6,1791.9 1962,1791.1 1965.5,1790.3 1969,1789.5 1972.5,1788.7 1976,1788 1979.5,1787.3 1983,1786.6 1986.6,1785.9 1990.2,1785.3 1993.8,1784.7 1997.5,1784.1 2001.1,1783.5 2004.8,1782.9 2008.5,1782.4 2012.2,1781.9 2016,1781.4 2019.8,1780.9 2023.6,1780.4 2027.5,1779.9 2031.4,1779.5 2035.3,1779 2039.3,1778.6 2043.3,1778.2 2047.3,1777.8 2051.4,1777.4 2055.5,1777 2059.6,1776.7 2063.8,1776.3 2068,1775.9 2072.3,1775.6 2076.6,1775.2 2081,1774.9 2085.5,1774.5 2090,1774.2 2094.6,1773.8 2099.3,1773.5 2104,1773.2 2108.9,1772.8 2113.8,1772.5 2118.9,1772.2 2124,1771.9 2129.3,1771.5 2134.6,1771.2 2140.1,1770.9 2145.8,1770.5 2151.5,1770.2 2157.4,1769.9 2163.4,1769.6 2169.6,1769.2 2175.9,1768.9 2182.4,1768.5 2189.1,1768.2 2195.9,1767.8 2202.9,1767.5 2210.1,1767.1 2217.4,1766.7 2225,1766.3 2232.7,1766 2240.7,1765.6 2248.8,1765.2 2257.2,1764.8 2265.7,1764.3 2274.5,1763.9 2283.6,1763.5 2292.8,1763 2302.3,1762.6 2312,1762.1 2322,1761.6" fill="none" stroke="#0a14ff" stroke-width="3.2" stroke-linejoin="round" stroke-linecap="round"/>
<polyline points="1379,1730.1 1384,1738.6 1388.9,1746.7 1393.6,1754.5 1398.2,1762 1402.7,1769.1 1407.1,1776 1411.4,1782.6 1415.6,1788.8 1419.7,1794.8 1423.6,1800.5 1427.5,1806 1431.3,1811.2 1435,1816.1 1438.6,1820.8 1442,1825.3 1445.5,1829.6 1448.8,1833.6 1452,1837.5 1455.2,1841.1 1458.3,1844.5 1461.3,1847.8 1464.2,1850.9 1467.1,1853.8 1469.9,1856.6 1472.7,1859.2 1475.4,1861.7 1478,1864 1480.6,1866.3 1483.1,1868.4 1485.6,1870.4 1488,1872.3 1490.4,1874.1 1492.7,1875.8 1495,1877.5 1497.3,1879 1499.5,1880.6 1501.7,1882 1503.8,1883.5 1506,1884.9 1508.1,1886.2 1510.2,1887.6 1512.3,1888.9 1514.3,1890.2 1516.4,1891.5 1518.4,1892.8 1520.4,1894.1 1522.3,1895.3 1524.3,1896.6 1526.3,1897.8 1528.2,1899 1530.1,1900.1 1532,1901.3 1533.9,1902.4 1535.7,1903.5 1537.6,1904.6 1539.4,1905.7 1541.3,1906.8 1543.1,1907.8 1544.9,1908.8 1546.7,1909.8 1548.5,1910.8 1550.2,1911.8 1552,1912.7 1553.8,1913.6 1555.5,1914.5 1557.3,1915.4 1559,1916.3 1560.7,1917.1 1562.4,1918 1564.1,1918.8 1565.9,1919.5 1567.6,1920.3 1569.3,1921 1570.9,1921.8 1572.6,1922.5 1574.3,1923.1 1576,1923.8 1577.7,1924.4 1579.4,1925 1581.1,1925.6 1582.8,1926.2 1584.4,1926.8 1586.1,1927.3 1587.8,1927.8 1589.5,1928.3 1591.2,1928.8 1592.9,1929.2 1594.6,1929.7 1596.4,1930.1 1598.1,1930.5 1599.8,1930.9 1601.6,1931.3 1603.3,1931.7 1605.1,1932.1 1606.9,1932.5 1608.7,1932.8 1610.6,1933.2 1612.4,1933.5 1614.3,1933.9 1616.2,1934.2 1618.1,1934.5 1620,1934.9 1621.9,1935.2 1623.9,1935.5 1625.9,1935.9 1627.9,1936.2 1630,1936.5 1632.1,1936.9 1634.2,1937.2 1636.3,1937.6 1638.5,1937.9 1640.7,1938.3 1642.9,1938.6 1645.2,1939 1647.5,1939.4 1649.9,1939.8 1652.3,1940.2 1654.7,1940.6 1657.1,1941.1 1659.7,1941.5 1662.2,1942 1664.8,1942.4 1667.4,1942.9 1670.1,1943.4 1672.8,1943.9 1675.5,1944.5 1678.3,1945 1681.1,1945.6 1684,1946.1 1686.8,1946.7 1689.8,1947.3 1692.7,1947.9 1695.7,1948.5 1698.7,1949.1 1701.7,1949.8 1704.7,1950.4 1707.8,1951.1 1710.9,1951.7 1714,1952.4 1717.2,1953.1 1720.4,1953.8 1723.5,1954.4 1726.8,1955.1 1730,1955.9 1733.2,1956.6 1736.5,1957.3 1739.7,1958 1743,1958.7 1746.3,1959.5 1749.6,1960.2 1753,1960.9 1756.3,1961.7 1759.6,1962.4 1763,1963.2 1766.3,1963.9 1769.7,1964.7 1773,1965.5 1776.4,1966.2 1779.8,1967 1783.1,1967.8 1786.5,1968.5 1789.9,1969.3 1793.2,1970 1796.6,1970.8 1800,1971.6 1803.4,1972.3 1806.7,1973.1 1810.1,1973.9 1813.5,1974.6 1816.8,1975.4 1820.2,1976.1 1823.6,1976.9 1826.9,1977.6 1830.3,1978.3 1833.7,1979.1 1837,1979.8 1840.4,1980.5 1843.8,1981.3 1847.1,1982 1850.5,1982.7 1853.9,1983.4 1857.2,1984.1 1860.6,1984.8 1864,1985.5 1867.3,1986.2 1870.7,1986.8 1874.1,1987.5 1877.4,1988.1 1880.8,1988.8 1884.2,1989.4 1887.5,1990.1 1890.9,1990.7 1894.3,1991.3 1897.6,1991.9 1901,1992.5 1904.4,1993 1907.8,1993.6 1911.1,1994.1 1914.5,1994.7 1917.9,1995.2 1921.2,1995.7 1924.6,1996.2 1928,1996.7 1931.3,1997.2 1934.7,1997.7 1938.1,1998.1 1941.5,1998.6 1944.9,1999 1948.3,1999.4 1951.7,1999.8 1955.1,2000.2 1958.6,2000.6 1962,2001 1965.5,2001.4 1969,2001.7 1972.5,2002.1 1976,2002.4 1979.5,2002.7 1983,2003 1986.6,2003.4 1990.2,2003.7 1993.8,2004 1997.5,2004.2 2001.1,2004.5 2004.8,2004.8 2008.5,2005 2012.2,2005.3 2016,2005.5 2019.8,2005.8 2023.6,2006 2027.5,2006.2 2031.4,2006.4 2035.3,2006.7 2039.3,2006.9 2043.3,2007.1 2047.3,2007.3 2051.4,2007.4 2055.5,2007.6 2059.6,2007.8 2063.8,2008 2068,2008.1 2072.3,2008.3 2076.6,2008.4 2081,2008.6 2085.5,2008.7 2090,2008.9 2094.6,2009 2099.3,2009.2 2104,2009.3 2108.9,2009.4 2113.8,2009.5 2118.9,2009.6 2124,2009.7 2129.3,2009.8 2134.6,2009.9 2140.1,2010 2145.8,2010.1 2151.5,2010.2 2157.4,2010.3 2163.4,2010.4 2169.6,2010.4 2175.9,2010.5 2182.4,2010.6 2189.1,2010.6 2195.9,2010.7 2202.9,2010.8 2210.1,2010.8 2217.4,2010.9 2225,2010.9 2232.7,2010.9 2240.7,2011 2248.8,2011 2257.2,2011 2265.7,2011 2274.5,2011.1 2283.6,2011.1 2292.8,2011.1 2302.3,2011.1 2312,2011.1 2322,2011.1" fill="none" stroke="#ff0000" stroke-width="3.2" stroke-linejoin="round" stroke-linecap="round"/>
<polyline points="1379,1730.1 1384,1739.1 1388.9,1747.7 1393.6,1756 1398.2,1763.9 1402.7,1771.5 1407.1,1778.8 1411.4,1785.7 1415.6,1792.3 1419.7,1798.7 1423.6,1804.7 1427.5,1810.5 1431.3,1816 1435,1821.3 1438.6,1826.2 1442,1831 1445.5,1835.5 1448.8,1839.7 1452,1843.7 1455.2,1847.6 1458.3,1851.2 1461.3,1854.6 1464.2,1857.8 1467.1,1860.8 1469.9,1863.7 1472.7,1866.4 1475.4,1869 1478,1871.4 1480.6,1873.6 1483.1,1875.7 1485.6,1877.7 1488,1879.6 1490.4,1881.4 1492.7,1883.1 1495,1884.7 1497.3,1886.2 1499.5,1887.6 1501.7,1889 1503.8,1890.3 1506,1891.6 1508.1,1892.8 1510.2,1894 1512.3,1895.1 1514.3,1896.3 1516.4,1897.4 1518.4,1898.4 1520.4,1899.5 1522.3,1900.5 1524.3,1901.5 1526.3,1902.4 1528.2,1903.4 1530.1,1904.3 1532,1905.2 1533.9,1906.1 1535.7,1906.9 1537.6,1907.7 1539.4,1908.6 1541.3,1909.3 1543.1,1910.1 1544.9,1910.9 1546.7,1911.6 1548.5,1912.3 1550.2,1913 1552,1913.7 1553.8,1914.4 1555.5,1915 1557.3,1915.7 1559,1916.3 1560.7,1917 1562.4,1917.6 1564.1,1918.2 1565.9,1918.8 1567.6,1919.4 1569.3,1920 1570.9,1920.5 1572.6,1921.1 1574.3,1921.7 1576,1922.3 1577.7,1922.8 1579.4,1923.4 1581.1,1923.9 1582.8,1924.5 1584.4,1925.1 1586.1,1925.6 1587.8,1926.2 1589.5,1926.7 1591.2,1927.3 1592.9,1927.8 1594.6,1928.4 1596.4,1928.9 1598.1,1929.5 1599.8,1930 1601.6,1930.6 1603.3,1931.1 1605.1,1931.7 1606.9,1932.2 1608.7,1932.8 1610.6,1933.3 1612.4,1933.8 1614.3,1934.4 1616.2,1934.9 1618.1,1935.4 1620,1936 1621.9,1936.5 1623.9,1937 1625.9,1937.5 1627.9,1938.1 1630,1938.6 1632.1,1939.1 1634.2,1939.6 1636.3,1940.1 1638.5,1940.6 1640.7,1941.1 1642.9,1941.6 1645.2,1942.1 1647.5,1942.6 1649.9,1943.1 1652.3,1943.5 1654.7,1944 1657.1,1944.5 1659.7,1945 1662.2,1945.4 1664.8,1945.9 1667.4,1946.4 1670.1,1946.8 1672.8,1947.3 1675.5,1947.7 1678.3,1948.2 1681.1,1948.7 1684,1949.1 1686.8,1949.6 1689.8,1950 1692.7,1950.5 1695.7,1951 1698.7,1951.4 1701.7,1951.9 1704.7,1952.4 1707.8,1952.9 1710.9,1953.4 1714,1953.9 1717.2,1954.4 1720.4,1954.9 1723.5,1955.4 1726.8,1956 1730,1956.5 1733.2,1957.1 1736.5,1957.7 1739.7,1958.3 1743,1958.9 1746.3,1959.5 1749.6,1960.1 1753,1960.7 1756.3,1961.4 1759.6,1962.1 1763,1962.7 1766.3,1963.5 1769.7,1964.2 1773,1964.9 1776.4,1965.7 1779.8,1966.5 1783.1,1967.3 1786.5,1968.1 1789.9,1968.9 1793.2,1969.8 1796.6,1970.7 1800,1971.6 1803.4,1972.5 1806.7,1973.4 1810.1,1974.4 1813.5,1975.3 1816.8,1976.3 1820.2,1977.2 1823.6,1978.2 1826.9,1979.2 1830.3,1980.2 1833.7,1981.2 1837,1982.2 1840.4,1983.2 1843.8,1984.2 1847.1,1985.2 1850.5,1986.2 1853.9,1987.2 1857.2,1988.2 1860.6,1989.2 1864,1990.2 1867.3,1991.1 1870.7,1992.1 1874.1,1993.1 1877.4,1994 1880.8,1994.9 1884.2,1995.9 1887.5,1996.8 1890.9,1997.7 1894.3,1998.5 1897.6,1999.4 1901,2000.2 1904.4,2001.1 1907.8,2001.9 1911.1,2002.6 1914.5,2003.4 1917.9,2004.1 1921.2,2004.8 1924.6,2005.5 1928,2006.1 1931.3,2006.7 1934.7,2007.3 1938.1,2007.9 1941.5,2008.5 1944.9,2009 1948.3,2009.5 1951.7,2010 1955.1,2010.5 1958.6,2010.9 1962,2011.3 1965.5,2011.7 1969,2012.1 1972.5,2012.5 1976,2012.9 1979.5,2013.2 1983,2013.5 1986.6,2013.8 1990.2,2014.1 1993.8,2014.4 1997.5,2014.7 2001.1,2014.9 2004.8,2015.2 2008.5,2015.4 2012.2,2015.6 2016,2015.8 2019.8,2016 2023.6,2016.2 2027.5,2016.4 2031.4,2016.6 2035.3,2016.7 2039.3,2016.9 2043.3,2017 2047.3,2017.2 2051.4,2017.3 2055.5,2017.5 2059.6,2017.6 2063.8,2017.7 2068,2017.8 2072.3,2018 2076.6,2018.1 2081,2018.2 2085.5,2018.3 2090,2018.4 2094.6,2018.6 2099.3,2018.7 2104,2018.8 2108.9,2019 2113.8,2019.1 2118.9,2019.3 2124,2019.4 2129.3,2019.6 2134.6,2019.8 2140.1,2020 2145.8,2020.2 2151.5,2020.4 2157.4,2020.7 2163.4,2020.9 2169.6,2021.2 2175.9,2021.5 2182.4,2021.8 2189.1,2022.1 2195.9,2022.5 2202.9,2022.9 2210.1,2023.3 2217.4,2023.7 2225,2024.1 2232.7,2024.6 2240.7,2025.1 2248.8,2025.6 2257.2,2026.2 2265.7,2026.8 2274.5,2027.4 2283.6,2028.1 2292.8,2028.8 2302.3,2029.5 2312,2030.3 2322,2031" fill="none" stroke="#00d800" stroke-width="3.2" stroke-linejoin="round" stroke-linecap="round"/>
<polyline points="1379,1730.1 1384,1738.1 1388.9,1745.8 1393.6,1753.1 1398.2,1760.2 1402.7,1767 1407.1,1773.5 1411.4,1779.8 1415.6,1785.8 1419.7,1791.5 1423.6,1797 1427.5,1802.2 1431.3,1807.3 1435,1812.1 1438.6,1816.6 1442,1821 1445.5,1825.2 1448.8,1829.1 1452,1832.9 1455.2,1836.5 1458.3,1839.9 1461.3,1843.2 1464.2,1846.2 1467.1,1849.2 1469.9,1851.9 1472.7,1854.6 1475.4,1857.1 1478,1859.5 1480.6,1861.7 1483.1,1863.9 1485.6,1865.9 1488,1867.9 1490.4,1869.7 1492.7,1871.5 1495,1873.2 1497.3,1874.8 1499.5,1876.3 1501.7,1877.8 1503.8,1879.3 1506,1880.7 1508.1,1882.1 1510.2,1883.4 1512.3,1884.7 1514.3,1886 1516.4,1887.2 1518.4,1888.5 1520.4,1889.7 1522.3,1890.9 1524.3,1892 1526.3,1893.2 1528.2,1894.3 1530.1,1895.4 1532,1896.4 1533.9,1897.5 1535.7,1898.5 1537.6,1899.5 1539.4,1900.5 1541.3,1901.4 1543.1,1902.4 1544.9,1903.3 1546.7,1904.2 1548.5,1905.1 1550.2,1906 1552,1906.8 1553.8,1907.7 1555.5,1908.5 1557.3,1909.3 1559,1910.1 1560.7,1910.9 1562.4,1911.7 1564.1,1912.5 1565.9,1913.2 1567.6,1914 1569.3,1914.7 1570.9,1915.4 1572.6,1916.1 1574.3,1916.9 1576,1917.6 1577.7,1918.3 1579.4,1918.9 1581.1,1919.6 1582.8,1920.3 1584.4,1921 1586.1,1921.6 1587.8,1922.3 1589.5,1923 1591.2,1923.6 1592.9,1924.3 1594.6,1924.9 1596.4,1925.6 1598.1,1926.2 1599.8,1926.8 1601.6,1927.5 1603.3,1928.1 1605.1,1928.7 1606.9,1929.4 1608.7,1930 1610.6,1930.6 1612.4,1931.2 1614.3,1931.8 1616.2,1932.5 1618.1,1933.1 1620,1933.7 1621.9,1934.3 1623.9,1934.9 1625.9,1935.5 1627.9,1936.1 1630,1936.8 1632.1,1937.4 1634.2,1938 1636.3,1938.6 1638.5,1939.2 1640.7,1939.8 1642.9,1940.5 1645.2,1941.1 1647.5,1941.7 1649.9,1942.3 1652.3,1943 1654.7,1943.6 1657.1,1944.2 1659.7,1944.9 1662.2,1945.5 1664.8,1946.1 1667.4,1946.8 1670.1,1947.4 1672.8,1948.1 1675.5,1948.7 1678.3,1949.4 1681.1,1950 1684,1950.7 1686.8,1951.4 1689.8,1952 1692.7,1952.7 1695.7,1953.3 1698.7,1954 1701.7,1954.7 1704.7,1955.4 1707.8,1956 1710.9,1956.7 1714,1957.4 1717.2,1958.1 1720.4,1958.7 1723.5,1959.4 1726.8,1960.1 1730,1960.8 1733.2,1961.4 1736.5,1962.1 1739.7,1962.8 1743,1963.5 1746.3,1964.2 1749.6,1964.8 1753,1965.5 1756.3,1966.2 1759.6,1966.9 1763,1967.6 1766.3,1968.2 1769.7,1968.9 1773,1969.6 1776.4,1970.3 1779.8,1970.9 1783.1,1971.6 1786.5,1972.3 1789.9,1973 1793.2,1973.6 1796.6,1974.3 1800,1975 1803.4,1975.6 1806.7,1976.3 1810.1,1977 1813.5,1977.6 1816.8,1978.3 1820.2,1978.9 1823.6,1979.6 1826.9,1980.2 1830.3,1980.9 1833.7,1981.5 1837,1982.1 1840.4,1982.8 1843.8,1983.4 1847.1,1984 1850.5,1984.7 1853.9,1985.3 1857.2,1985.9 1860.6,1986.5 1864,1987.1 1867.3,1987.7 1870.7,1988.3 1874.1,1988.9 1877.4,1989.5 1880.8,1990.1 1884.2,1990.7 1887.5,1991.2 1890.9,1991.8 1894.3,1992.4 1897.6,1992.9 1901,1993.5 1904.4,1994 1907.8,1994.6 1911.1,1995.1 1914.5,1995.6 1917.9,1996.2 1921.2,1996.7 1924.6,1997.2 1928,1997.7 1931.3,1998.2 1934.7,1998.7 1938.1,1999.2 1941.5,1999.6 1944.9,2000.1 1948.3,2000.6 1951.7,2001 1955.1,2001.5 1958.6,2001.9 1962,2002.4 1965.5,2002.8 1969,2003.2 1972.5,2003.7 1976,2004.1 1979.5,2004.5 1983,2004.9 1986.6,2005.3 1990.2,2005.7 1993.8,2006.1 1997.5,2006.5 2001.1,2006.9 2004.8,2007.3 2008.5,2007.6 2012.2,2008 2016,2008.4 2019.8,2008.7 2023.6,2009.1 2027.5,2009.4 2031.4,2009.8 2035.3,2010.1 2039.3,2010.4 2043.3,2010.8 2047.3,2011.1 2051.4,2011.4 2055.5,2011.7 2059.6,2012.1 2063.8,2012.4 2068,2012.7 2072.3,2013 2076.6,2013.3 2081,2013.6 2085.5,2013.8 2090,2014.1 2094.6,2014.4 2099.3,2014.7 2104,2014.9 2108.9,2015.2 2113.8,2015.5 2118.9,2015.7 2124,2016 2129.3,2016.2 2134.6,2016.4 2140.1,2016.7 2145.8,2016.9 2151.5,2017.1 2157.4,2017.3 2163.4,2017.5 2169.6,2017.7 2175.9,2017.9 2182.4,2018.1 2189.1,2018.3 2195.9,2018.5 2202.9,2018.6 2210.1,2018.8 2217.4,2018.9 2225,2019.1 2232.7,2019.2 2240.7,2019.4 2248.8,2019.5 2257.2,2019.6 2265.7,2019.7 2274.5,2019.8 2283.6,2019.9 2292.8,2020 2302.3,2020 2312,2020.1 2322,2020.2" fill="none" stroke="#000000" stroke-width="3.2" stroke-linejoin="round" stroke-linecap="round"/>
<rect x="1370.5" y="1721.6" width="17" height="17" fill="#ff0000"/>
<rect x="1437.9" y="1836.7" width="17" height="17" fill="#ff0000"/>
<rect x="1505.2" y="1882.4" width="17" height="17" fill="#ff0000"/>
<rect x="1572.6" y="1922.8" width="17" height="17" fill="#ff0000"/>
<rect x="1639.9" y="1929" width="17" height="17" fill="#ff0000"/>
<rect x="1774.6" y="1959.1" width="17" height="17" fill="#ff0000"/>
<rect x="1909.4" y="1990.1" width="17" height="17" fill="#ff0000"/>
<rect x="2044.1" y="2000.8" width="17" height="17" fill="#ff0000"/>
<rect x="2178.8" y="2002.6" width="17" height="17" fill="#ff0000"/>
<rect x="2313.5" y="2002.6" width="17" height="17" fill="#ff0000"/>
<circle cx="1379" cy="1730.1" r="8.5" fill="#00d800"/>
<circle cx="1446.4" cy="1852.1" r="8.5" fill="#00d800"/>
<circle cx="1513.7" cy="1901.3" r="8.5" fill="#00d800"/>
<circle cx="1581.1" cy="1924.1" r="8.5" fill="#00d800"/>
<circle cx="1648.4" cy="1946" r="8.5" fill="#00d800"/>
<circle cx="1783.1" cy="1961.6" r="8.5" fill="#00d800"/>
<circle cx="1917.9" cy="2011.1" r="8.5" fill="#00d800"/>
<circle cx="2052.6" cy="2018.5" r="8.5" fill="#00d800"/>
<circle cx="2187.3" cy="2020.2" r="8.5" fill="#00d800"/>
<circle cx="2322" cy="2031" r="8.5" fill="#00d800"/>
<path d="M1379 1719.6 L1369.2 1736.6 L1388.8 1736.6 Z" fill="#000000"/>
<path d="M1446.4 1827.9 L1436.6 1844.8 L1456.1 1844.8 Z" fill="#000000"/>
<path d="M1513.7 1879.2 L1503.9 1896.1 L1523.5 1896.1 Z" fill="#000000"/>
<path d="M1581.1 1910.5 L1571.3 1927.4 L1590.8 1927.4 Z" fill="#000000"/>
<path d="M1648.4 1933.5 L1638.7 1950.5 L1658.2 1950.5 Z" fill="#000000"/>
<path d="M1783.1 1961.5 L1773.4 1978.4 L1792.9 1978.4 Z" fill="#000000"/>
<path d="M1917.9 1987.4 L1908.1 2004.3 L1927.6 2004.3 Z" fill="#000000"/>
<path d="M2052.6 2003 L2042.8 2019.9 L2062.3 2019.9 Z" fill="#000000"/>
<path d="M2187.3 2009 L2177.5 2025.9 L2197.1 2025.9 Z" fill="#000000"/>
<path d="M2322 2009.7 L2312.2 2026.6 L2331.8 2026.6 Z" fill="#000000"/>
<rect x="1370.5" y="2356.1" width="17" height="17" fill="#0a14ff"/>
<rect x="1437.9" y="2110.7" width="17" height="17" fill="#0a14ff"/>
<rect x="1505.2" y="2011.5" width="17" height="17" fill="#0a14ff"/>
<rect x="1572.6" y="1948.9" width="17" height="17" fill="#0a14ff"/>
<rect x="1639.9" y="1914.9" width="17" height="17" fill="#0a14ff"/>
<rect x="1774.6" y="1866.7" width="17" height="17" fill="#0a14ff"/>
<rect x="1909.4" y="1785.7" width="17" height="17" fill="#0a14ff"/>
<rect x="2044.1" y="1766.1" width="17" height="17" fill="#0a14ff"/>
<rect x="2178.8" y="1759.6" width="17" height="17" fill="#0a14ff"/>
<rect x="2313.5" y="1753.1" width="17" height="17" fill="#0a14ff"/>
</g>
<path d="M2322 1712 L1379 1712 L1379 2364.6 L2322 2364.6" fill="none" stroke="#000" stroke-width="7" stroke-linecap="square" stroke-linejoin="miter"/>
<path d="M2322 1712 L2322 2364.6" fill="none" stroke="#0a14ff" stroke-width="7" stroke-linecap="square"/>
<path d="M1446.4 2364.6 V2355.1 M1513.7 2364.6 V2349.1 M1581.1 2364.6 V2355.1 M1648.4 2364.6 V2349.1 M1715.8 2364.6 V2355.1 M1783.1 2364.6 V2349.1 M1850.5 2364.6 V2355.1 M1917.9 2364.6 V2349.1 M1985.2 2364.6 V2355.1 M2052.6 2364.6 V2349.1 M2119.9 2364.6 V2355.1 M2187.3 2364.6 V2349.1 M2254.6 2364.6 V2355.1" stroke="#000" stroke-width="7" fill="none"/>
<text transform="translate(1379 2414.6) scale(1.0800 1)" x="0" y="0" font-family="'Liberation Serif', 'Times New Roman', serif" font-size="44" font-weight="bold" text-anchor="middle" fill="#000000">0</text>
<text transform="translate(1513.7 2414.6) scale(1.0800 1)" x="0" y="0" font-family="'Liberation Serif', 'Times New Roman', serif" font-size="44" font-weight="bold" text-anchor="middle" fill="#000000">30</text>
<text transform="translate(1648.4 2414.6) scale(1.0800 1)" x="0" y="0" font-family="'Liberation Serif', 'Times New Roman', serif" font-size="44" font-weight="bold" text-anchor="middle" fill="#000000">60</text>
<text transform="translate(1783.1 2414.6) scale(1.0800 1)" x="0" y="0" font-family="'Liberation Serif', 'Times New Roman', serif" font-size="44" font-weight="bold" text-anchor="middle" fill="#000000">90</text>
<text transform="translate(1917.9 2414.6) scale(1.0800 1)" x="0" y="0" font-family="'Liberation Serif', 'Times New Roman', serif" font-size="44" font-weight="bold" text-anchor="middle" fill="#000000">120</text>
<text transform="translate(2052.6 2414.6) scale(1.0800 1)" x="0" y="0" font-family="'Liberation Serif', 'Times New Roman', serif" font-size="44" font-weight="bold" text-anchor="middle" fill="#000000">150</text>
<text transform="translate(2187.3 2414.6) scale(1.0800 1)" x="0" y="0" font-family="'Liberation Serif', 'Times New Roman', serif" font-size="44" font-weight="bold" text-anchor="middle" fill="#000000">180</text>
<text transform="translate(2322 2414.6) scale(1.0800 1)" x="0" y="0" font-family="'Liberation Serif', 'Times New Roman', serif" font-size="44" font-weight="bold" text-anchor="middle" fill="#000000">210</text>
<path d="M1379 2319.3 H1388.5 M1379 2274 H1394.5 M1379 2228.6 H1388.5 M1379 2183.3 H1394.5 M1379 2138 H1388.5 M1379 2092.7 H1394.5 M1379 2047.4 H1388.5 M1379 2002 H1394.5 M1379 1956.7 H1388.5 M1379 1911.4 H1394.5 M1379 1866.1 H1388.5 M1379 1820.8 H1394.5 M1379 1775.4 H1388.5 M1379 1730.1 H1394.5" stroke="#000" stroke-width="7" fill="none"/>
<text transform="translate(1361 2378.9) scale(1.1000 1)" x="0" y="0" font-family="'Liberation Serif', 'Times New Roman', serif" font-size="46" font-weight="bold" text-anchor="end" fill="#000000">0</text>
<text transform="translate(1361 2288.2) scale(1.1000 1)" x="0" y="0" font-family="'Liberation Serif', 'Times New Roman', serif" font-size="46" font-weight="bold" text-anchor="end" fill="#000000">50</text>
<text transform="translate(1361 2197.6) scale(1.1000 1)" x="0" y="0" font-family="'Liberation Serif', 'Times New Roman', serif" font-size="46" font-weight="bold" text-anchor="end" fill="#000000">100</text>
<text transform="translate(1361 2106.9) scale(1.1000 1)" x="0" y="0" font-family="'Liberation Serif', 'Times New Roman', serif" font-size="46" font-weight="bold" text-anchor="end" fill="#000000">150</text>
<text transform="translate(1361 2016.3) scale(1.1000 1)" x="0" y="0" font-family="'Liberation Serif', 'Times New Roman', serif" font-size="46" font-weight="bold" text-anchor="end" fill="#000000">200</text>
<text transform="translate(1361 1925.7) scale(1.1000 1)" x="0" y="0" font-family="'Liberation Serif', 'Times New Roman', serif" font-size="46" font-weight="bold" text-anchor="end" fill="#000000">250</text>
<text transform="translate(1361 1835) scale(1.1000 1)" x="0" y="0" font-family="'Liberation Serif', 'Times New Roman', serif" font-size="46" font-weight="bold" text-anchor="end" fill="#000000">300</text>
<text transform="translate(1361 1744.4) scale(1.1000 1)" x="0" y="0" font-family="'Liberation Serif', 'Times New Roman', serif" font-size="46" font-weight="bold" text-anchor="end" fill="#000000">350</text>
<path d="M2322 2299.3 H2312.5 M2322 2234.1 H2306.5 M2322 2168.8 H2312.5 M2322 2103.6 H2306.5 M2322 2038.3 H2312.5 M2322 1973 H2306.5 M2322 1907.8 H2312.5 M2322 1842.5 H2306.5 M2322 1777.3 H2312.5" stroke="#0a14ff" stroke-width="7" fill="none"/>
<text transform="translate(2338 2378.2) scale(1.1000 1)" x="0" y="0" font-family="'Liberation Serif', 'Times New Roman', serif" font-size="44" font-weight="bold" text-anchor="start" fill="#000000">0</text>
<text transform="translate(2338 2247.7) scale(1.1000 1)" x="0" y="0" font-family="'Liberation Serif', 'Times New Roman', serif" font-size="44" font-weight="bold" text-anchor="start" fill="#000000">10</text>
<text transform="translate(2338 2117.2) scale(1.1000 1)" x="0" y="0" font-family="'Liberation Serif', 'Times New Roman', serif" font-size="44" font-weight="bold" text-anchor="start" fill="#000000">20</text>
<text transform="translate(2338 1986.7) scale(1.1000 1)" x="0" y="0" font-family="'Liberation Serif', 'Times New Roman', serif" font-size="44" font-weight="bold" text-anchor="start" fill="#000000">30</text>
<text transform="translate(2338 1856.2) scale(1.1000 1)" x="0" y="0" font-family="'Liberation Serif', 'Times New Roman', serif" font-size="44" font-weight="bold" text-anchor="start" fill="#000000">40</text>
<text transform="translate(2338 1725.6) scale(1.1000 1)" x="0" y="0" font-family="'Liberation Serif', 'Times New Roman', serif" font-size="44" font-weight="bold" text-anchor="start" fill="#000000">50</text>
<text transform="translate(1267.7 2038.2) rotate(-90) scale(0.8913 1)" x="0" y="0" font-family="'Liberation Serif', 'Times New Roman', serif" font-size="49" font-weight="bold" text-anchor="middle" fill="#000000">COD (mg L<tspan font-size="30.4" dy="-24.5">-1</tspan><tspan dy="24.5">)</tspan></text>
<text transform="translate(2443 2038.3) rotate(-90) scale(0.9375 1)" x="0" y="0" font-family="'Liberation Serif', 'Times New Roman', serif" font-size="50" font-weight="normal" text-anchor="middle" fill="#0a14ff">COD removal %</text>
<text transform="translate(1850.6 2483.5) scale(1.1431 1)" x="0" y="0" font-family="'Liberation Serif', 'Times New Roman', serif" font-size="44.5" font-weight="bold" text-anchor="middle" fill="#000000">Time (min)</text>
<polyline points="1516,2180.5 1605,2180.5" fill="none" stroke="#ff0000" stroke-width="4.5" stroke-linejoin="round" stroke-linecap="butt"/>
<rect x="1552.5" y="2172.5" width="16" height="16" fill="#ff0000"/>
<text transform="translate(1618 2193) scale(1.1072 1)" x="0" y="0" font-family="'Liberation Sans', Arial, sans-serif" font-size="34.6" font-weight="bold" text-anchor="start" fill="#111">Reactor 1</text>
<polyline points="1516,2223.8 1605,2223.8" fill="none" stroke="#00d800" stroke-width="4.5" stroke-linejoin="round" stroke-linecap="butt"/>
<circle cx="1560.5" cy="2223.8" r="8.5" fill="#00d800"/>
<text transform="translate(1618 2236.3) scale(1.1072 1)" x="0" y="0" font-family="'Liberation Sans', Arial, sans-serif" font-size="34.6" font-weight="bold" text-anchor="start" fill="#111">Reactor 2</text>
<polyline points="1516,2267.1 1605,2267.1" fill="none" stroke="#000000" stroke-width="4.5" stroke-linejoin="round" stroke-linecap="butt"/>
<path d="M1560.5 2256.4 L1550.5 2273.7 L1570.5 2273.7 Z" fill="#000000"/>
<text transform="translate(1618 2279.6) scale(1.1072 1)" x="0" y="0" font-family="'Liberation Sans', Arial, sans-serif" font-size="34.6" font-weight="bold" text-anchor="start" fill="#111">Reactor 3</text>
<text x="1444.5" y="2310" font-family="'Liberation Serif', 'Times New Roman', serif" font-size="66" font-weight="bold" text-anchor="start" fill="#000000">f</text>
<clipPath id="cph"><rect x="1399.4" y="2510" width="917.6" height="660"/></clipPath><g clip-path="url(#cph)">
<polyline points="1399.4,3170 1404.3,3154.3 1409,3139.2 1413.6,3124.7 1418.1,3110.9 1422.5,3097.7 1426.8,3085 1430.9,3072.9 1435,3061.4 1439,3050.4 1442.8,3040 1446.6,3030 1450.3,3020.5 1453.9,3011.5 1457.3,3003 1460.8,2994.8 1464.1,2987.1 1467.3,2979.9 1470.5,2972.9 1473.5,2966.4 1476.5,2960.2 1479.5,2954.4 1482.3,2948.9 1485.1,2943.6 1487.9,2938.7 1490.6,2934 1493.2,2929.6 1495.7,2925.5 1498.2,2921.5 1500.7,2917.8 1503.1,2914.2 1505.4,2910.8 1507.8,2907.6 1510,2904.5 1512.3,2901.6 1514.5,2898.7 1516.6,2895.9 1518.8,2893.3 1520.9,2890.6 1523,2888 1525,2885.4 1527.1,2882.9 1529.1,2880.3 1531.1,2877.8 1533.1,2875.2 1535,2872.7 1537,2870.1 1538.9,2867.6 1540.8,2865.1 1542.7,2862.6 1544.6,2860.1 1546.4,2857.6 1548.3,2855.1 1550.1,2852.7 1551.9,2850.2 1553.7,2847.8 1555.5,2845.3 1557.3,2842.9 1559.1,2840.5 1560.8,2838.1 1562.6,2835.7 1564.3,2833.3 1566,2830.9 1567.8,2828.6 1569.5,2826.2 1571.2,2823.9 1572.9,2821.5 1574.5,2819.2 1576.2,2816.9 1577.9,2814.6 1579.6,2812.4 1581.2,2810.1 1582.9,2807.9 1584.5,2805.6 1586.2,2803.4 1587.8,2801.2 1589.5,2799 1591.1,2796.8 1592.8,2794.7 1594.4,2792.5 1596,2790.4 1597.7,2788.3 1599.3,2786.2 1600.9,2784.1 1602.6,2782.1 1604.2,2780 1605.9,2778 1607.6,2776 1609.2,2774 1610.9,2772 1612.6,2770 1614.3,2768.1 1616,2766.1 1617.7,2764.2 1619.4,2762.3 1621.2,2760.4 1622.9,2758.6 1624.7,2756.7 1626.5,2754.9 1628.3,2753.1 1630.2,2751.3 1632,2749.5 1633.9,2747.7 1635.8,2746 1637.7,2744.3 1639.7,2742.5 1641.6,2740.9 1643.6,2739.2 1645.7,2737.5 1647.7,2735.9 1649.8,2734.3 1651.9,2732.6 1654.1,2731.1 1656.2,2729.5 1658.4,2727.9 1660.7,2726.4 1663,2724.9 1665.3,2723.4 1667.7,2721.9 1670.1,2720.4 1672.5,2719 1675,2717.6 1677.5,2716.2 1680,2714.8 1682.6,2713.4 1685.3,2712 1687.9,2710.7 1690.6,2709.3 1693.4,2708 1696.2,2706.7 1699,2705.4 1701.8,2704.1 1704.6,2702.8 1707.5,2701.5 1710.5,2700.2 1713.4,2699 1716.4,2697.7 1719.4,2696.4 1722.4,2695.1 1725.4,2693.8 1728.5,2692.6 1731.6,2691.3 1734.7,2690 1737.8,2688.7 1740.9,2687.4 1744.1,2686.1 1747.2,2684.8 1750.4,2683.4 1753.6,2682.1 1756.8,2680.8 1760.1,2679.4 1763.3,2678 1766.5,2676.6 1769.8,2675.2 1773,2673.8 1776.3,2672.4 1779.6,2670.9 1782.8,2669.4 1786.1,2667.9 1789.4,2666.4 1792.7,2664.8 1795.9,2663.3 1799.2,2661.7 1802.5,2660.1 1805.8,2658.4 1809,2656.8 1812.3,2655.1 1815.6,2653.4 1818.9,2651.7 1822.2,2649.9 1825.4,2648.2 1828.7,2646.4 1832,2644.6 1835.3,2642.9 1838.5,2641.1 1841.8,2639.3 1845.1,2637.4 1848.4,2635.6 1851.6,2633.8 1854.9,2632 1858.2,2630.1 1861.5,2628.3 1864.8,2626.5 1868,2624.6 1871.3,2622.8 1874.6,2620.9 1877.9,2619.1 1881.1,2617.3 1884.4,2615.4 1887.7,2613.6 1891,2611.8 1894.2,2610 1897.5,2608.2 1900.8,2606.4 1904.1,2604.6 1907.4,2602.9 1910.6,2601.1 1913.9,2599.4 1917.2,2597.7 1920.5,2596 1923.7,2594.3 1927,2592.6 1930.3,2591 1933.6,2589.3 1936.9,2587.7 1940.1,2586.1 1943.4,2584.6 1946.7,2583 1950,2581.5 1953.4,2580 1956.7,2578.5 1960,2577 1963.4,2575.6 1966.7,2574.1 1970.1,2572.7 1973.5,2571.4 1976.9,2570 1980.3,2568.6 1983.7,2567.3 1987.2,2566 1990.7,2564.7 1994.1,2563.5 1997.7,2562.2 2001.2,2561 2004.8,2559.8 2008.3,2558.7 2011.9,2557.5 2015.6,2556.4 2019.2,2555.3 2022.9,2554.2 2026.7,2553.1 2030.4,2552.1 2034.2,2551.1 2038,2550.1 2041.9,2549.1 2045.8,2548.1 2049.7,2547.2 2053.6,2546.3 2057.6,2545.4 2061.7,2544.6 2065.8,2543.8 2069.9,2543 2074,2542.2 2078.2,2541.4 2082.5,2540.7 2086.9,2540 2091.3,2539.3 2095.7,2538.6 2100.3,2537.9 2104.9,2537.3 2109.6,2536.6 2114.4,2536 2119.3,2535.4 2124.3,2534.9 2129.5,2534.3 2134.7,2533.7 2140,2533.2 2145.5,2532.7 2151.1,2532.2 2156.8,2531.7 2162.7,2531.2 2168.7,2530.7 2174.9,2530.2 2181.2,2529.7 2187.7,2529.3 2194.3,2528.8 2201.1,2528.4 2208.1,2527.9 2215.2,2527.5 2222.6,2527 2230.1,2526.6 2237.8,2526.2 2245.8,2525.7 2253.9,2525.3 2262.3,2524.8 2270.8,2524.4 2279.6,2524 2288.6,2523.5 2297.8,2523.1 2307.3,2522.6 2317,2522.2" fill="none" stroke="#0a14ff" stroke-width="3.2" stroke-linejoin="round" stroke-linecap="round"/>
<polyline points="1399.4,2528.3 1404.3,2537.8 1409,2546.8 1413.6,2555.5 1418.1,2563.8 1422.5,2571.7 1426.8,2579.3 1430.9,2586.6 1435,2593.5 1439,2600.1 1442.8,2606.4 1446.6,2612.4 1450.3,2618.1 1453.9,2623.6 1457.3,2628.7 1460.8,2633.7 1464.1,2638.3 1467.3,2642.8 1470.5,2647 1473.5,2651 1476.5,2654.7 1479.5,2658.3 1482.3,2661.7 1485.1,2664.9 1487.9,2668 1490.6,2670.9 1493.2,2673.6 1495.7,2676.2 1498.2,2678.7 1500.7,2681 1503.1,2683.3 1505.4,2685.4 1507.8,2687.5 1510,2689.4 1512.3,2691.4 1514.5,2693.2 1516.6,2695 1518.8,2696.8 1520.9,2698.5 1523,2700.2 1525,2701.9 1527.1,2703.6 1529.1,2705.3 1531.1,2707 1533.1,2708.7 1535,2710.4 1537,2712.1 1538.9,2713.8 1540.8,2715.5 1542.7,2717.2 1544.6,2718.9 1546.4,2720.6 1548.3,2722.3 1550.1,2723.9 1551.9,2725.6 1553.7,2727.3 1555.5,2728.9 1557.3,2730.6 1559.1,2732.2 1560.8,2733.9 1562.6,2735.5 1564.3,2737.1 1566,2738.7 1567.8,2740.3 1569.5,2741.9 1571.2,2743.5 1572.9,2745 1574.5,2746.6 1576.2,2748.2 1577.9,2749.7 1579.6,2751.2 1581.2,2752.7 1582.9,2754.2 1584.5,2755.7 1586.2,2757.2 1587.8,2758.6 1589.5,2760 1591.1,2761.5 1592.8,2762.9 1594.4,2764.3 1596,2765.6 1597.7,2767 1599.3,2768.3 1600.9,2769.6 1602.6,2770.9 1604.2,2772.2 1605.9,2773.5 1607.6,2774.7 1609.2,2776 1610.9,2777.2 1612.6,2778.4 1614.3,2779.6 1616,2780.8 1617.7,2781.9 1619.4,2783.1 1621.2,2784.2 1622.9,2785.3 1624.7,2786.4 1626.5,2787.5 1628.3,2788.6 1630.2,2789.7 1632,2790.7 1633.9,2791.8 1635.8,2792.8 1637.7,2793.8 1639.7,2794.8 1641.6,2795.8 1643.6,2796.8 1645.7,2797.7 1647.7,2798.7 1649.8,2799.7 1651.9,2800.6 1654.1,2801.5 1656.2,2802.5 1658.4,2803.4 1660.7,2804.3 1663,2805.2 1665.3,2806 1667.7,2806.9 1670.1,2807.8 1672.5,2808.7 1675,2809.5 1677.5,2810.3 1680,2811.2 1682.6,2812 1685.3,2812.9 1687.9,2813.7 1690.6,2814.5 1693.4,2815.3 1696.2,2816.1 1699,2817 1701.8,2817.8 1704.6,2818.6 1707.5,2819.4 1710.5,2820.2 1713.4,2821 1716.4,2821.8 1719.4,2822.7 1722.4,2823.5 1725.4,2824.3 1728.5,2825.2 1731.6,2826 1734.7,2826.8 1737.8,2827.7 1740.9,2828.5 1744.1,2829.4 1747.2,2830.3 1750.4,2831.2 1753.6,2832.1 1756.8,2833 1760.1,2833.9 1763.3,2834.8 1766.5,2835.8 1769.8,2836.7 1773,2837.7 1776.3,2838.7 1779.6,2839.7 1782.8,2840.7 1786.1,2841.7 1789.4,2842.8 1792.7,2843.8 1795.9,2844.9 1799.2,2846 1802.5,2847.2 1805.8,2848.3 1809,2849.4 1812.3,2850.6 1815.6,2851.8 1818.9,2853 1822.2,2854.2 1825.4,2855.4 1828.7,2856.6 1832,2857.8 1835.3,2859.1 1838.5,2860.3 1841.8,2861.6 1845.1,2862.8 1848.4,2864.1 1851.6,2865.3 1854.9,2866.6 1858.2,2867.9 1861.5,2869.1 1864.8,2870.4 1868,2871.6 1871.3,2872.9 1874.6,2874.1 1877.9,2875.4 1881.1,2876.6 1884.4,2877.8 1887.7,2879.1 1891,2880.3 1894.2,2881.5 1897.5,2882.7 1900.8,2883.9 1904.1,2885 1907.4,2886.2 1910.6,2887.3 1913.9,2888.5 1917.2,2889.6 1920.5,2890.7 1923.7,2891.8 1927,2892.8 1930.3,2893.9 1933.6,2894.9 1936.9,2895.9 1940.1,2896.9 1943.4,2897.8 1946.7,2898.8 1950,2899.7 1953.4,2900.6 1956.7,2901.5 1960,2902.4 1963.4,2903.3 1966.7,2904.1 1970.1,2904.9 1973.5,2905.8 1976.9,2906.6 1980.3,2907.3 1983.7,2908.1 1987.2,2908.9 1990.7,2909.6 1994.1,2910.3 1997.7,2911 2001.2,2911.7 2004.8,2912.4 2008.3,2913.1 2011.9,2913.7 2015.6,2914.4 2019.2,2915 2022.9,2915.6 2026.7,2916.2 2030.4,2916.8 2034.2,2917.4 2038,2917.9 2041.9,2918.5 2045.8,2919 2049.7,2919.6 2053.6,2920.1 2057.6,2920.6 2061.7,2921.1 2065.8,2921.6 2069.9,2922.1 2074,2922.5 2078.2,2923 2082.5,2923.4 2086.9,2923.9 2091.3,2924.3 2095.7,2924.7 2100.3,2925.1 2104.9,2925.5 2109.6,2925.9 2114.4,2926.3 2119.3,2926.7 2124.3,2927.1 2129.5,2927.4 2134.7,2927.8 2140,2928.1 2145.5,2928.5 2151.1,2928.8 2156.8,2929.2 2162.7,2929.5 2168.7,2929.8 2174.9,2930.1 2181.2,2930.4 2187.7,2930.8 2194.3,2931.1 2201.1,2931.4 2208.1,2931.7 2215.2,2932 2222.6,2932.3 2230.1,2932.5 2237.8,2932.8 2245.8,2933.1 2253.9,2933.4 2262.3,2933.7 2270.8,2934 2279.6,2934.2 2288.6,2934.5 2297.8,2934.8 2307.3,2935.1 2317,2935.3" fill="none" stroke="#ff0000" stroke-width="3.2" stroke-linejoin="round" stroke-linecap="round"/>
<polyline points="1399.4,2528.3 1404.3,2538.7 1409,2548.6 1413.6,2558.1 1418.1,2567.1 1422.5,2575.8 1426.8,2584 1430.9,2591.9 1435,2599.4 1439,2606.5 1442.8,2613.3 1446.6,2619.7 1450.3,2625.8 1453.9,2631.6 1457.3,2637.1 1460.8,2642.2 1464.1,2647.1 1467.3,2651.7 1470.5,2656.1 1473.5,2660.2 1476.5,2664.1 1479.5,2667.7 1482.3,2671.2 1485.1,2674.4 1487.9,2677.5 1490.6,2680.3 1493.2,2683 1495.7,2685.6 1498.2,2688 1500.7,2690.2 1503.1,2692.4 1505.4,2694.4 1507.8,2696.3 1510,2698.2 1512.3,2700 1514.5,2701.7 1516.6,2703.3 1518.8,2704.9 1520.9,2706.5 1523,2708.1 1525,2709.7 1527.1,2711.3 1529.1,2712.8 1531.1,2714.4 1533.1,2716 1535,2717.6 1537,2719.2 1538.9,2720.8 1540.8,2722.4 1542.7,2724 1544.6,2725.6 1546.4,2727.2 1548.3,2728.8 1550.1,2730.4 1551.9,2732 1553.7,2733.6 1555.5,2735.2 1557.3,2736.8 1559.1,2738.4 1560.8,2740 1562.6,2741.6 1564.3,2743.1 1566,2744.7 1567.8,2746.3 1569.5,2747.8 1571.2,2749.4 1572.9,2750.9 1574.5,2752.4 1576.2,2754 1577.9,2755.5 1579.6,2757 1581.2,2758.5 1582.9,2759.9 1584.5,2761.4 1586.2,2762.8 1587.8,2764.3 1589.5,2765.7 1591.1,2767.1 1592.8,2768.5 1594.4,2769.9 1596,2771.2 1597.7,2772.6 1599.3,2773.9 1600.9,2775.2 1602.6,2776.5 1604.2,2777.8 1605.9,2779.1 1607.6,2780.3 1609.2,2781.5 1610.9,2782.7 1612.6,2783.9 1614.3,2785.1 1616,2786.3 1617.7,2787.4 1619.4,2788.6 1621.2,2789.7 1622.9,2790.8 1624.7,2791.9 1626.5,2793 1628.3,2794 1630.2,2795.1 1632,2796.1 1633.9,2797.1 1635.8,2798.2 1637.7,2799.1 1639.7,2800.1 1641.6,2801.1 1643.6,2802.1 1645.7,2803 1647.7,2803.9 1649.8,2804.9 1651.9,2805.8 1654.1,2806.7 1656.2,2807.5 1658.4,2808.4 1660.7,2809.3 1663,2810.1 1665.3,2811 1667.7,2811.8 1670.1,2812.6 1672.5,2813.4 1675,2814.2 1677.5,2815 1680,2815.8 1682.6,2816.5 1685.3,2817.3 1687.9,2818.1 1690.6,2818.8 1693.4,2819.6 1696.2,2820.3 1699,2821 1701.8,2821.8 1704.6,2822.5 1707.5,2823.2 1710.5,2823.9 1713.4,2824.7 1716.4,2825.4 1719.4,2826.1 1722.4,2826.9 1725.4,2827.6 1728.5,2828.3 1731.6,2829 1734.7,2829.8 1737.8,2830.5 1740.9,2831.3 1744.1,2832 1747.2,2832.8 1750.4,2833.6 1753.6,2834.3 1756.8,2835.1 1760.1,2835.9 1763.3,2836.7 1766.5,2837.6 1769.8,2838.4 1773,2839.2 1776.3,2840.1 1779.6,2841 1782.8,2841.8 1786.1,2842.7 1789.4,2843.7 1792.7,2844.6 1795.9,2845.5 1799.2,2846.5 1802.5,2847.5 1805.8,2848.5 1809,2849.5 1812.3,2850.5 1815.6,2851.5 1818.9,2852.6 1822.2,2853.7 1825.4,2854.7 1828.7,2855.8 1832,2856.9 1835.3,2858 1838.5,2859.1 1841.8,2860.2 1845.1,2861.4 1848.4,2862.5 1851.6,2863.7 1854.9,2864.8 1858.2,2866 1861.5,2867.1 1864.8,2868.3 1868,2869.4 1871.3,2870.6 1874.6,2871.8 1877.9,2872.9 1881.1,2874.1 1884.4,2875.3 1887.7,2876.5 1891,2877.6 1894.2,2878.8 1897.5,2879.9 1900.8,2881.1 1904.1,2882.3 1907.4,2883.4 1910.6,2884.6 1913.9,2885.7 1917.2,2886.8 1920.5,2888 1923.7,2889.1 1927,2890.2 1930.3,2891.3 1933.6,2892.4 1936.9,2893.5 1940.1,2894.5 1943.4,2895.6 1946.7,2896.6 1950,2897.7 1953.4,2898.7 1956.7,2899.7 1960,2900.7 1963.4,2901.7 1966.7,2902.7 1970.1,2903.7 1973.5,2904.7 1976.9,2905.6 1980.3,2906.6 1983.7,2907.5 1987.2,2908.4 1990.7,2909.3 1994.1,2910.2 1997.7,2911 2001.2,2911.9 2004.8,2912.7 2008.3,2913.6 2011.9,2914.4 2015.6,2915.2 2019.2,2915.9 2022.9,2916.7 2026.7,2917.4 2030.4,2918.2 2034.2,2918.9 2038,2919.6 2041.9,2920.2 2045.8,2920.9 2049.7,2921.5 2053.6,2922.2 2057.6,2922.8 2061.7,2923.3 2065.8,2923.9 2069.9,2924.5 2074,2925 2078.2,2925.5 2082.5,2926 2086.9,2926.4 2091.3,2926.9 2095.7,2927.3 2100.3,2927.8 2104.9,2928.2 2109.6,2928.6 2114.4,2929 2119.3,2929.3 2124.3,2929.7 2129.5,2930 2134.7,2930.4 2140,2930.7 2145.5,2931 2151.1,2931.3 2156.8,2931.6 2162.7,2931.9 2168.7,2932.2 2174.9,2932.5 2181.2,2932.8 2187.7,2933 2194.3,2933.3 2201.1,2933.6 2208.1,2933.8 2215.2,2934.1 2222.6,2934.3 2230.1,2934.6 2237.8,2934.8 2245.8,2935.1 2253.9,2935.3 2262.3,2935.6 2270.8,2935.8 2279.6,2936.1 2288.6,2936.4 2297.8,2936.6 2307.3,2936.9 2317,2937.2" fill="none" stroke="#00d800" stroke-width="3.2" stroke-linejoin="round" stroke-linecap="round"/>
<polyline points="1399.4,2528.3 1404.3,2537.6 1409,2546.5 1413.6,2555 1418.1,2563.2 1422.5,2571 1426.8,2578.6 1430.9,2585.8 1435,2592.7 1439,2599.3 1442.8,2605.7 1446.6,2611.7 1450.3,2617.5 1453.9,2623 1457.3,2628.3 1460.8,2633.3 1464.1,2638.1 1467.3,2642.7 1470.5,2647 1473.5,2651.1 1476.5,2655.1 1479.5,2658.8 1482.3,2662.4 1485.1,2665.8 1487.9,2669 1490.6,2672 1493.2,2674.9 1495.7,2677.7 1498.2,2680.3 1500.7,2682.9 1503.1,2685.3 1505.4,2687.6 1507.8,2689.8 1510,2691.9 1512.3,2693.9 1514.5,2695.9 1516.6,2697.8 1518.8,2699.6 1520.9,2701.4 1523,2703.2 1525,2704.9 1527.1,2706.6 1529.1,2708.3 1531.1,2710 1533.1,2711.7 1535,2713.3 1537,2714.9 1538.9,2716.6 1540.8,2718.2 1542.7,2719.7 1544.6,2721.3 1546.4,2722.9 1548.3,2724.4 1550.1,2725.9 1551.9,2727.4 1553.7,2728.9 1555.5,2730.4 1557.3,2731.9 1559.1,2733.3 1560.8,2734.8 1562.6,2736.2 1564.3,2737.7 1566,2739.1 1567.8,2740.5 1569.5,2741.9 1571.2,2743.3 1572.9,2744.6 1574.5,2746 1576.2,2747.4 1577.9,2748.7 1579.6,2750.1 1581.2,2751.4 1582.9,2752.7 1584.5,2754 1586.2,2755.4 1587.8,2756.7 1589.5,2758 1591.1,2759.3 1592.8,2760.6 1594.4,2761.9 1596,2763.2 1597.7,2764.4 1599.3,2765.7 1600.9,2767 1602.6,2768.3 1604.2,2769.5 1605.9,2770.8 1607.6,2772.1 1609.2,2773.3 1610.9,2774.6 1612.6,2775.8 1614.3,2777 1616,2778.3 1617.7,2779.5 1619.4,2780.7 1621.2,2781.9 1622.9,2783.1 1624.7,2784.3 1626.5,2785.5 1628.3,2786.7 1630.2,2787.9 1632,2789 1633.9,2790.2 1635.8,2791.3 1637.7,2792.5 1639.7,2793.6 1641.6,2794.7 1643.6,2795.9 1645.7,2797 1647.7,2798.1 1649.8,2799.2 1651.9,2800.2 1654.1,2801.3 1656.2,2802.4 1658.4,2803.4 1660.7,2804.4 1663,2805.5 1665.3,2806.5 1667.7,2807.5 1670.1,2808.5 1672.5,2809.4 1675,2810.4 1677.5,2811.4 1680,2812.3 1682.6,2813.2 1685.3,2814.2 1687.9,2815.1 1690.6,2816 1693.4,2816.9 1696.2,2817.8 1699,2818.7 1701.8,2819.5 1704.6,2820.4 1707.5,2821.3 1710.5,2822.1 1713.4,2823 1716.4,2823.8 1719.4,2824.7 1722.4,2825.6 1725.4,2826.4 1728.5,2827.3 1731.6,2828.1 1734.7,2828.9 1737.8,2829.8 1740.9,2830.7 1744.1,2831.5 1747.2,2832.4 1750.4,2833.2 1753.6,2834.1 1756.8,2835 1760.1,2835.8 1763.3,2836.7 1766.5,2837.6 1769.8,2838.5 1773,2839.4 1776.3,2840.3 1779.6,2841.2 1782.8,2842.2 1786.1,2843.1 1789.4,2844 1792.7,2845 1795.9,2846 1799.2,2847 1802.5,2848 1805.8,2849 1809,2850 1812.3,2851 1815.6,2852 1818.9,2853.1 1822.2,2854.1 1825.4,2855.2 1828.7,2856.3 1832,2857.3 1835.3,2858.4 1838.5,2859.5 1841.8,2860.6 1845.1,2861.6 1848.4,2862.7 1851.6,2863.8 1854.9,2864.9 1858.2,2866 1861.5,2867.1 1864.8,2868.2 1868,2869.3 1871.3,2870.4 1874.6,2871.5 1877.9,2872.6 1881.1,2873.7 1884.4,2874.8 1887.7,2875.9 1891,2877 1894.2,2878.1 1897.5,2879.1 1900.8,2880.2 1904.1,2881.3 1907.4,2882.3 1910.6,2883.4 1913.9,2884.4 1917.2,2885.5 1920.5,2886.5 1923.7,2887.5 1927,2888.5 1930.3,2889.5 1933.6,2890.5 1936.9,2891.5 1940.1,2892.5 1943.4,2893.4 1946.7,2894.4 1950,2895.3 1953.4,2896.3 1956.7,2897.2 1960,2898.1 1963.4,2899 1966.7,2899.9 1970.1,2900.8 1973.5,2901.6 1976.9,2902.5 1980.3,2903.3 1983.7,2904.2 1987.2,2905 1990.7,2905.8 1994.1,2906.6 1997.7,2907.4 2001.2,2908.2 2004.8,2909 2008.3,2909.7 2011.9,2910.5 2015.6,2911.2 2019.2,2911.9 2022.9,2912.6 2026.7,2913.3 2030.4,2914 2034.2,2914.7 2038,2915.4 2041.9,2916 2045.8,2916.7 2049.7,2917.3 2053.6,2917.9 2057.6,2918.5 2061.7,2919.1 2065.8,2919.7 2069.9,2920.3 2074,2920.8 2078.2,2921.4 2082.5,2921.9 2086.9,2922.4 2091.3,2922.9 2095.7,2923.4 2100.3,2923.9 2104.9,2924.4 2109.6,2924.9 2114.4,2925.3 2119.3,2925.8 2124.3,2926.2 2129.5,2926.6 2134.7,2927 2140,2927.5 2145.5,2927.9 2151.1,2928.3 2156.8,2928.6 2162.7,2929 2168.7,2929.4 2174.9,2929.7 2181.2,2930.1 2187.7,2930.5 2194.3,2930.8 2201.1,2931.1 2208.1,2931.5 2215.2,2931.8 2222.6,2932.1 2230.1,2932.4 2237.8,2932.7 2245.8,2933 2253.9,2933.3 2262.3,2933.6 2270.8,2933.9 2279.6,2934.2 2288.6,2934.5 2297.8,2934.8 2307.3,2935.1 2317,2935.3" fill="none" stroke="#000000" stroke-width="3.2" stroke-linejoin="round" stroke-linecap="round"/>
<rect x="1390.9" y="2519.8" width="17" height="17" fill="#ff0000"/>
<rect x="1456.4" y="2648.2" width="17" height="17" fill="#ff0000"/>
<rect x="1522" y="2693.3" width="17" height="17" fill="#ff0000"/>
<rect x="1587.5" y="2761.8" width="17" height="17" fill="#ff0000"/>
<rect x="1653.1" y="2802.2" width="17" height="17" fill="#ff0000"/>
<rect x="1784.2" y="2830.4" width="17" height="17" fill="#ff0000"/>
<rect x="1915.2" y="2888.3" width="17" height="17" fill="#ff0000"/>
<rect x="2046.3" y="2915.8" width="17" height="17" fill="#ff0000"/>
<rect x="2177.4" y="2923.2" width="17" height="17" fill="#ff0000"/>
<rect x="2308.5" y="2926.8" width="17" height="17" fill="#ff0000"/>
<circle cx="1399.4" cy="2528.3" r="8.5" fill="#00d800"/>
<circle cx="1464.9" cy="2669.5" r="8.5" fill="#00d800"/>
<circle cx="1530.5" cy="2708" r="8.5" fill="#00d800"/>
<circle cx="1596" cy="2775.8" r="8.5" fill="#00d800"/>
<circle cx="1661.6" cy="2816.2" r="8.5" fill="#00d800"/>
<circle cx="1792.7" cy="2840" r="8.5" fill="#00d800"/>
<circle cx="1923.7" cy="2891.3" r="8.5" fill="#00d800"/>
<circle cx="2054.8" cy="2929.1" r="8.5" fill="#00d800"/>
<circle cx="2185.9" cy="2933.5" r="8.5" fill="#00d800"/>
<circle cx="2317" cy="2937.2" r="8.5" fill="#00d800"/>
<path d="M1399.4 2517.8 L1389.6 2534.8 L1409.2 2534.8 Z" fill="#000000"/>
<path d="M1464.9 2643.4 L1455.2 2660.4 L1474.7 2660.4 Z" fill="#000000"/>
<path d="M1530.5 2699.3 L1520.7 2716.3 L1540.3 2716.3 Z" fill="#000000"/>
<path d="M1596 2753.6 L1586.3 2770.5 L1605.8 2770.5 Z" fill="#000000"/>
<path d="M1661.6 2802.2 L1651.8 2819.1 L1671.3 2819.1 Z" fill="#000000"/>
<path d="M1792.7 2831.3 L1782.9 2848.3 L1802.4 2848.3 Z" fill="#000000"/>
<path d="M1923.7 2879.6 L1914 2896.5 L1933.5 2896.5 Z" fill="#000000"/>
<path d="M2054.8 2912.6 L2045.1 2929.5 L2064.6 2929.5 Z" fill="#000000"/>
<path d="M2185.9 2921.2 L2176.1 2938.1 L2195.7 2938.1 Z" fill="#000000"/>
<path d="M2317 2924.8 L2307.2 2941.8 L2326.8 2941.8 Z" fill="#000000"/>
<rect x="1390.9" y="3161.5" width="17" height="17" fill="#0a14ff"/>
<rect x="1456.4" y="2947.3" width="17" height="17" fill="#0a14ff"/>
<rect x="1522" y="2875.2" width="17" height="17" fill="#0a14ff"/>
<rect x="1587.5" y="2777.7" width="17" height="17" fill="#0a14ff"/>
<rect x="1653.1" y="2705.6" width="17" height="17" fill="#0a14ff"/>
<rect x="1784.2" y="2662.9" width="17" height="17" fill="#0a14ff"/>
<rect x="1915.2" y="2580.7" width="17" height="17" fill="#0a14ff"/>
<rect x="2046.3" y="2528.9" width="17" height="17" fill="#0a14ff"/>
<rect x="2177.4" y="2519.8" width="17" height="17" fill="#0a14ff"/>
<rect x="2308.5" y="2513.7" width="17" height="17" fill="#0a14ff"/>
</g>
<path d="M2317 2510 L1399.4 2510 L1399.4 3170 L2317 3170" fill="none" stroke="#000" stroke-width="7" stroke-linecap="square" stroke-linejoin="miter"/>
<path d="M2317 2510 L2317 3170" fill="none" stroke="#0a14ff" stroke-width="7" stroke-linecap="square"/>
<path d="M1464.9 3170 V3160.5 M1530.5 3170 V3154.5 M1596 3170 V3160.5 M1661.6 3170 V3154.5 M1727.1 3170 V3160.5 M1792.7 3170 V3154.5 M1858.2 3170 V3160.5 M1923.7 3170 V3154.5 M1989.3 3170 V3160.5 M2054.8 3170 V3154.5 M2120.4 3170 V3160.5 M2185.9 3170 V3154.5 M2251.5 3170 V3160.5" stroke="#000" stroke-width="7" fill="none"/>
<text transform="translate(1399.4 3220) scale(1.0800 1)" x="0" y="0" font-family="'Liberation Serif', 'Times New Roman', serif" font-size="44" font-weight="bold" text-anchor="middle" fill="#000000">0</text>
<text transform="translate(1530.5 3220) scale(1.0800 1)" x="0" y="0" font-family="'Liberation Serif', 'Times New Roman', serif" font-size="44" font-weight="bold" text-anchor="middle" fill="#000000">30</text>
<text transform="translate(1661.6 3220) scale(1.0800 1)" x="0" y="0" font-family="'Liberation Serif', 'Times New Roman', serif" font-size="44" font-weight="bold" text-anchor="middle" fill="#000000">60</text>
<text transform="translate(1792.7 3220) scale(1.0800 1)" x="0" y="0" font-family="'Liberation Serif', 'Times New Roman', serif" font-size="44" font-weight="bold" text-anchor="middle" fill="#000000">90</text>
<text transform="translate(1923.7 3220) scale(1.0800 1)" x="0" y="0" font-family="'Liberation Serif', 'Times New Roman', serif" font-size="44" font-weight="bold" text-anchor="middle" fill="#000000">120</text>
<text transform="translate(2054.8 3220) scale(1.0800 1)" x="0" y="0" font-family="'Liberation Serif', 'Times New Roman', serif" font-size="44" font-weight="bold" text-anchor="middle" fill="#000000">150</text>
<text transform="translate(2185.9 3220) scale(1.0800 1)" x="0" y="0" font-family="'Liberation Serif', 'Times New Roman', serif" font-size="44" font-weight="bold" text-anchor="middle" fill="#000000">180</text>
<text transform="translate(2317 3220) scale(1.0800 1)" x="0" y="0" font-family="'Liberation Serif', 'Times New Roman', serif" font-size="44" font-weight="bold" text-anchor="middle" fill="#000000">210</text>
<path d="M1399.4 3124.2 H1408.9 M1399.4 3078.3 H1414.9 M1399.4 3032.5 H1408.9 M1399.4 2986.7 H1414.9 M1399.4 2940.8 H1408.9 M1399.4 2895 H1414.9 M1399.4 2849.2 H1408.9 M1399.4 2803.3 H1414.9 M1399.4 2757.5 H1408.9 M1399.4 2711.7 H1414.9 M1399.4 2665.8 H1408.9 M1399.4 2620 H1414.9 M1399.4 2574.2 H1408.9 M1399.4 2528.3 H1414.9" stroke="#000" stroke-width="7" fill="none"/>
<text transform="translate(1381.4 3184.3) scale(1.1000 1)" x="0" y="0" font-family="'Liberation Serif', 'Times New Roman', serif" font-size="46" font-weight="bold" text-anchor="end" fill="#000000">0</text>
<text transform="translate(1381.4 3092.6) scale(1.1000 1)" x="0" y="0" font-family="'Liberation Serif', 'Times New Roman', serif" font-size="46" font-weight="bold" text-anchor="end" fill="#000000">50</text>
<text transform="translate(1381.4 3000.9) scale(1.1000 1)" x="0" y="0" font-family="'Liberation Serif', 'Times New Roman', serif" font-size="46" font-weight="bold" text-anchor="end" fill="#000000">100</text>
<text transform="translate(1381.4 2909.3) scale(1.1000 1)" x="0" y="0" font-family="'Liberation Serif', 'Times New Roman', serif" font-size="46" font-weight="bold" text-anchor="end" fill="#000000">150</text>
<text transform="translate(1381.4 2817.6) scale(1.1000 1)" x="0" y="0" font-family="'Liberation Serif', 'Times New Roman', serif" font-size="46" font-weight="bold" text-anchor="end" fill="#000000">200</text>
<text transform="translate(1381.4 2725.9) scale(1.1000 1)" x="0" y="0" font-family="'Liberation Serif', 'Times New Roman', serif" font-size="46" font-weight="bold" text-anchor="end" fill="#000000">250</text>
<text transform="translate(1381.4 2634.3) scale(1.1000 1)" x="0" y="0" font-family="'Liberation Serif', 'Times New Roman', serif" font-size="46" font-weight="bold" text-anchor="end" fill="#000000">300</text>
<text transform="translate(1381.4 2542.6) scale(1.1000 1)" x="0" y="0" font-family="'Liberation Serif', 'Times New Roman', serif" font-size="46" font-weight="bold" text-anchor="end" fill="#000000">350</text>
<path d="M2317 3119.2 H2307.5 M2317 3068.5 H2301.5 M2317 3017.7 H2307.5 M2317 2966.9 H2301.5 M2317 2916.2 H2307.5 M2317 2865.4 H2301.5 M2317 2814.6 H2307.5 M2317 2763.8 H2301.5 M2317 2713.1 H2307.5 M2317 2662.3 H2301.5 M2317 2611.5 H2307.5 M2317 2560.8 H2301.5" stroke="#0a14ff" stroke-width="7" fill="none"/>
<text transform="translate(2333 3183.6) scale(1.1000 1)" x="0" y="0" font-family="'Liberation Serif', 'Times New Roman', serif" font-size="44" font-weight="bold" text-anchor="start" fill="#000000">0</text>
<text transform="translate(2333 3082.1) scale(1.1000 1)" x="0" y="0" font-family="'Liberation Serif', 'Times New Roman', serif" font-size="44" font-weight="bold" text-anchor="start" fill="#000000">10</text>
<text transform="translate(2333 2980.6) scale(1.1000 1)" x="0" y="0" font-family="'Liberation Serif', 'Times New Roman', serif" font-size="44" font-weight="bold" text-anchor="start" fill="#000000">20</text>
<text transform="translate(2333 2879) scale(1.1000 1)" x="0" y="0" font-family="'Liberation Serif', 'Times New Roman', serif" font-size="44" font-weight="bold" text-anchor="start" fill="#000000">30</text>
<text transform="translate(2333 2777.5) scale(1.1000 1)" x="0" y="0" font-family="'Liberation Serif', 'Times New Roman', serif" font-size="44" font-weight="bold" text-anchor="start" fill="#000000">40</text>
<text transform="translate(2333 2675.9) scale(1.1000 1)" x="0" y="0" font-family="'Liberation Serif', 'Times New Roman', serif" font-size="44" font-weight="bold" text-anchor="start" fill="#000000">50</text>
<text transform="translate(2333 2574.4) scale(1.1000 1)" x="0" y="0" font-family="'Liberation Serif', 'Times New Roman', serif" font-size="44" font-weight="bold" text-anchor="start" fill="#000000">60</text>
<text transform="translate(1291 2840.2) rotate(-90) scale(0.9392 1)" x="0" y="0" font-family="'Liberation Serif', 'Times New Roman', serif" font-size="47" font-weight="bold" text-anchor="middle" fill="#000000">COD (mg L<tspan font-size="29.1" dy="-23.5">-1</tspan><tspan dy="23.5">)</tspan></text>
<text transform="translate(2434 2840) rotate(-90) scale(0.9439 1)" x="0" y="0" font-family="'Liberation Serif', 'Times New Roman', serif" font-size="50" font-weight="normal" text-anchor="middle" fill="#0a14ff">COD removal %</text>
<text transform="translate(1856.7 3289.5) scale(1.1141 1)" x="0" y="0" font-family="'Liberation Serif', 'Times New Roman', serif" font-size="44.5" font-weight="bold" text-anchor="middle" fill="#000000">Time (min)</text>
<polyline points="1525,2971.8 1611,2971.8" fill="none" stroke="#ff0000" stroke-width="4.5" stroke-linejoin="round" stroke-linecap="butt"/>
<rect x="1560" y="2963.8" width="16" height="16" fill="#ff0000"/>
<text transform="translate(1624 2984.3) scale(1.1072 1)" x="0" y="0" font-family="'Liberation Sans', Arial, sans-serif" font-size="34.6" font-weight="bold" text-anchor="start" fill="#111">Reactor 1</text>
<polyline points="1525,3015.1 1611,3015.1" fill="none" stroke="#00d800" stroke-width="4.5" stroke-linejoin="round" stroke-linecap="butt"/>
<circle cx="1568" cy="3015.1" r="8.5" fill="#00d800"/>
<text transform="translate(1624 3027.6) scale(1.1072 1)" x="0" y="0" font-family="'Liberation Sans', Arial, sans-serif" font-size="34.6" font-weight="bold" text-anchor="start" fill="#111">Reactor 2</text>
<polyline points="1525,3058.4 1611,3058.4" fill="none" stroke="#000000" stroke-width="4.5" stroke-linejoin="round" stroke-linecap="butt"/>
<path d="M1568 3047.7 L1558 3065 L1578 3065 Z" fill="#000000"/>
<text transform="translate(1624 3070.9) scale(1.1072 1)" x="0" y="0" font-family="'Liberation Sans', Arial, sans-serif" font-size="34.6" font-weight="bold" text-anchor="start" fill="#111">Reactor 3</text>
<text x="1443" y="3125.5" font-family="'Liberation Serif', 'Times New Roman', serif" font-size="66" font-weight="bold" text-anchor="start" fill="#000000">h</text>
<clipPath id="cpj"><rect x="1402" y="3331" width="937" height="676"/></clipPath><g clip-path="url(#cpj)">
<polyline points="1402,4007 1407,3993.2 1411.8,3979.9 1416.5,3967.2 1421.1,3955 1425.6,3943.3 1430,3932.2 1434.2,3921.5 1438.4,3911.3 1442.4,3901.6 1446.4,3892.4 1450.2,3883.5 1454,3875.2 1457.6,3867.2 1461.2,3859.6 1464.6,3852.4 1468,3845.5 1471.3,3839.1 1474.6,3832.9 1477.7,3827.1 1480.8,3821.6 1483.8,3816.4 1486.7,3811.4 1489.6,3806.8 1492.4,3802.3 1495.1,3798.2 1497.8,3794.2 1500.4,3790.5 1502.9,3786.9 1505.4,3783.6 1507.9,3780.4 1510.3,3777.3 1512.7,3774.4 1515,3771.6 1517.3,3769 1519.5,3766.4 1521.7,3763.9 1523.9,3761.4 1526.1,3759.1 1528.2,3756.7 1530.3,3754.4 1532.4,3752.1 1534.4,3749.8 1536.5,3747.5 1538.5,3745.3 1540.5,3743 1542.5,3740.7 1544.4,3738.5 1546.4,3736.2 1548.3,3734 1550.2,3731.8 1552.1,3729.6 1554,3727.4 1555.9,3725.2 1557.8,3723 1559.6,3720.8 1561.4,3718.6 1563.2,3716.4 1565,3714.3 1566.8,3712.1 1568.6,3710 1570.4,3707.8 1572.2,3705.7 1573.9,3703.5 1575.7,3701.4 1577.4,3699.3 1579.1,3697.2 1580.8,3695 1582.6,3692.9 1584.3,3690.8 1586,3688.7 1587.7,3686.6 1589.4,3684.5 1591,3682.4 1592.7,3680.3 1594.4,3678.3 1596.1,3676.2 1597.8,3674.1 1599.4,3672 1601.1,3669.9 1602.8,3667.9 1604.5,3665.8 1606.1,3663.7 1607.8,3661.7 1609.5,3659.6 1611.2,3657.6 1612.9,3655.5 1614.6,3653.5 1616.3,3651.4 1618,3649.4 1619.7,3647.4 1621.4,3645.4 1623.2,3643.3 1624.9,3641.3 1626.7,3639.4 1628.5,3637.4 1630.3,3635.4 1632.1,3633.4 1633.9,3631.5 1635.8,3629.6 1637.6,3627.6 1639.5,3625.7 1641.5,3623.8 1643.4,3622 1645.4,3620.1 1647.3,3618.3 1649.4,3616.4 1651.4,3614.6 1653.5,3612.8 1655.6,3611 1657.7,3609.3 1659.8,3607.5 1662,3605.8 1664.3,3604.1 1666.5,3602.4 1668.8,3600.8 1671.2,3599.1 1673.5,3597.5 1675.9,3595.9 1678.4,3594.4 1680.9,3592.8 1683.4,3591.3 1686,3589.8 1688.6,3588.3 1691.2,3586.9 1693.9,3585.4 1696.6,3584 1699.4,3582.7 1702.2,3581.3 1705,3580 1707.9,3578.6 1710.8,3577.3 1713.7,3576 1716.6,3574.8 1719.6,3573.5 1722.6,3572.3 1725.7,3571.1 1728.7,3569.9 1731.8,3568.7 1734.9,3567.5 1738,3566.3 1741.2,3565.2 1744.4,3564 1747.5,3562.9 1750.7,3561.8 1754,3560.7 1757.2,3559.6 1760.5,3558.5 1763.7,3557.4 1767,3556.3 1770.3,3555.2 1773.6,3554.2 1776.9,3553.1 1780.2,3552.1 1783.5,3551 1786.9,3550 1790.2,3548.9 1793.5,3547.9 1796.9,3546.9 1800.2,3545.8 1803.6,3544.8 1806.9,3543.7 1810.3,3542.7 1813.6,3541.7 1817,3540.6 1820.3,3539.6 1823.7,3538.6 1827,3537.5 1830.3,3536.5 1833.7,3535.5 1837,3534.4 1840.4,3533.4 1843.7,3532.3 1847.1,3531.3 1850.4,3530.3 1853.8,3529.2 1857.1,3528.2 1860.5,3527.1 1863.8,3526.1 1867.2,3525.1 1870.5,3524 1873.8,3523 1877.2,3521.9 1880.5,3520.9 1883.9,3519.8 1887.2,3518.8 1890.6,3517.7 1893.9,3516.7 1897.3,3515.6 1900.6,3514.6 1904,3513.5 1907.3,3512.4 1910.7,3511.4 1914,3510.3 1917.4,3509.2 1920.7,3508.2 1924,3507.1 1927.4,3506 1930.7,3505 1934.1,3503.9 1937.4,3502.8 1940.8,3501.7 1944.1,3500.7 1947.5,3499.6 1950.8,3498.5 1954.2,3497.4 1957.5,3496.3 1960.9,3495.2 1964.3,3494.2 1967.7,3493.1 1971.1,3492 1974.5,3490.9 1977.9,3489.9 1981.3,3488.8 1984.8,3487.7 1988.2,3486.7 1991.7,3485.6 1995.2,3484.5 1998.7,3483.5 2002.2,3482.4 2005.8,3481.4 2009.3,3480.4 2012.9,3479.3 2016.5,3478.3 2020.2,3477.3 2023.8,3476.3 2027.5,3475.3 2031.2,3474.3 2035,3473.3 2038.7,3472.4 2042.5,3471.4 2046.4,3470.5 2050.2,3469.5 2054.1,3468.6 2058.1,3467.7 2062,3466.8 2066,3465.9 2070.1,3465 2074.2,3464.2 2078.3,3463.3 2082.4,3462.5 2086.6,3461.6 2090.9,3460.8 2095.2,3460.1 2099.6,3459.3 2104,3458.5 2108.5,3457.8 2113,3457.1 2117.7,3456.4 2122.4,3455.7 2127.2,3455.1 2132.1,3454.5 2137.2,3453.9 2142.3,3453.4 2147.5,3452.9 2152.8,3452.4 2158.3,3451.9 2163.9,3451.5 2169.6,3451.1 2175.4,3450.8 2181.4,3450.5 2187.6,3450.2 2193.9,3450 2200.3,3449.8 2206.9,3449.7 2213.7,3449.6 2220.7,3449.5 2227.8,3449.5 2235.1,3449.6 2242.6,3449.7 2250.3,3449.8 2258.2,3450 2266.3,3450.3 2274.6,3450.6 2283.1,3450.9 2291.8,3451.4 2300.8,3451.8 2310,3452.4 2319.4,3453 2329.1,3453.6 2339,3454.4" fill="none" stroke="#0a14ff" stroke-width="3.2" stroke-linejoin="round" stroke-linecap="round"/>
<polyline points="1402,3349.8 1407,3360.3 1411.8,3370.4 1416.5,3380 1421.1,3389.2 1425.6,3398 1430,3406.5 1434.2,3414.5 1438.4,3422.1 1442.4,3429.4 1446.4,3436.3 1450.2,3442.9 1454,3449.2 1457.6,3455.2 1461.2,3460.8 1464.6,3466.1 1468,3471.2 1471.3,3476 1474.6,3480.5 1477.7,3484.8 1480.8,3488.9 1483.8,3492.7 1486.7,3496.3 1489.6,3499.7 1492.4,3502.9 1495.1,3506 1497.8,3508.9 1500.4,3511.6 1502.9,3514.2 1505.4,3516.6 1507.9,3518.9 1510.3,3521.1 1512.7,3523.3 1515,3525.3 1517.3,3527.2 1519.5,3529.1 1521.7,3531 1523.9,3532.8 1526.1,3534.6 1528.2,3536.3 1530.3,3538.1 1532.4,3539.8 1534.4,3541.6 1536.5,3543.4 1538.5,3545.2 1540.5,3547 1542.5,3548.7 1544.4,3550.5 1546.4,3552.3 1548.3,3554.1 1550.2,3555.9 1552.1,3557.8 1554,3559.6 1555.9,3561.4 1557.8,3563.2 1559.6,3565 1561.4,3566.8 1563.2,3568.6 1565,3570.5 1566.8,3572.3 1568.6,3574.1 1570.4,3575.9 1572.2,3577.7 1573.9,3579.5 1575.7,3581.3 1577.4,3583.1 1579.1,3584.9 1580.8,3586.7 1582.6,3588.5 1584.3,3590.3 1586,3592.1 1587.7,3593.9 1589.4,3595.6 1591,3597.4 1592.7,3599.2 1594.4,3600.9 1596.1,3602.7 1597.8,3604.4 1599.4,3606.1 1601.1,3607.9 1602.8,3609.6 1604.5,3611.3 1606.1,3613 1607.8,3614.6 1609.5,3616.3 1611.2,3618 1612.9,3619.6 1614.6,3621.3 1616.3,3622.9 1618,3624.5 1619.7,3626.1 1621.4,3627.7 1623.2,3629.3 1624.9,3630.9 1626.7,3632.4 1628.5,3634 1630.3,3635.5 1632.1,3637.1 1633.9,3638.6 1635.8,3640.1 1637.6,3641.6 1639.5,3643 1641.5,3644.5 1643.4,3645.9 1645.4,3647.4 1647.3,3648.8 1649.4,3650.2 1651.4,3651.6 1653.5,3653 1655.6,3654.3 1657.7,3655.7 1659.8,3657 1662,3658.3 1664.3,3659.6 1666.5,3660.9 1668.8,3662.2 1671.2,3663.4 1673.5,3664.7 1675.9,3665.9 1678.4,3667.1 1680.9,3668.3 1683.4,3669.5 1686,3670.6 1688.6,3671.7 1691.2,3672.9 1693.9,3674 1696.6,3675.1 1699.4,3676.2 1702.2,3677.2 1705,3678.3 1707.9,3679.3 1710.8,3680.4 1713.7,3681.4 1716.6,3682.4 1719.6,3683.4 1722.6,3684.4 1725.7,3685.3 1728.7,3686.3 1731.8,3687.3 1734.9,3688.2 1738,3689.2 1741.2,3690.1 1744.4,3691 1747.5,3692 1750.7,3692.9 1754,3693.8 1757.2,3694.7 1760.5,3695.6 1763.7,3696.5 1767,3697.4 1770.3,3698.3 1773.6,3699.2 1776.9,3700.1 1780.2,3701 1783.5,3701.9 1786.9,3702.7 1790.2,3703.6 1793.5,3704.5 1796.9,3705.4 1800.2,3706.3 1803.6,3707.2 1806.9,3708.1 1810.3,3709 1813.6,3709.9 1817,3710.8 1820.3,3711.7 1823.7,3712.6 1827,3713.5 1830.3,3714.4 1833.7,3715.3 1837,3716.2 1840.4,3717.1 1843.7,3718 1847.1,3718.9 1850.4,3719.8 1853.8,3720.8 1857.1,3721.7 1860.5,3722.6 1863.8,3723.5 1867.2,3724.4 1870.5,3725.3 1873.8,3726.2 1877.2,3727.2 1880.5,3728.1 1883.9,3729 1887.2,3729.9 1890.6,3730.8 1893.9,3731.7 1897.3,3732.6 1900.6,3733.6 1904,3734.5 1907.3,3735.4 1910.7,3736.3 1914,3737.2 1917.4,3738.1 1920.7,3739 1924,3739.9 1927.4,3740.8 1930.7,3741.7 1934.1,3742.6 1937.4,3743.5 1940.8,3744.4 1944.1,3745.3 1947.5,3746.1 1950.8,3747 1954.2,3747.9 1957.5,3748.8 1960.9,3749.7 1964.3,3750.5 1967.7,3751.4 1971.1,3752.2 1974.5,3753.1 1977.9,3753.9 1981.3,3754.8 1984.8,3755.6 1988.2,3756.5 1991.7,3757.3 1995.2,3758.1 1998.7,3758.9 2002.2,3759.7 2005.8,3760.5 2009.3,3761.3 2012.9,3762.1 2016.5,3762.9 2020.2,3763.6 2023.8,3764.4 2027.5,3765.2 2031.2,3765.9 2035,3766.6 2038.7,3767.4 2042.5,3768.1 2046.4,3768.8 2050.2,3769.5 2054.1,3770.1 2058.1,3770.8 2062,3771.5 2066,3772.1 2070.1,3772.8 2074.2,3773.4 2078.3,3774 2082.4,3774.6 2086.6,3775.2 2090.9,3775.8 2095.2,3776.4 2099.6,3776.9 2104,3777.5 2108.5,3778 2113,3778.5 2117.7,3779 2122.4,3779.5 2127.2,3779.9 2132.1,3780.4 2137.2,3780.8 2142.3,3781.3 2147.5,3781.7 2152.8,3782 2158.3,3782.4 2163.9,3782.8 2169.6,3783.1 2175.4,3783.4 2181.4,3783.7 2187.6,3784 2193.9,3784.3 2200.3,3784.5 2206.9,3784.7 2213.7,3784.9 2220.7,3785.1 2227.8,3785.3 2235.1,3785.4 2242.6,3785.5 2250.3,3785.6 2258.2,3785.7 2266.3,3785.8 2274.6,3785.8 2283.1,3785.8 2291.8,3785.8 2300.8,3785.8 2310,3785.7 2319.4,3785.7 2329.1,3785.6 2339,3785.4" fill="none" stroke="#ff0000" stroke-width="3.2" stroke-linejoin="round" stroke-linecap="round"/>
<polyline points="1402,3349.8 1407,3360.9 1411.8,3371.6 1416.5,3381.8 1421.1,3391.6 1425.6,3400.9 1430,3409.8 1434.2,3418.3 1438.4,3426.4 1442.4,3434.1 1446.4,3441.4 1450.2,3448.3 1454,3454.9 1457.6,3461.2 1461.2,3467.1 1464.6,3472.8 1468,3478.1 1471.3,3483.1 1474.6,3487.9 1477.7,3492.4 1480.8,3496.6 1483.8,3500.6 1486.7,3504.4 1489.6,3508 1492.4,3511.3 1495.1,3514.5 1497.8,3517.5 1500.4,3520.4 1502.9,3523 1505.4,3525.6 1507.9,3528 1510.3,3530.3 1512.7,3532.5 1515,3534.6 1517.3,3536.7 1519.5,3538.6 1521.7,3540.6 1523.9,3542.4 1526.1,3544.3 1528.2,3546.2 1530.3,3548 1532.4,3549.8 1534.4,3551.7 1536.5,3553.6 1538.5,3555.5 1540.5,3557.3 1542.5,3559.2 1544.4,3561.1 1546.4,3563 1548.3,3565 1550.2,3566.9 1552.1,3568.8 1554,3570.7 1555.9,3572.6 1557.8,3574.6 1559.6,3576.5 1561.4,3578.4 1563.2,3580.3 1565,3582.3 1566.8,3584.2 1568.6,3586.1 1570.4,3588 1572.2,3589.9 1573.9,3591.8 1575.7,3593.7 1577.4,3595.6 1579.1,3597.5 1580.8,3599.3 1582.6,3601.2 1584.3,3603.1 1586,3604.9 1587.7,3606.7 1589.4,3608.5 1591,3610.3 1592.7,3612.1 1594.4,3613.9 1596.1,3615.7 1597.8,3617.4 1599.4,3619.1 1601.1,3620.8 1602.8,3622.5 1604.5,3624.2 1606.1,3625.8 1607.8,3627.5 1609.5,3629.1 1611.2,3630.7 1612.9,3632.3 1614.6,3633.8 1616.3,3635.3 1618,3636.9 1619.7,3638.4 1621.4,3639.9 1623.2,3641.3 1624.9,3642.8 1626.7,3644.2 1628.5,3645.6 1630.3,3647 1632.1,3648.4 1633.9,3649.8 1635.8,3651.1 1637.6,3652.4 1639.5,3653.7 1641.5,3655 1643.4,3656.3 1645.4,3657.6 1647.3,3658.9 1649.4,3660.1 1651.4,3661.3 1653.5,3662.5 1655.6,3663.7 1657.7,3664.9 1659.8,3666 1662,3667.2 1664.3,3668.3 1666.5,3669.5 1668.8,3670.6 1671.2,3671.6 1673.5,3672.7 1675.9,3673.8 1678.4,3674.8 1680.9,3675.9 1683.4,3676.9 1686,3677.9 1688.6,3678.9 1691.2,3679.9 1693.9,3680.9 1696.6,3681.9 1699.4,3682.8 1702.2,3683.8 1705,3684.7 1707.9,3685.6 1710.8,3686.5 1713.7,3687.4 1716.6,3688.3 1719.6,3689.2 1722.6,3690.1 1725.7,3691 1728.7,3691.9 1731.8,3692.7 1734.9,3693.6 1738,3694.4 1741.2,3695.2 1744.4,3696.1 1747.5,3696.9 1750.7,3697.7 1754,3698.5 1757.2,3699.4 1760.5,3700.2 1763.7,3701 1767,3701.8 1770.3,3702.6 1773.6,3703.4 1776.9,3704.2 1780.2,3705 1783.5,3705.7 1786.9,3706.5 1790.2,3707.3 1793.5,3708.1 1796.9,3708.9 1800.2,3709.7 1803.6,3710.5 1806.9,3711.3 1810.3,3712 1813.6,3712.8 1817,3713.6 1820.3,3714.4 1823.7,3715.2 1827,3716 1830.3,3716.8 1833.7,3717.6 1837,3718.4 1840.4,3719.2 1843.7,3720 1847.1,3720.8 1850.4,3721.6 1853.8,3722.4 1857.1,3723.2 1860.5,3724 1863.8,3724.8 1867.2,3725.6 1870.5,3726.4 1873.8,3727.2 1877.2,3728 1880.5,3728.9 1883.9,3729.7 1887.2,3730.5 1890.6,3731.3 1893.9,3732.2 1897.3,3733 1900.6,3733.8 1904,3734.7 1907.3,3735.5 1910.7,3736.3 1914,3737.2 1917.4,3738 1920.7,3738.9 1924,3739.7 1927.4,3740.6 1930.7,3741.4 1934.1,3742.3 1937.4,3743.2 1940.8,3744 1944.1,3744.9 1947.5,3745.8 1950.8,3746.7 1954.2,3747.5 1957.5,3748.4 1960.9,3749.3 1964.3,3750.2 1967.7,3751.1 1971.1,3751.9 1974.5,3752.8 1977.9,3753.7 1981.3,3754.5 1984.8,3755.4 1988.2,3756.2 1991.7,3757.1 1995.2,3757.9 1998.7,3758.7 2002.2,3759.6 2005.8,3760.4 2009.3,3761.2 2012.9,3762 2016.5,3762.7 2020.2,3763.5 2023.8,3764.3 2027.5,3765 2031.2,3765.7 2035,3766.4 2038.7,3767.1 2042.5,3767.8 2046.4,3768.5 2050.2,3769.2 2054.1,3769.8 2058.1,3770.4 2062,3771 2066,3771.6 2070.1,3772.1 2074.2,3772.7 2078.3,3773.2 2082.4,3773.7 2086.6,3774.1 2090.9,3774.6 2095.2,3775 2099.6,3775.4 2104,3775.8 2108.5,3776.1 2113,3776.5 2117.7,3776.8 2122.4,3777.1 2127.2,3777.4 2132.1,3777.6 2137.2,3777.9 2142.3,3778.1 2147.5,3778.3 2152.8,3778.5 2158.3,3778.6 2163.9,3778.8 2169.6,3778.9 2175.4,3779 2181.4,3779.1 2187.6,3779.2 2193.9,3779.2 2200.3,3779.3 2206.9,3779.3 2213.7,3779.3 2220.7,3779.3 2227.8,3779.3 2235.1,3779.3 2242.6,3779.2 2250.3,3779.2 2258.2,3779.1 2266.3,3779 2274.6,3778.9 2283.1,3778.8 2291.8,3778.7 2300.8,3778.6 2310,3778.4 2319.4,3778.3 2329.1,3778.1 2339,3777.9" fill="none" stroke="#00d800" stroke-width="3.2" stroke-linejoin="round" stroke-linecap="round"/>
<polyline points="1402,3349.8 1407,3360.4 1411.8,3370.6 1416.5,3380.4 1421.1,3389.8 1425.6,3398.8 1430,3407.5 1434.2,3415.7 1438.4,3423.6 1442.4,3431.2 1446.4,3438.4 1450.2,3445.3 1454,3451.9 1457.6,3458.1 1461.2,3464.1 1464.6,3469.8 1468,3475.2 1471.3,3480.3 1474.6,3485.1 1477.7,3489.8 1480.8,3494.1 1483.8,3498.3 1486.7,3502.2 1489.6,3505.9 1492.4,3509.4 1495.1,3512.8 1497.8,3515.9 1500.4,3518.9 1502.9,3521.7 1505.4,3524.4 1507.9,3527 1510.3,3529.4 1512.7,3531.7 1515,3533.9 1517.3,3535.9 1519.5,3537.9 1521.7,3539.9 1523.9,3541.7 1526.1,3543.5 1528.2,3545.2 1530.3,3546.9 1532.4,3548.6 1534.4,3550.3 1536.5,3551.9 1538.5,3553.5 1540.5,3555.1 1542.5,3556.6 1544.4,3558.1 1546.4,3559.7 1548.3,3561.2 1550.2,3562.6 1552.1,3564.1 1554,3565.5 1555.9,3567 1557.8,3568.4 1559.6,3569.8 1561.4,3571.2 1563.2,3572.5 1565,3573.9 1566.8,3575.3 1568.6,3576.6 1570.4,3578 1572.2,3579.3 1573.9,3580.7 1575.7,3582 1577.4,3583.4 1579.1,3584.7 1580.8,3586.1 1582.6,3587.4 1584.3,3588.8 1586,3590.1 1587.7,3591.5 1589.4,3592.9 1591,3594.2 1592.7,3595.6 1594.4,3597 1596.1,3598.4 1597.8,3599.9 1599.4,3601.3 1601.1,3602.7 1602.8,3604.2 1604.5,3605.7 1606.1,3607.2 1607.8,3608.7 1609.5,3610.3 1611.2,3611.8 1612.9,3613.4 1614.6,3614.9 1616.3,3616.5 1618,3618.1 1619.7,3619.7 1621.4,3621.3 1623.2,3622.9 1624.9,3624.6 1626.7,3626.2 1628.5,3627.8 1630.3,3629.4 1632.1,3631.1 1633.9,3632.7 1635.8,3634.4 1637.6,3636 1639.5,3637.6 1641.5,3639.2 1643.4,3640.9 1645.4,3642.5 1647.3,3644.1 1649.4,3645.7 1651.4,3647.3 1653.5,3648.9 1655.6,3650.4 1657.7,3652 1659.8,3653.6 1662,3655.1 1664.3,3656.6 1666.5,3658.1 1668.8,3659.6 1671.2,3661.1 1673.5,3662.6 1675.9,3664 1678.4,3665.4 1680.9,3666.8 1683.4,3668.2 1686,3669.5 1688.6,3670.9 1691.2,3672.2 1693.9,3673.5 1696.6,3674.7 1699.4,3676 1702.2,3677.2 1705,3678.4 1707.9,3679.6 1710.8,3680.8 1713.7,3681.9 1716.6,3683.1 1719.6,3684.2 1722.6,3685.3 1725.7,3686.4 1728.7,3687.5 1731.8,3688.6 1734.9,3689.6 1738,3690.6 1741.2,3691.7 1744.4,3692.7 1747.5,3693.7 1750.7,3694.6 1754,3695.6 1757.2,3696.6 1760.5,3697.5 1763.7,3698.5 1767,3699.4 1770.3,3700.3 1773.6,3701.2 1776.9,3702.1 1780.2,3703 1783.5,3703.9 1786.9,3704.8 1790.2,3705.6 1793.5,3706.5 1796.9,3707.4 1800.2,3708.2 1803.6,3709.1 1806.9,3709.9 1810.3,3710.7 1813.6,3711.6 1817,3712.4 1820.3,3713.2 1823.7,3714.1 1827,3714.9 1830.3,3715.7 1833.7,3716.5 1837,3717.3 1840.4,3718.1 1843.7,3718.9 1847.1,3719.7 1850.4,3720.5 1853.8,3721.3 1857.1,3722.1 1860.5,3722.9 1863.8,3723.7 1867.2,3724.5 1870.5,3725.3 1873.8,3726 1877.2,3726.8 1880.5,3727.6 1883.9,3728.4 1887.2,3729.2 1890.6,3730 1893.9,3730.7 1897.3,3731.5 1900.6,3732.3 1904,3733.1 1907.3,3733.9 1910.7,3734.7 1914,3735.4 1917.4,3736.2 1920.7,3737 1924,3737.8 1927.4,3738.6 1930.7,3739.4 1934.1,3740.2 1937.4,3741 1940.8,3741.8 1944.1,3742.6 1947.5,3743.4 1950.8,3744.2 1954.2,3745 1957.5,3745.8 1960.9,3746.6 1964.3,3747.4 1967.7,3748.2 1971.1,3749.1 1974.5,3749.9 1977.9,3750.7 1981.3,3751.5 1984.8,3752.3 1988.2,3753.1 1991.7,3754 1995.2,3754.8 1998.7,3755.6 2002.2,3756.4 2005.8,3757.2 2009.3,3758 2012.9,3758.9 2016.5,3759.7 2020.2,3760.5 2023.8,3761.3 2027.5,3762.1 2031.2,3762.9 2035,3763.7 2038.7,3764.6 2042.5,3765.4 2046.4,3766.2 2050.2,3767 2054.1,3767.8 2058.1,3768.6 2062,3769.4 2066,3770.2 2070.1,3771 2074.2,3771.7 2078.3,3772.5 2082.4,3773.3 2086.6,3774.1 2090.9,3774.9 2095.2,3775.6 2099.6,3776.4 2104,3777.1 2108.5,3777.9 2113,3778.6 2117.7,3779.3 2122.4,3779.9 2127.2,3780.6 2132.1,3781.2 2137.2,3781.8 2142.3,3782.4 2147.5,3782.9 2152.8,3783.4 2158.3,3783.9 2163.9,3784.3 2169.6,3784.7 2175.4,3785 2181.4,3785.3 2187.6,3785.5 2193.9,3785.7 2200.3,3785.9 2206.9,3785.9 2213.7,3786 2220.7,3785.9 2227.8,3785.8 2235.1,3785.7 2242.6,3785.5 2250.3,3785.2 2258.2,3784.8 2266.3,3784.3 2274.6,3783.8 2283.1,3783.2 2291.8,3782.6 2300.8,3781.8 2310,3781 2319.4,3780 2329.1,3779 2339,3777.9" fill="none" stroke="#000000" stroke-width="3.2" stroke-linejoin="round" stroke-linecap="round"/>
<rect x="1393.5" y="3341.3" width="17" height="17" fill="#ff0000"/>
<rect x="1460.4" y="3484.6" width="17" height="17" fill="#ff0000"/>
<rect x="1527.4" y="3527.7" width="17" height="17" fill="#ff0000"/>
<rect x="1594.3" y="3603.6" width="17" height="17" fill="#ff0000"/>
<rect x="1661.2" y="3664.3" width="17" height="17" fill="#ff0000"/>
<rect x="1795.1" y="3698.1" width="17" height="17" fill="#ff0000"/>
<rect x="1928.9" y="3735.6" width="17" height="17" fill="#ff0000"/>
<rect x="2062.8" y="3769.4" width="17" height="17" fill="#ff0000"/>
<rect x="2196.6" y="3778.8" width="17" height="17" fill="#ff0000"/>
<rect x="2330.5" y="3776.9" width="17" height="17" fill="#ff0000"/>
<circle cx="1402" cy="3349.8" r="8.5" fill="#00d800"/>
<circle cx="1468.9" cy="3501.7" r="8.5" fill="#00d800"/>
<circle cx="1535.9" cy="3545.1" r="8.5" fill="#00d800"/>
<circle cx="1602.8" cy="3627.7" r="8.5" fill="#00d800"/>
<circle cx="1669.7" cy="3679.3" r="8.5" fill="#00d800"/>
<circle cx="1803.6" cy="3710.3" r="8.5" fill="#00d800"/>
<circle cx="1937.4" cy="3742.2" r="8.5" fill="#00d800"/>
<circle cx="2071.3" cy="3779.8" r="8.5" fill="#00d800"/>
<circle cx="2205.1" cy="3780.4" r="8.5" fill="#00d800"/>
<circle cx="2339" cy="3777.9" r="8.5" fill="#00d800"/>
<path d="M1402 3339.3 L1392.2 3356.2 L1411.8 3356.2 Z" fill="#000000"/>
<path d="M1468.9 3483.9 L1459.2 3500.8 L1478.7 3500.8 Z" fill="#000000"/>
<path d="M1535.9 3544 L1526.1 3560.9 L1545.6 3560.9 Z" fill="#000000"/>
<path d="M1602.8 3589 L1593 3606 L1612.6 3606 Z" fill="#000000"/>
<path d="M1669.7 3662.3 L1659.9 3679.2 L1679.5 3679.2 Z" fill="#000000"/>
<path d="M1803.6 3699.8 L1793.8 3716.7 L1813.3 3716.7 Z" fill="#000000"/>
<path d="M1937.4 3729.9 L1927.7 3746.8 L1947.2 3746.8 Z" fill="#000000"/>
<path d="M2071.3 3763.7 L2061.5 3780.6 L2081.1 3780.6 Z" fill="#000000"/>
<path d="M2205.1 3782.8 L2195.4 3799.7 L2214.9 3799.7 Z" fill="#000000"/>
<path d="M2339 3767.4 L2329.2 3784.3 L2348.8 3784.3 Z" fill="#000000"/>
<rect x="1393.5" y="3998.5" width="17" height="17" fill="#0a14ff"/>
<rect x="1460.4" y="3810.1" width="17" height="17" fill="#0a14ff"/>
<rect x="1527.4" y="3743.3" width="17" height="17" fill="#0a14ff"/>
<rect x="1594.3" y="3658.8" width="17" height="17" fill="#0a14ff"/>
<rect x="1661.2" y="3577.7" width="17" height="17" fill="#0a14ff"/>
<rect x="1795.1" y="3536.3" width="17" height="17" fill="#0a14ff"/>
<rect x="1928.9" y="3494.9" width="17" height="17" fill="#0a14ff"/>
<rect x="2062.8" y="3450.1" width="17" height="17" fill="#0a14ff"/>
<rect x="2196.6" y="3435.7" width="17" height="17" fill="#0a14ff"/>
<rect x="2330.5" y="3445.9" width="17" height="17" fill="#0a14ff"/>
</g>
<path d="M2339 3331 L1402 3331 L1402 4007 L2339 4007" fill="none" stroke="#000" stroke-width="7" stroke-linecap="square" stroke-linejoin="miter"/>
<path d="M2339 3331 L2339 4007" fill="none" stroke="#0a14ff" stroke-width="7" stroke-linecap="square"/>
<path d="M1468.9 4007 V3997.5 M1535.9 4007 V3991.5 M1602.8 4007 V3997.5 M1669.7 4007 V3991.5 M1736.6 4007 V3997.5 M1803.6 4007 V3991.5 M1870.5 4007 V3997.5 M1937.4 4007 V3991.5 M2004.4 4007 V3997.5 M2071.3 4007 V3991.5 M2138.2 4007 V3997.5 M2205.1 4007 V3991.5 M2272.1 4007 V3997.5" stroke="#000" stroke-width="7" fill="none"/>
<text transform="translate(1402 4057) scale(1.0800 1)" x="0" y="0" font-family="'Liberation Serif', 'Times New Roman', serif" font-size="44" font-weight="bold" text-anchor="middle" fill="#000000">0</text>
<text transform="translate(1535.9 4057) scale(1.0800 1)" x="0" y="0" font-family="'Liberation Serif', 'Times New Roman', serif" font-size="44" font-weight="bold" text-anchor="middle" fill="#000000">30</text>
<text transform="translate(1669.7 4057) scale(1.0800 1)" x="0" y="0" font-family="'Liberation Serif', 'Times New Roman', serif" font-size="44" font-weight="bold" text-anchor="middle" fill="#000000">60</text>
<text transform="translate(1803.6 4057) scale(1.0800 1)" x="0" y="0" font-family="'Liberation Serif', 'Times New Roman', serif" font-size="44" font-weight="bold" text-anchor="middle" fill="#000000">90</text>
<text transform="translate(1937.4 4057) scale(1.0800 1)" x="0" y="0" font-family="'Liberation Serif', 'Times New Roman', serif" font-size="44" font-weight="bold" text-anchor="middle" fill="#000000">120</text>
<text transform="translate(2071.3 4057) scale(1.0800 1)" x="0" y="0" font-family="'Liberation Serif', 'Times New Roman', serif" font-size="44" font-weight="bold" text-anchor="middle" fill="#000000">150</text>
<text transform="translate(2205.1 4057) scale(1.0800 1)" x="0" y="0" font-family="'Liberation Serif', 'Times New Roman', serif" font-size="44" font-weight="bold" text-anchor="middle" fill="#000000">180</text>
<text transform="translate(2339 4057) scale(1.0800 1)" x="0" y="0" font-family="'Liberation Serif', 'Times New Roman', serif" font-size="44" font-weight="bold" text-anchor="middle" fill="#000000">210</text>
<path d="M1402 3960.1 H1411.5 M1402 3913.1 H1417.5 M1402 3866.2 H1411.5 M1402 3819.2 H1417.5 M1402 3772.3 H1411.5 M1402 3725.3 H1417.5 M1402 3678.4 H1411.5 M1402 3631.4 H1417.5 M1402 3584.5 H1411.5 M1402 3537.6 H1417.5 M1402 3490.6 H1411.5 M1402 3443.7 H1417.5 M1402 3396.7 H1411.5 M1402 3349.8 H1417.5" stroke="#000" stroke-width="7" fill="none"/>
<text transform="translate(1384 4021.3) scale(1.1000 1)" x="0" y="0" font-family="'Liberation Serif', 'Times New Roman', serif" font-size="46" font-weight="bold" text-anchor="end" fill="#000000">0</text>
<text transform="translate(1384 3927.4) scale(1.1000 1)" x="0" y="0" font-family="'Liberation Serif', 'Times New Roman', serif" font-size="46" font-weight="bold" text-anchor="end" fill="#000000">50</text>
<text transform="translate(1384 3833.5) scale(1.1000 1)" x="0" y="0" font-family="'Liberation Serif', 'Times New Roman', serif" font-size="46" font-weight="bold" text-anchor="end" fill="#000000">100</text>
<text transform="translate(1384 3739.6) scale(1.1000 1)" x="0" y="0" font-family="'Liberation Serif', 'Times New Roman', serif" font-size="46" font-weight="bold" text-anchor="end" fill="#000000">150</text>
<text transform="translate(1384 3645.7) scale(1.1000 1)" x="0" y="0" font-family="'Liberation Serif', 'Times New Roman', serif" font-size="46" font-weight="bold" text-anchor="end" fill="#000000">200</text>
<text transform="translate(1384 3551.8) scale(1.1000 1)" x="0" y="0" font-family="'Liberation Serif', 'Times New Roman', serif" font-size="46" font-weight="bold" text-anchor="end" fill="#000000">250</text>
<text transform="translate(1384 3457.9) scale(1.1000 1)" x="0" y="0" font-family="'Liberation Serif', 'Times New Roman', serif" font-size="46" font-weight="bold" text-anchor="end" fill="#000000">300</text>
<text transform="translate(1384 3364) scale(1.1000 1)" x="0" y="0" font-family="'Liberation Serif', 'Times New Roman', serif" font-size="46" font-weight="bold" text-anchor="end" fill="#000000">350</text>
<path d="M2339 3922.5 H2329.5 M2339 3838 H2323.5 M2339 3753.5 H2329.5 M2339 3669 H2323.5 M2339 3584.5 H2329.5 M2339 3500 H2323.5 M2339 3415.5 H2329.5" stroke="#0a14ff" stroke-width="7" fill="none"/>
<text transform="translate(2355 4020.6) scale(1.1000 1)" x="0" y="0" font-family="'Liberation Serif', 'Times New Roman', serif" font-size="44" font-weight="bold" text-anchor="start" fill="#000000">0</text>
<text transform="translate(2355 3851.6) scale(1.1000 1)" x="0" y="0" font-family="'Liberation Serif', 'Times New Roman', serif" font-size="44" font-weight="bold" text-anchor="start" fill="#000000">20</text>
<text transform="translate(2355 3682.6) scale(1.1000 1)" x="0" y="0" font-family="'Liberation Serif', 'Times New Roman', serif" font-size="44" font-weight="bold" text-anchor="start" fill="#000000">40</text>
<text transform="translate(2355 3513.6) scale(1.1000 1)" x="0" y="0" font-family="'Liberation Serif', 'Times New Roman', serif" font-size="44" font-weight="bold" text-anchor="start" fill="#000000">60</text>
<text transform="translate(2355 3344.6) scale(1.1000 1)" x="0" y="0" font-family="'Liberation Serif', 'Times New Roman', serif" font-size="44" font-weight="bold" text-anchor="start" fill="#000000">80</text>
<text transform="translate(1291 3669.2) rotate(-90) scale(0.9612 1)" x="0" y="0" font-family="'Liberation Serif', 'Times New Roman', serif" font-size="47" font-weight="bold" text-anchor="middle" fill="#000000">COD (mg L<tspan font-size="29.1" dy="-23.5">-1</tspan><tspan dy="23.5">)</tspan></text>
<text transform="translate(2458.7 3669) rotate(-90) scale(0.9659 1)" x="0" y="0" font-family="'Liberation Serif', 'Times New Roman', serif" font-size="50" font-weight="normal" text-anchor="middle" fill="#0a14ff">COD removal %</text>
<text transform="translate(1869.6 4127.5) scale(1.1236 1)" x="0" y="0" font-family="'Liberation Serif', 'Times New Roman', serif" font-size="44.5" font-weight="bold" text-anchor="middle" fill="#000000">Time (min)</text>
<polyline points="1538,3815.5 1627,3815.5" fill="none" stroke="#ff0000" stroke-width="4.5" stroke-linejoin="round" stroke-linecap="butt"/>
<rect x="1574.5" y="3807.5" width="16" height="16" fill="#ff0000"/>
<text transform="translate(1639 3828) scale(1.1072 1)" x="0" y="0" font-family="'Liberation Sans', Arial, sans-serif" font-size="34.6" font-weight="bold" text-anchor="start" fill="#111">Reactor 1</text>
<polyline points="1538,3859.7 1627,3859.7" fill="none" stroke="#00d800" stroke-width="4.5" stroke-linejoin="round" stroke-linecap="butt"/>
<circle cx="1582.5" cy="3859.7" r="8.5" fill="#00d800"/>
<text transform="translate(1639 3872.2) scale(1.1072 1)" x="0" y="0" font-family="'Liberation Sans', Arial, sans-serif" font-size="34.6" font-weight="bold" text-anchor="start" fill="#111">Reactor 2</text>
<polyline points="1538,3903.9 1627,3903.9" fill="none" stroke="#000000" stroke-width="4.5" stroke-linejoin="round" stroke-linecap="butt"/>
<path d="M1582.5 3893.2 L1572.5 3910.5 L1592.5 3910.5 Z" fill="#000000"/>
<text transform="translate(1639 3916.4) scale(1.1072 1)" x="0" y="0" font-family="'Liberation Sans', Arial, sans-serif" font-size="34.6" font-weight="bold" text-anchor="start" fill="#111">Reactor 3</text>
<text x="1449" y="3948.5" font-family="'Liberation Serif', 'Times New Roman', serif" font-size="66" font-weight="bold" text-anchor="start" fill="#000000">j</text>
</svg></body></html>
